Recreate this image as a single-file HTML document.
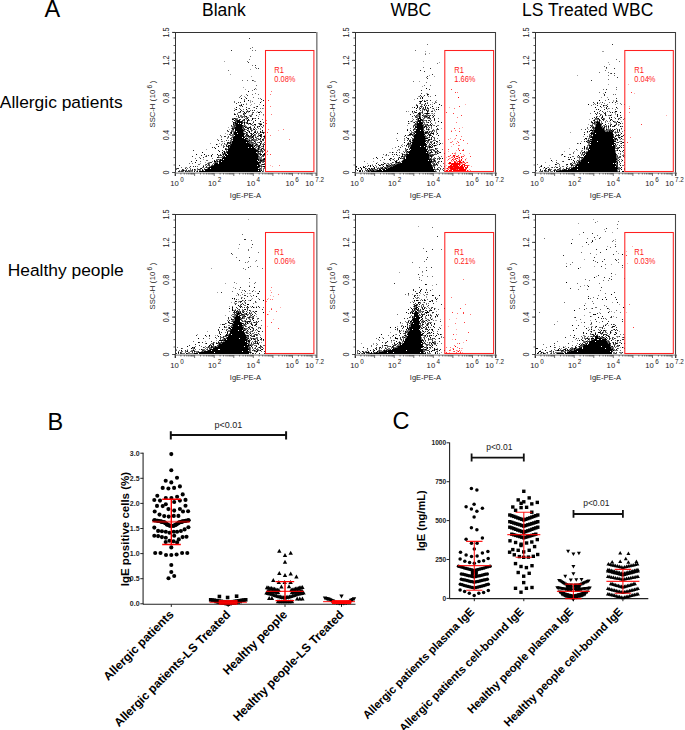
<!DOCTYPE html>
<html><head><meta charset="utf-8"><style>html,body{margin:0;padding:0;background:#fff;width:685px;height:730px;overflow:hidden}svg{display:block}text{font-family:"Liberation Sans", sans-serif}</style></head>
<body><svg width="685" height="730" viewBox="0 0 685 730" font-family='"Liberation Sans", sans-serif'>
<rect width="685" height="730" fill="#fff"/>
<path d="M224 61h1v1h-1zM250 69h1v1h-1zM230 74h1v1h-1zM251 76h1v1h-1zM254 81h2v1h-2zM243 87h1v1h-1zM245 89h1v1h-1zM256 89h1v1h-1zM244 96h1v1h-1zM250 100h1v1h-1zM250 101h1v1h-1zM261 101h1v1h-1zM250 102h1v1h-1zM246 103h1v1h-1zM254 103h1v1h-1zM251 104h1v1h-1zM259 104h1v1h-1zM250 105h1v1h-1zM240 106h1v1h-1zM253 107h1v1h-1zM234 108h1v1h-1zM263 108h1v1h-1zM242 111h1v1h-1zM257 111h1v1h-1zM248 112h1v1h-1zM256 112h1v1h-1zM251 114h1v1h-1zM263 115h1v1h-1zM258 116h1v1h-1zM254 118h1v1h-1zM245 122h1v1h-1zM261 123h1v1h-1zM263 126h1v1h-1zM228 127h1v1h-1zM229 129h1v1h-1zM227 131h1v1h-1zM225 133h1v1h-1zM227 134h1v1h-1zM264 135h1v1h-1zM221 137h1v1h-1zM227 137h1v1h-1zM224 141h1v1h-1zM210 143h1v1h-1zM219 143h1v1h-1zM222 143h1v1h-1zM217 144h1v1h-1zM224 144h2v1h-2zM221 145h1v1h-1zM206 149h1v1h-1zM203 159h1v1h-1zM205 162h1v1h-1zM208 162h1v1h-1zM200 163h1v1h-1zM185 167h1v1h-1z" fill="rgb(160,160,160)"/><path d="M252 47h1v1h-1zM250 48h1v1h-1zM252 50h1v1h-1zM255 50h1v1h-1zM250 56h1v1h-1zM249 59h1v1h-1zM247 61h1v1h-1zM252 65h1v1h-1zM255 67h1v1h-1zM256 68h1v1h-1zM228 70h1v1h-1zM242 80h1v1h-1zM247 80h1v1h-1zM253 80h1v1h-1zM256 85h1v1h-1zM255 88h1v1h-1zM252 90h1v1h-1zM255 93h1v1h-1zM246 94h1v1h-1zM252 94h1v1h-1zM258 94h1v1h-1zM241 95h1v1h-1zM240 96h1v1h-1zM239 97h1v1h-1zM245 97h1v1h-1zM253 97h1v1h-1zM258 98h1v1h-1zM260 98h1v1h-1zM244 99h1v1h-1zM244 100h1v1h-1zM234 101h1v1h-1zM252 101h1v1h-1zM234 102h1v1h-1zM246 104h1v1h-1zM240 105h1v1h-1zM256 106h1v1h-1zM239 108h1v1h-1zM248 108h1v1h-1zM260 108h1v1h-1zM262 108h1v1h-1zM235 109h1v1h-1zM243 109h1v1h-1zM247 110h1v1h-1zM250 110h1v1h-1zM246 111h1v1h-1zM248 111h1v1h-1zM260 111h1v1h-1zM238 112h1v1h-1zM240 112h1v1h-1zM252 112h1v1h-1zM261 112h1v1h-1zM234 113h1v1h-1zM237 113h1v1h-1zM244 113h1v1h-1zM252 113h1v1h-1zM237 114h1v1h-1zM244 114h1v1h-1zM259 114h1v1h-1zM263 114h1v1h-1zM240 115h2v1h-2zM249 115h3v1h-3zM236 116h1v1h-1zM240 116h5v1h-5zM251 116h1v1h-1zM238 117h1v1h-1zM241 117h1v1h-1zM244 117h1v1h-1zM246 117h3v1h-3zM232 118h2v1h-2zM236 118h2v1h-2zM245 118h2v1h-2zM253 118h1v1h-1zM237 119h1v1h-1zM243 119h1v1h-1zM246 119h1v1h-1zM262 119h1v1h-1zM235 120h1v1h-1zM249 120h1v1h-1zM251 120h1v1h-1zM232 121h1v1h-1zM244 121h1v1h-1zM253 121h1v1h-1zM236 122h1v1h-1zM243 122h1v1h-1zM234 123h1v1h-1zM246 123h1v1h-1zM248 123h1v1h-1zM252 123h1v1h-1zM258 123h1v1h-1zM260 123h1v1h-1zM234 124h1v1h-1zM248 124h1v1h-1zM250 124h1v1h-1zM259 124h1v1h-1zM233 125h1v1h-1zM243 125h3v1h-3zM252 125h2v1h-2zM255 125h1v1h-1zM260 125h1v1h-1zM231 126h3v1h-3zM235 126h1v1h-1zM243 126h1v1h-1zM245 126h2v1h-2zM250 126h1v1h-1zM254 126h1v1h-1zM258 126h1v1h-1zM261 126h1v1h-1zM232 127h2v1h-2zM247 127h2v1h-2zM231 128h1v1h-1zM242 128h1v1h-1zM244 128h1v1h-1zM251 128h1v1h-1zM253 128h1v1h-1zM255 128h1v1h-1zM258 128h1v1h-1zM260 128h1v1h-1zM243 129h1v1h-1zM245 129h2v1h-2zM248 129h1v1h-1zM251 129h1v1h-1zM256 129h1v1h-1zM260 129h1v1h-1zM231 130h3v1h-3zM244 130h1v1h-1zM248 130h1v1h-1zM252 130h1v1h-1zM255 130h1v1h-1zM232 131h3v1h-3zM243 131h2v1h-2zM248 131h1v1h-1zM251 131h1v1h-1zM254 131h1v1h-1zM257 131h1v1h-1zM262 131h1v1h-1zM233 132h1v1h-1zM243 132h1v1h-1zM247 132h1v1h-1zM261 132h1v1h-1zM264 132h1v1h-1zM230 133h1v1h-1zM233 133h1v1h-1zM245 133h3v1h-3zM258 133h2v1h-2zM230 134h1v1h-1zM232 134h2v1h-2zM244 134h1v1h-1zM255 134h1v1h-1zM258 134h1v1h-1zM220 135h1v1h-1zM230 135h4v1h-4zM245 135h1v1h-1zM250 135h1v1h-1zM254 135h2v1h-2zM258 135h1v1h-1zM221 136h1v1h-1zM232 136h2v1h-2zM244 136h1v1h-1zM246 136h1v1h-1zM251 136h1v1h-1zM255 136h1v1h-1zM258 136h1v1h-1zM228 137h1v1h-1zM231 137h2v1h-2zM246 137h1v1h-1zM248 137h3v1h-3zM253 137h1v1h-1zM256 137h1v1h-1zM261 137h1v1h-1zM227 138h1v1h-1zM231 138h1v1h-1zM249 138h3v1h-3zM256 138h3v1h-3zM263 138h2v1h-2zM217 139h1v1h-1zM232 139h1v1h-1zM246 139h4v1h-4zM251 139h1v1h-1zM253 139h4v1h-4zM260 139h1v1h-1zM228 140h1v1h-1zM230 140h2v1h-2zM248 140h1v1h-1zM250 140h1v1h-1zM252 140h1v1h-1zM254 140h4v1h-4zM260 140h1v1h-1zM262 140h1v1h-1zM221 141h2v1h-2zM230 141h2v1h-2zM249 141h3v1h-3zM255 141h1v1h-1zM229 142h1v1h-1zM231 142h1v1h-1zM248 142h1v1h-1zM250 142h1v1h-1zM253 142h1v1h-1zM257 142h2v1h-2zM261 142h1v1h-1zM264 142h1v1h-1zM228 143h1v1h-1zM231 143h1v1h-1zM250 143h4v1h-4zM255 143h2v1h-2zM261 143h1v1h-1zM263 143h1v1h-1zM221 144h1v1h-1zM226 144h2v1h-2zM251 144h1v1h-1zM253 144h1v1h-1zM255 144h1v1h-1zM262 144h2v1h-2zM223 145h1v1h-1zM253 145h2v1h-2zM256 145h3v1h-3zM260 145h1v1h-1zM223 146h2v1h-2zM229 146h1v1h-1zM253 146h1v1h-1zM256 146h2v1h-2zM261 146h2v1h-2zM229 147h1v1h-1zM255 147h2v1h-2zM260 147h1v1h-1zM263 147h1v1h-1zM226 148h1v1h-1zM255 148h1v1h-1zM257 148h1v1h-1zM259 148h1v1h-1zM261 148h1v1h-1zM263 148h1v1h-1zM256 149h2v1h-2zM259 149h2v1h-2zM264 149h1v1h-1zM226 150h1v1h-1zM258 150h1v1h-1zM260 150h1v1h-1zM262 150h1v1h-1zM223 151h1v1h-1zM261 151h1v1h-1zM263 151h1v1h-1zM225 152h1v1h-1zM257 152h1v1h-1zM260 152h1v1h-1zM222 153h2v1h-2zM257 153h1v1h-1zM222 154h1v1h-1zM224 154h1v1h-1zM258 154h2v1h-2zM206 155h1v1h-1zM219 155h1v1h-1zM258 155h1v1h-1zM264 155h1v1h-1zM205 156h1v1h-1zM218 156h1v1h-1zM223 156h1v1h-1zM259 156h1v1h-1zM261 156h2v1h-2zM199 157h1v1h-1zM219 157h4v1h-4zM258 157h4v1h-4zM195 158h1v1h-1zM212 158h1v1h-1zM258 158h4v1h-4zM263 158h1v1h-1zM216 159h2v1h-2zM219 159h1v1h-1zM221 159h1v1h-1zM259 159h1v1h-1zM261 159h2v1h-2zM206 160h2v1h-2zM217 160h1v1h-1zM259 160h1v1h-1zM264 160h1v1h-1zM200 161h1v1h-1zM212 161h1v1h-1zM216 161h1v1h-1zM218 161h1v1h-1zM259 161h1v1h-1zM262 161h1v1h-1zM209 162h1v1h-1zM214 162h1v1h-1zM216 162h2v1h-2zM262 162h2v1h-2zM189 163h1v1h-1zM192 163h1v1h-1zM207 163h1v1h-1zM209 163h1v1h-1zM213 163h2v1h-2zM259 163h2v1h-2zM264 163h1v1h-1zM198 164h2v1h-2zM205 164h1v1h-1zM209 164h1v1h-1zM212 164h1v1h-1zM259 164h1v1h-1zM261 164h1v1h-1zM203 165h1v1h-1zM205 165h1v1h-1zM207 165h2v1h-2zM211 165h1v1h-1zM260 165h2v1h-2zM197 166h1v1h-1zM209 166h2v1h-2zM260 166h1v1h-1zM262 166h1v1h-1zM181 167h1v1h-1zM186 167h1v1h-1zM189 167h1v1h-1zM202 167h2v1h-2zM205 167h1v1h-1zM207 167h1v1h-1zM259 167h1v1h-1zM261 167h1v1h-1zM264 167h1v1h-1zM176 168h1v1h-1zM187 168h1v1h-1zM190 168h1v1h-1zM197 168h1v1h-1zM204 168h1v1h-1zM207 168h1v1h-1zM259 168h1v1h-1zM261 168h1v1h-1zM263 168h2v1h-2zM176 169h1v1h-1zM183 169h1v1h-1zM186 169h1v1h-1zM190 169h1v1h-1zM195 169h1v1h-1zM197 169h1v1h-1zM200 169h1v1h-1zM260 169h2v1h-2zM263 169h1v1h-1zM179 170h1v1h-1zM181 170h1v1h-1zM184 170h2v1h-2zM189 170h3v1h-3zM194 170h2v1h-2zM197 170h1v1h-1zM199 170h2v1h-2zM203 170h1v1h-1zM260 170h1v1h-1zM263 170h1v1h-1zM180 171h1v1h-1zM183 171h1v1h-1zM186 171h1v1h-1zM188 171h1v1h-1zM190 171h3v1h-3zM196 171h1v1h-1zM263 171h1v1h-1z" fill="rgb(110,110,110)"/><path d="M249 38h1v1h-1zM231 50h1v1h-1zM248 62h1v1h-1zM255 65h1v1h-1zM258 68h1v1h-1zM252 80h1v1h-1zM254 89h1v1h-1zM247 95h1v1h-1zM261 99h1v1h-1zM238 102h1v1h-1zM240 102h1v1h-1zM236 103h1v1h-1zM241 104h1v1h-1zM243 104h1v1h-1zM239 105h1v1h-1zM242 106h1v1h-1zM246 107h1v1h-1zM254 107h1v1h-1zM249 108h1v1h-1zM256 108h1v1h-1zM240 109h1v1h-1zM234 110h1v1h-1zM241 110h1v1h-1zM252 110h1v1h-1zM254 110h1v1h-1zM243 111h1v1h-1zM247 111h1v1h-1zM239 112h1v1h-1zM246 112h1v1h-1zM253 112h1v1h-1zM243 113h1v1h-1zM235 114h1v1h-1zM243 114h1v1h-1zM252 114h1v1h-1zM238 115h1v1h-1zM244 115h1v1h-1zM256 115h1v1h-1zM238 116h1v1h-1zM245 116h1v1h-1zM250 116h1v1h-1zM239 117h1v1h-1zM242 117h1v1h-1zM235 118h1v1h-1zM255 118h1v1h-1zM233 119h1v1h-1zM235 119h2v1h-2zM239 119h2v1h-2zM236 120h1v1h-1zM242 120h3v1h-3zM248 120h1v1h-1zM235 121h2v1h-2zM240 121h1v1h-1zM242 121h1v1h-1zM234 122h1v1h-1zM242 122h1v1h-1zM246 122h2v1h-2zM253 122h1v1h-1zM263 122h1v1h-1zM233 123h1v1h-1zM242 123h1v1h-1zM259 123h1v1h-1zM235 124h1v1h-1zM244 124h1v1h-1zM251 124h1v1h-1zM231 125h1v1h-1zM234 125h2v1h-2zM263 125h1v1h-1zM234 126h1v1h-1zM242 126h1v1h-1zM257 126h1v1h-1zM234 127h1v1h-1zM242 127h2v1h-2zM246 127h1v1h-1zM257 127h1v1h-1zM262 127h1v1h-1zM233 128h2v1h-2zM243 128h1v1h-1zM250 128h1v1h-1zM232 129h1v1h-1zM250 129h1v1h-1zM253 129h1v1h-1zM227 130h1v1h-1zM251 130h1v1h-1zM228 131h1v1h-1zM231 131h1v1h-1zM245 131h1v1h-1zM255 131h1v1h-1zM230 132h1v1h-1zM257 132h1v1h-1zM244 133h1v1h-1zM250 133h1v1h-1zM256 133h1v1h-1zM263 133h1v1h-1zM229 134h1v1h-1zM247 134h1v1h-1zM251 134h2v1h-2zM254 134h1v1h-1zM260 134h1v1h-1zM246 135h2v1h-2zM261 135h1v1h-1zM224 136h2v1h-2zM228 136h1v1h-1zM245 136h1v1h-1zM247 136h2v1h-2zM250 136h1v1h-1zM253 136h1v1h-1zM257 136h1v1h-1zM261 136h1v1h-1zM263 136h1v1h-1zM251 137h1v1h-1zM255 137h1v1h-1zM264 137h1v1h-1zM230 138h1v1h-1zM221 139h1v1h-1zM231 139h1v1h-1zM258 139h2v1h-2zM263 139h1v1h-1zM218 140h1v1h-1zM226 140h1v1h-1zM247 140h1v1h-1zM251 140h1v1h-1zM253 140h1v1h-1zM263 140h1v1h-1zM260 141h1v1h-1zM227 142h1v1h-1zM249 142h1v1h-1zM251 142h2v1h-2zM255 142h1v1h-1zM224 143h1v1h-1zM229 143h2v1h-2zM249 143h1v1h-1zM254 143h1v1h-1zM230 144h1v1h-1zM257 144h1v1h-1zM264 144h1v1h-1zM230 145h1v1h-1zM263 145h1v1h-1zM226 146h2v1h-2zM259 146h1v1h-1zM212 147h1v1h-1zM214 147h1v1h-1zM223 147h1v1h-1zM258 147h2v1h-2zM225 148h1v1h-1zM228 148h1v1h-1zM226 149h2v1h-2zM263 149h1v1h-1zM193 150h1v1h-1zM218 150h1v1h-1zM222 150h1v1h-1zM261 150h1v1h-1zM264 150h1v1h-1zM226 151h2v1h-2zM257 151h1v1h-1zM259 151h2v1h-2zM262 151h1v1h-1zM226 152h1v1h-1zM258 152h1v1h-1zM262 152h1v1h-1zM225 153h1v1h-1zM258 153h3v1h-3zM212 154h1v1h-1zM220 154h1v1h-1zM201 155h1v1h-1zM208 155h1v1h-1zM218 155h1v1h-1zM220 155h2v1h-2zM223 155h1v1h-1zM260 155h1v1h-1zM262 155h2v1h-2zM192 156h1v1h-1zM206 156h1v1h-1zM211 156h1v1h-1zM222 156h1v1h-1zM258 156h1v1h-1zM263 156h1v1h-1zM203 157h1v1h-1zM218 157h1v1h-1zM200 158h1v1h-1zM218 159h1v1h-1zM260 159h1v1h-1zM216 160h1v1h-1zM219 160h1v1h-1zM262 160h2v1h-2zM191 161h1v1h-1zM260 161h2v1h-2zM263 161h2v1h-2zM210 162h2v1h-2zM215 162h1v1h-1zM208 163h1v1h-1zM206 164h1v1h-1zM208 164h1v1h-1zM264 164h1v1h-1zM179 165h1v1h-1zM209 165h1v1h-1zM212 165h2v1h-2zM190 166h1v1h-1zM193 166h1v1h-1zM195 166h1v1h-1zM206 166h1v1h-1zM261 166h1v1h-1zM206 167h1v1h-1zM208 167h1v1h-1zM177 168h2v1h-2zM185 168h1v1h-1zM200 168h1v1h-1zM260 168h1v1h-1zM182 169h1v1h-1zM192 169h1v1h-1zM198 169h2v1h-2zM202 169h1v1h-1zM204 169h1v1h-1zM182 170h1v1h-1zM186 170h1v1h-1zM188 170h1v1h-1zM192 170h1v1h-1zM178 171h2v1h-2zM181 171h2v1h-2zM187 171h1v1h-1zM189 171h1v1h-1zM262 171h1v1h-1z" fill="rgb(50,50,50)"/><path d="M248 91h1v1h-1zM241 98h1v1h-1zM246 98h1v1h-1zM248 100h1v1h-1zM263 100h1v1h-1zM244 101h1v1h-1zM260 102h1v1h-1zM241 105h1v1h-1zM263 105h1v1h-1zM257 106h1v1h-1zM236 107h1v1h-1zM236 109h1v1h-1zM246 109h1v1h-1zM240 111h1v1h-1zM249 111h1v1h-1zM244 112h1v1h-1zM258 112h2v1h-2zM245 113h1v1h-1zM234 114h1v1h-1zM246 116h1v1h-1zM234 118h1v1h-1zM247 118h1v1h-1zM252 118h1v1h-1zM258 118h1v1h-1zM232 119h1v1h-1zM244 119h1v1h-1zM248 119h1v1h-1zM252 119h1v1h-1zM234 120h1v1h-1zM237 120h3v1h-3zM247 120h1v1h-1zM255 120h1v1h-1zM237 121h3v1h-3zM241 121h1v1h-1zM247 121h1v1h-1zM260 121h1v1h-1zM233 122h1v1h-1zM235 122h1v1h-1zM237 122h5v1h-5zM244 122h1v1h-1zM235 123h3v1h-3zM239 123h1v1h-1zM241 123h1v1h-1zM244 123h1v1h-1zM247 123h1v1h-1zM249 123h2v1h-2zM233 124h1v1h-1zM236 124h6v1h-6zM254 124h2v1h-2zM260 124h2v1h-2zM236 125h7v1h-7zM236 126h6v1h-6zM244 126h1v1h-1zM259 126h1v1h-1zM235 127h7v1h-7zM245 127h1v1h-1zM249 127h2v1h-2zM254 127h1v1h-1zM232 128h1v1h-1zM235 128h7v1h-7zM247 128h2v1h-2zM233 129h1v1h-1zM235 129h8v1h-8zM244 129h1v1h-1zM254 129h1v1h-1zM235 130h9v1h-9zM247 130h1v1h-1zM262 130h1v1h-1zM235 131h1v1h-1zM237 131h6v1h-6zM249 131h1v1h-1zM260 131h1v1h-1zM231 132h1v1h-1zM234 132h9v1h-9zM246 132h1v1h-1zM249 132h1v1h-1zM254 132h2v1h-2zM260 132h1v1h-1zM262 132h2v1h-2zM231 133h1v1h-1zM234 133h3v1h-3zM238 133h6v1h-6zM251 133h1v1h-1zM253 133h1v1h-1zM234 134h10v1h-10zM246 134h1v1h-1zM261 134h1v1h-1zM235 135h9v1h-9zM248 135h1v1h-1zM251 135h1v1h-1zM253 135h1v1h-1zM259 135h2v1h-2zM234 136h10v1h-10zM249 136h1v1h-1zM252 136h1v1h-1zM260 136h1v1h-1zM264 136h1v1h-1zM233 137h9v1h-9zM243 137h2v1h-2zM252 137h1v1h-1zM233 138h11v1h-11zM245 138h3v1h-3zM253 138h1v1h-1zM260 138h1v1h-1zM233 139h13v1h-13zM252 139h1v1h-1zM262 139h1v1h-1zM233 140h14v1h-14zM249 140h1v1h-1zM232 141h17v1h-17zM254 141h1v1h-1zM261 141h1v1h-1zM228 142h1v1h-1zM230 142h1v1h-1zM232 142h14v1h-14zM247 142h1v1h-1zM259 142h1v1h-1zM227 143h1v1h-1zM232 143h17v1h-17zM260 143h1v1h-1zM216 144h1v1h-1zM231 144h20v1h-20zM252 144h1v1h-1zM256 144h1v1h-1zM260 144h1v1h-1zM226 145h1v1h-1zM228 145h2v1h-2zM231 145h22v1h-22zM255 145h1v1h-1zM259 145h1v1h-1zM218 146h1v1h-1zM228 146h1v1h-1zM230 146h23v1h-23zM254 146h1v1h-1zM258 146h1v1h-1zM263 146h1v1h-1zM228 147h1v1h-1zM230 147h18v1h-18zM249 147h2v1h-2zM252 147h2v1h-2zM215 148h1v1h-1zM229 148h26v1h-26zM258 148h1v1h-1zM262 148h1v1h-1zM225 149h1v1h-1zM228 149h28v1h-28zM258 149h1v1h-1zM261 149h1v1h-1zM228 150h30v1h-30zM219 151h1v1h-1zM224 151h1v1h-1zM228 151h29v1h-29zM258 151h1v1h-1zM202 152h1v1h-1zM222 152h1v1h-1zM224 152h1v1h-1zM227 152h29v1h-29zM224 153h1v1h-1zM227 153h30v1h-30zM264 153h1v1h-1zM196 154h1v1h-1zM204 154h1v1h-1zM217 154h1v1h-1zM223 154h1v1h-1zM225 154h2v1h-2zM228 154h30v1h-30zM260 154h2v1h-2zM263 154h2v1h-2zM211 155h1v1h-1zM225 155h33v1h-33zM224 156h1v1h-1zM226 156h32v1h-32zM217 157h1v1h-1zM223 157h35v1h-35zM222 158h36v1h-36zM264 158h1v1h-1zM220 159h1v1h-1zM222 159h1v1h-1zM224 159h35v1h-35zM263 159h2v1h-2zM196 160h1v1h-1zM214 160h1v1h-1zM220 160h37v1h-37zM258 160h1v1h-1zM260 160h2v1h-2zM214 161h2v1h-2zM217 161h1v1h-1zM219 161h2v1h-2zM222 161h36v1h-36zM195 162h1v1h-1zM219 162h42v1h-42zM215 163h3v1h-3zM219 163h40v1h-40zM214 164h45v1h-45zM262 164h2v1h-2zM214 165h43v1h-43zM258 165h2v1h-2zM203 166h1v1h-1zM211 166h49v1h-49zM263 166h2v1h-2zM209 167h50v1h-50zM201 168h1v1h-1zM208 168h2v1h-2zM211 168h47v1h-47zM194 169h1v1h-1zM205 169h55v1h-55zM183 170h1v1h-1zM202 170h1v1h-1zM205 170h53v1h-53zM259 170h1v1h-1zM261 170h1v1h-1zM185 171h1v1h-1zM194 171h1v1h-1zM197 171h1v1h-1zM199 171h62v1h-62z" fill="rgb(0,0,0)"/><path d="M278 130h1v1h-1zM267 150h1v1h-1zM266 152h1v1h-1zM270 165h1v1h-1zM272 166h1v1h-1z" fill="rgb(255,175,175)"/><path d="M271 91h1v1h-1zM270 94h1v1h-1zM270 106h1v1h-1zM271 114h1v1h-1zM266 120h1v1h-1zM268 129h1v1h-1zM283 129h1v1h-1zM270 135h1v1h-1zM289 139h1v1h-1zM267 154h1v1h-1zM279 165h1v1h-1z" fill="rgb(255,120,120)"/><path d="M268 100h1v1h-1zM266 123h1v1h-1zM267 132h1v1h-1zM267 151h1v1h-1zM270 154h1v1h-1z" fill="rgb(255,60,60)"/><path d="M172.5 32.5H316" stroke="#333" stroke-width="1"/><path d="M175.5 32V176" stroke="#333" stroke-width="1"/><path d="M316.8 32V176" stroke="#888" stroke-width="1.6"/><path d="M175 173.1H317" stroke="#777" stroke-width="1"/><path d="M173.5 172.5H175M173.5 165.0H175M173.5 157.6H175M173.5 150.1H175M173.5 142.6H175M173.5 135.1H175M173.5 127.7H175M173.5 120.2H175M173.5 112.7H175M173.5 105.3H175M173.5 97.8H175M173.5 90.3H175M173.5 82.8H175M173.5 75.4H175M173.5 67.9H175M173.5 60.4H175M173.5 52.9H175M173.5 45.5H175M173.5 38.0H175M172 172.5H175M172 135.1H175M172 97.8H175M172 60.4H175M172 32.4H175" stroke="#333" stroke-width="0.8"/><text transform="translate(169.4,172.5) rotate(-90) scale(1,1.12)" font-size="7.3" text-anchor="middle" fill="#222">0</text><text transform="translate(169.4,135.1) rotate(-90) scale(1,1.12)" font-size="7.3" text-anchor="middle" fill="#222">0.4</text><text transform="translate(169.4,97.8) rotate(-90) scale(1,1.12)" font-size="7.3" text-anchor="middle" fill="#222">0.8</text><text transform="translate(169.4,60.4) rotate(-90) scale(1,1.12)" font-size="7.3" text-anchor="middle" fill="#222">1.2</text><text transform="translate(169.4,32.4) rotate(-90) scale(1,1.12)" font-size="7.3" text-anchor="middle" fill="#222">1.5</text><text transform="translate(155.1,127.4) rotate(-90)" font-size="7.65" fill="#222">SSC-H (<tspan dx="0.8">10</tspan><tspan font-size="6.6" dx="1.1" dy="-3.6">6</tspan><tspan dx="1.6" dy="3.6">)</tspan></text><path d="M175.0 173v3M180.9 173v1.5M184.3 173v1.5M186.8 173v1.5M188.7 173v1.5M190.2 173v1.5M191.5 173v1.5M192.7 173v1.5M193.7 173v1.5M194.6 173v3M200.5 173v1.5M203.9 173v1.5M206.4 173v1.5M208.3 173v1.5M209.8 173v1.5M211.1 173v1.5M212.3 173v1.5M213.3 173v1.5M214.2 173v3M220.1 173v1.5M223.5 173v1.5M226.0 173v1.5M227.9 173v1.5M229.4 173v1.5M230.7 173v1.5M231.9 173v1.5M232.9 173v1.5M233.8 173v3M239.6 173v1.5M243.1 173v1.5M245.5 173v1.5M247.4 173v1.5M249.0 173v1.5M250.3 173v1.5M251.4 173v1.5M252.4 173v1.5M253.3 173v3M259.2 173v1.5M262.7 173v1.5M265.1 173v1.5M267.0 173v1.5M268.6 173v1.5M269.9 173v1.5M271.0 173v1.5M272.0 173v1.5M272.9 173v3M278.8 173v1.5M282.3 173v1.5M284.7 173v1.5M286.6 173v1.5M288.2 173v1.5M289.5 173v1.5M290.6 173v1.5M291.6 173v1.5M292.5 173v3M298.4 173v1.5M301.8 173v1.5M304.3 173v1.5M306.2 173v1.5M307.7 173v1.5M309.0 173v1.5M310.2 173v1.5M311.2 173v1.5M312.1 173v3M316.0 173v3" stroke="#333" stroke-width="0.7"/><text x="177.0" y="186" font-size="7.7" text-anchor="middle" fill="#222">10<tspan font-size="6.3" dx="1.3" dy="-3.9">0</tspan></text><text x="214.7" y="186" font-size="7.7" text-anchor="middle" fill="#222">10<tspan font-size="6.3" dx="1.3" dy="-3.9">2</tspan></text><text x="253.3" y="186" font-size="7.7" text-anchor="middle" fill="#222">10<tspan font-size="6.3" dx="1.3" dy="-3.9">4</tspan></text><text x="292.1" y="186" font-size="7.7" text-anchor="middle" fill="#222">10<tspan font-size="6.3" dx="1.3" dy="-3.9">6</tspan></text><text x="314.6" y="186" font-size="7.7" text-anchor="middle" fill="#222">10<tspan font-size="6.3" dx="1.3" dy="-3.9">7.2</tspan></text><text x="245.5" y="198" font-size="7.5" text-anchor="middle" fill="#222">IgE-PE-A</text><rect x="265.5" y="50.5" width="48.4" height="121" fill="none" stroke="#ff2020" stroke-width="1.05"/><text transform="translate(274.3,72.9) scale(0.9,1)" font-size="8.3" fill="#ff1a1a">R1</text><text transform="translate(274.3,81.7) scale(0.9,1)" font-size="8.3" fill="#ff1a1a">0.08%</text><path d="M425 51h1v1h-1zM425 53h1v1h-1zM429 53h1v1h-1zM423 61h1v1h-1zM439 62h1v1h-1zM429 75h1v1h-1zM434 76h1v1h-1zM419 81h1v1h-1zM422 86h1v1h-1zM426 93h2v1h-2zM418 96h1v1h-1zM423 96h1v1h-1zM414 99h1v1h-1zM436 100h1v1h-1zM432 102h1v1h-1zM425 104h1v1h-1zM432 104h1v1h-1zM436 107h1v1h-1zM434 109h1v1h-1zM432 110h1v1h-1zM408 111h1v1h-1zM435 111h1v1h-1zM431 113h1v1h-1zM433 114h1v1h-1zM433 117h1v1h-1zM412 118h1v1h-1zM410 121h1v1h-1zM412 121h1v1h-1zM435 122h1v1h-1zM409 123h1v1h-1zM435 123h1v1h-1zM407 125h1v1h-1zM441 128h1v1h-1zM409 132h1v1h-1zM407 135h1v1h-1zM396 138h1v1h-1zM404 139h1v1h-1zM439 142h1v1h-1zM442 143h1v1h-1zM402 144h1v1h-1zM392 148h1v1h-1zM398 149h1v1h-1zM399 150h1v1h-1zM389 152h2v1h-2zM393 152h1v1h-1zM401 153h1v1h-1zM385 155h1v1h-1zM398 157h1v1h-1zM390 159h1v1h-1zM392 159h1v1h-1zM373 161h1v1h-1zM377 162h1v1h-1zM367 163h1v1h-1zM372 164h1v1h-1zM444 171h1v1h-1z" fill="rgb(160,160,160)"/><path d="M427 44h1v1h-1zM415 50h1v1h-1zM425 54h1v1h-1zM437 63h1v1h-1zM423 67h1v1h-1zM426 77h1v1h-1zM413 81h1v1h-1zM426 82h1v1h-1zM424 85h1v1h-1zM430 85h1v1h-1zM427 95h1v1h-1zM419 96h1v1h-1zM428 96h1v1h-1zM430 96h1v1h-1zM420 97h1v1h-1zM424 100h1v1h-1zM426 100h1v1h-1zM435 101h1v1h-1zM427 102h1v1h-1zM435 102h2v1h-2zM419 103h1v1h-1zM416 104h1v1h-1zM421 104h2v1h-2zM424 104h1v1h-1zM430 104h1v1h-1zM421 105h1v1h-1zM422 106h1v1h-1zM412 107h1v1h-1zM419 107h1v1h-1zM421 107h1v1h-1zM419 108h1v1h-1zM422 108h1v1h-1zM432 108h1v1h-1zM419 109h1v1h-1zM422 109h2v1h-2zM425 109h2v1h-2zM428 109h1v1h-1zM422 110h1v1h-1zM424 110h1v1h-1zM427 110h1v1h-1zM434 110h1v1h-1zM406 111h1v1h-1zM428 111h1v1h-1zM412 112h1v1h-1zM414 112h1v1h-1zM420 112h2v1h-2zM413 113h1v1h-1zM422 113h1v1h-1zM424 113h1v1h-1zM429 113h1v1h-1zM432 113h1v1h-1zM434 113h1v1h-1zM417 114h2v1h-2zM423 114h1v1h-1zM426 114h2v1h-2zM417 115h2v1h-2zM420 115h1v1h-1zM423 115h2v1h-2zM426 115h2v1h-2zM429 115h1v1h-1zM416 116h3v1h-3zM420 116h1v1h-1zM423 116h1v1h-1zM427 116h1v1h-1zM415 117h1v1h-1zM417 117h1v1h-1zM422 117h1v1h-1zM425 117h3v1h-3zM432 117h1v1h-1zM417 118h1v1h-1zM423 118h2v1h-2zM427 118h2v1h-2zM438 118h1v1h-1zM413 119h1v1h-1zM417 119h1v1h-1zM422 119h2v1h-2zM430 119h1v1h-1zM412 120h1v1h-1zM417 120h1v1h-1zM423 120h3v1h-3zM431 120h1v1h-1zM415 121h2v1h-2zM422 121h2v1h-2zM426 121h1v1h-1zM413 122h1v1h-1zM416 122h1v1h-1zM423 122h2v1h-2zM426 122h2v1h-2zM430 122h1v1h-1zM416 123h1v1h-1zM424 123h1v1h-1zM414 124h1v1h-1zM422 124h5v1h-5zM432 124h1v1h-1zM413 125h1v1h-1zM415 125h2v1h-2zM426 125h2v1h-2zM429 125h2v1h-2zM433 125h2v1h-2zM437 125h2v1h-2zM423 126h1v1h-1zM428 126h1v1h-1zM431 126h1v1h-1zM413 127h1v1h-1zM427 127h1v1h-1zM431 127h1v1h-1zM410 128h1v1h-1zM415 128h1v1h-1zM428 128h1v1h-1zM431 128h1v1h-1zM415 129h1v1h-1zM427 129h1v1h-1zM429 129h1v1h-1zM433 129h1v1h-1zM436 129h1v1h-1zM423 130h2v1h-2zM428 130h1v1h-1zM433 130h2v1h-2zM436 130h1v1h-1zM411 131h1v1h-1zM425 131h2v1h-2zM430 131h2v1h-2zM434 131h1v1h-1zM436 131h1v1h-1zM411 132h4v1h-4zM424 132h1v1h-1zM428 132h1v1h-1zM433 132h1v1h-1zM436 132h1v1h-1zM413 133h1v1h-1zM424 133h1v1h-1zM427 133h1v1h-1zM413 134h2v1h-2zM436 134h1v1h-1zM409 135h2v1h-2zM413 135h1v1h-1zM424 135h2v1h-2zM431 135h1v1h-1zM404 136h1v1h-1zM426 136h1v1h-1zM429 136h1v1h-1zM411 137h1v1h-1zM425 137h4v1h-4zM433 137h2v1h-2zM404 138h1v1h-1zM413 138h1v1h-1zM437 138h1v1h-1zM410 139h1v1h-1zM412 139h1v1h-1zM425 139h1v1h-1zM430 139h1v1h-1zM434 139h1v1h-1zM404 140h1v1h-1zM410 140h1v1h-1zM427 140h1v1h-1zM429 140h1v1h-1zM434 140h2v1h-2zM412 141h1v1h-1zM428 141h1v1h-1zM430 141h3v1h-3zM408 142h1v1h-1zM410 142h1v1h-1zM426 142h3v1h-3zM437 142h1v1h-1zM407 143h1v1h-1zM409 143h1v1h-1zM427 143h1v1h-1zM429 143h1v1h-1zM431 143h1v1h-1zM433 143h1v1h-1zM436 143h1v1h-1zM409 144h3v1h-3zM437 144h1v1h-1zM401 145h1v1h-1zM404 145h1v1h-1zM408 145h3v1h-3zM426 145h1v1h-1zM428 145h2v1h-2zM433 145h1v1h-1zM436 145h1v1h-1zM402 146h1v1h-1zM406 146h1v1h-1zM409 146h2v1h-2zM427 146h2v1h-2zM434 146h1v1h-1zM395 147h1v1h-1zM427 147h2v1h-2zM432 147h1v1h-1zM409 148h1v1h-1zM429 148h1v1h-1zM436 148h2v1h-2zM399 149h1v1h-1zM405 149h2v1h-2zM429 149h2v1h-2zM433 149h1v1h-1zM435 149h2v1h-2zM442 149h1v1h-1zM397 150h1v1h-1zM405 150h1v1h-1zM429 150h1v1h-1zM431 150h1v1h-1zM403 151h1v1h-1zM405 151h2v1h-2zM408 151h1v1h-1zM428 151h1v1h-1zM434 151h1v1h-1zM436 151h2v1h-2zM407 152h1v1h-1zM428 152h2v1h-2zM436 152h2v1h-2zM402 153h1v1h-1zM406 153h2v1h-2zM428 153h1v1h-1zM430 153h1v1h-1zM435 153h1v1h-1zM438 153h1v1h-1zM383 154h1v1h-1zM403 154h1v1h-1zM405 154h1v1h-1zM429 154h3v1h-3zM433 154h1v1h-1zM435 154h2v1h-2zM386 155h1v1h-1zM388 155h1v1h-1zM397 155h1v1h-1zM399 155h1v1h-1zM404 155h1v1h-1zM393 156h1v1h-1zM403 156h1v1h-1zM405 156h1v1h-1zM429 156h1v1h-1zM432 156h1v1h-1zM438 156h1v1h-1zM441 156h1v1h-1zM401 157h1v1h-1zM403 157h1v1h-1zM429 157h1v1h-1zM434 157h1v1h-1zM373 158h1v1h-1zM394 158h1v1h-1zM401 158h1v1h-1zM429 158h1v1h-1zM431 158h1v1h-1zM433 158h2v1h-2zM437 158h3v1h-3zM403 159h1v1h-1zM432 159h1v1h-1zM437 159h1v1h-1zM380 160h1v1h-1zM394 160h1v1h-1zM397 160h1v1h-1zM402 160h1v1h-1zM430 160h1v1h-1zM433 160h1v1h-1zM435 160h1v1h-1zM364 161h1v1h-1zM399 161h1v1h-1zM401 161h1v1h-1zM439 161h1v1h-1zM383 162h1v1h-1zM393 162h1v1h-1zM395 162h1v1h-1zM400 162h1v1h-1zM432 162h2v1h-2zM435 162h1v1h-1zM438 162h1v1h-1zM385 163h1v1h-1zM387 163h2v1h-2zM390 163h2v1h-2zM395 163h3v1h-3zM432 163h2v1h-2zM438 163h1v1h-1zM443 163h1v1h-1zM382 164h1v1h-1zM386 164h1v1h-1zM388 164h2v1h-2zM392 164h2v1h-2zM395 164h1v1h-1zM431 164h1v1h-1zM435 164h1v1h-1zM437 164h1v1h-1zM372 165h1v1h-1zM375 165h1v1h-1zM382 165h1v1h-1zM388 165h2v1h-2zM391 165h1v1h-1zM432 165h1v1h-1zM435 165h1v1h-1zM440 165h1v1h-1zM367 166h1v1h-1zM376 166h1v1h-1zM386 166h1v1h-1zM390 166h1v1h-1zM392 166h1v1h-1zM432 166h3v1h-3zM441 166h1v1h-1zM356 167h1v1h-1zM376 167h1v1h-1zM378 167h1v1h-1zM380 167h2v1h-2zM386 167h1v1h-1zM388 167h2v1h-2zM438 167h2v1h-2zM366 168h1v1h-1zM372 168h2v1h-2zM378 168h1v1h-1zM380 168h1v1h-1zM383 168h2v1h-2zM387 168h1v1h-1zM434 168h1v1h-1zM365 169h1v1h-1zM371 169h1v1h-1zM373 169h2v1h-2zM376 169h2v1h-2zM435 169h2v1h-2zM440 169h1v1h-1zM442 169h1v1h-1zM365 170h1v1h-1zM367 170h1v1h-1zM369 170h1v1h-1zM374 170h2v1h-2zM435 170h1v1h-1zM364 171h1v1h-1zM366 171h2v1h-2zM370 171h1v1h-1zM436 171h1v1h-1zM439 171h1v1h-1z" fill="rgb(110,110,110)"/><path d="M430 68h1v1h-1zM420 70h1v1h-1zM424 71h1v1h-1zM432 74h1v1h-1zM427 76h1v1h-1zM427 78h1v1h-1zM429 89h1v1h-1zM421 90h1v1h-1zM421 93h1v1h-1zM428 94h1v1h-1zM420 95h1v1h-1zM424 95h1v1h-1zM435 95h1v1h-1zM421 96h1v1h-1zM417 98h1v1h-1zM420 98h1v1h-1zM422 100h1v1h-1zM427 100h1v1h-1zM430 100h1v1h-1zM419 101h1v1h-1zM425 101h1v1h-1zM420 102h1v1h-1zM420 103h1v1h-1zM427 103h1v1h-1zM434 103h1v1h-1zM416 105h2v1h-2zM426 105h1v1h-1zM441 105h1v1h-1zM420 106h2v1h-2zM425 106h1v1h-1zM423 107h1v1h-1zM427 107h1v1h-1zM430 107h1v1h-1zM423 108h1v1h-1zM425 108h1v1h-1zM427 108h2v1h-2zM433 108h1v1h-1zM416 110h1v1h-1zM420 110h1v1h-1zM428 110h1v1h-1zM414 111h1v1h-1zM422 111h1v1h-1zM431 111h2v1h-2zM416 112h1v1h-1zM419 112h1v1h-1zM422 112h1v1h-1zM427 112h1v1h-1zM420 113h1v1h-1zM425 113h1v1h-1zM410 114h1v1h-1zM420 114h1v1h-1zM414 115h1v1h-1zM416 115h1v1h-1zM419 115h1v1h-1zM425 115h1v1h-1zM428 115h1v1h-1zM430 115h1v1h-1zM432 115h1v1h-1zM434 115h1v1h-1zM412 116h1v1h-1zM415 116h1v1h-1zM424 116h2v1h-2zM429 116h1v1h-1zM416 117h1v1h-1zM420 117h1v1h-1zM424 117h1v1h-1zM429 117h1v1h-1zM429 118h2v1h-2zM434 118h1v1h-1zM416 119h1v1h-1zM421 120h1v1h-1zM426 120h1v1h-1zM428 120h2v1h-2zM434 120h1v1h-1zM411 121h1v1h-1zM417 121h1v1h-1zM430 121h1v1h-1zM422 122h1v1h-1zM408 123h1v1h-1zM415 123h1v1h-1zM431 123h1v1h-1zM415 124h2v1h-2zM414 125h1v1h-1zM423 125h1v1h-1zM425 125h1v1h-1zM428 125h1v1h-1zM413 126h1v1h-1zM416 126h1v1h-1zM424 126h1v1h-1zM426 126h1v1h-1zM423 127h1v1h-1zM426 127h1v1h-1zM429 127h1v1h-1zM414 128h1v1h-1zM423 128h1v1h-1zM426 128h1v1h-1zM437 128h1v1h-1zM407 129h1v1h-1zM413 129h2v1h-2zM423 129h1v1h-1zM426 129h1v1h-1zM437 129h2v1h-2zM410 130h1v1h-1zM413 130h1v1h-1zM432 130h1v1h-1zM414 131h1v1h-1zM429 131h1v1h-1zM432 131h1v1h-1zM427 132h1v1h-1zM429 132h1v1h-1zM431 132h1v1h-1zM397 133h1v1h-1zM410 133h2v1h-2zM426 133h1v1h-1zM428 133h1v1h-1zM430 133h2v1h-2zM412 134h1v1h-1zM428 134h3v1h-3zM433 134h1v1h-1zM408 135h1v1h-1zM412 135h1v1h-1zM427 135h1v1h-1zM413 136h1v1h-1zM425 136h1v1h-1zM406 137h1v1h-1zM429 137h1v1h-1zM431 137h1v1h-1zM407 138h1v1h-1zM412 138h1v1h-1zM431 138h1v1h-1zM434 138h1v1h-1zM408 139h1v1h-1zM428 139h1v1h-1zM397 140h1v1h-1zM407 140h1v1h-1zM409 140h1v1h-1zM425 140h1v1h-1zM433 140h1v1h-1zM439 140h1v1h-1zM409 141h1v1h-1zM427 141h1v1h-1zM437 141h1v1h-1zM411 142h1v1h-1zM430 142h2v1h-2zM408 144h1v1h-1zM429 144h2v1h-2zM431 145h1v1h-1zM398 146h1v1h-1zM408 146h1v1h-1zM400 147h1v1h-1zM408 147h1v1h-1zM430 147h1v1h-1zM405 148h1v1h-1zM427 148h1v1h-1zM409 149h1v1h-1zM427 149h1v1h-1zM431 149h2v1h-2zM406 150h1v1h-1zM428 150h1v1h-1zM430 150h1v1h-1zM433 150h2v1h-2zM435 151h1v1h-1zM438 151h1v1h-1zM396 152h1v1h-1zM399 152h1v1h-1zM404 152h1v1h-1zM406 152h1v1h-1zM431 152h2v1h-2zM439 152h1v1h-1zM429 153h1v1h-1zM444 153h1v1h-1zM386 154h1v1h-1zM392 154h1v1h-1zM394 154h1v1h-1zM404 154h1v1h-1zM432 154h1v1h-1zM434 154h1v1h-1zM402 155h1v1h-1zM405 155h2v1h-2zM429 155h1v1h-1zM431 155h3v1h-3zM401 156h1v1h-1zM404 156h1v1h-1zM430 156h1v1h-1zM382 157h1v1h-1zM404 157h1v1h-1zM431 157h1v1h-1zM439 157h1v1h-1zM377 158h1v1h-1zM391 158h1v1h-1zM398 158h1v1h-1zM402 158h2v1h-2zM430 158h1v1h-1zM435 158h1v1h-1zM440 158h1v1h-1zM384 159h1v1h-1zM393 159h1v1h-1zM431 159h1v1h-1zM433 159h2v1h-2zM439 159h1v1h-1zM390 160h1v1h-1zM396 160h1v1h-1zM432 161h4v1h-4zM438 161h1v1h-1zM392 162h1v1h-1zM397 162h1v1h-1zM399 162h1v1h-1zM431 162h1v1h-1zM437 162h1v1h-1zM398 163h2v1h-2zM434 163h1v1h-1zM436 163h1v1h-1zM378 164h1v1h-1zM391 164h1v1h-1zM396 164h1v1h-1zM433 164h2v1h-2zM368 165h1v1h-1zM380 165h1v1h-1zM392 165h3v1h-3zM433 165h2v1h-2zM437 165h1v1h-1zM363 166h1v1h-1zM365 166h1v1h-1zM387 166h3v1h-3zM391 166h1v1h-1zM444 166h1v1h-1zM384 167h2v1h-2zM387 167h1v1h-1zM365 168h1v1h-1zM368 168h1v1h-1zM377 168h1v1h-1zM379 168h1v1h-1zM382 168h1v1h-1zM437 168h1v1h-1zM440 168h1v1h-1zM443 168h1v1h-1zM356 169h1v1h-1zM361 169h1v1h-1zM369 169h2v1h-2zM375 169h1v1h-1zM382 169h1v1h-1zM434 169h1v1h-1zM437 169h2v1h-2zM359 170h1v1h-1zM362 170h1v1h-1zM366 170h1v1h-1zM371 170h2v1h-2zM376 170h1v1h-1zM439 170h1v1h-1zM443 170h1v1h-1zM362 171h1v1h-1zM369 171h1v1h-1zM435 171h1v1h-1z" fill="rgb(50,50,50)"/><path d="M426 88h1v1h-1zM427 94h1v1h-1zM422 97h1v1h-1zM422 98h1v1h-1zM420 101h2v1h-2zM424 101h1v1h-1zM425 103h1v1h-1zM439 104h1v1h-1zM424 105h1v1h-1zM428 105h1v1h-1zM417 106h1v1h-1zM432 106h1v1h-1zM414 107h1v1h-1zM417 107h1v1h-1zM425 107h1v1h-1zM438 107h1v1h-1zM416 108h1v1h-1zM420 108h1v1h-1zM424 109h1v1h-1zM436 109h1v1h-1zM438 109h1v1h-1zM426 110h1v1h-1zM412 111h1v1h-1zM427 111h1v1h-1zM415 112h1v1h-1zM418 113h2v1h-2zM426 113h3v1h-3zM419 114h1v1h-1zM422 115h1v1h-1zM419 116h1v1h-1zM426 116h1v1h-1zM433 116h1v1h-1zM419 117h1v1h-1zM428 117h1v1h-1zM418 118h3v1h-3zM418 119h1v1h-1zM420 119h2v1h-2zM434 119h1v1h-1zM418 120h3v1h-3zM422 120h1v1h-1zM408 121h1v1h-1zM418 121h3v1h-3zM438 121h1v1h-1zM414 122h1v1h-1zM417 122h1v1h-1zM419 122h3v1h-3zM428 122h1v1h-1zM441 122h1v1h-1zM417 123h6v1h-6zM417 124h5v1h-5zM427 124h1v1h-1zM430 124h1v1h-1zM417 125h6v1h-6zM431 125h1v1h-1zM415 126h1v1h-1zM417 126h6v1h-6zM425 126h1v1h-1zM436 126h1v1h-1zM415 127h8v1h-8zM424 127h1v1h-1zM417 128h6v1h-6zM416 129h7v1h-7zM428 129h1v1h-1zM407 130h1v1h-1zM416 130h4v1h-4zM421 130h2v1h-2zM415 131h9v1h-9zM427 131h1v1h-1zM415 132h9v1h-9zM425 132h2v1h-2zM414 133h1v1h-1zM416 133h8v1h-8zM425 133h1v1h-1zM432 133h2v1h-2zM437 133h1v1h-1zM409 134h3v1h-3zM415 134h10v1h-10zM405 135h1v1h-1zM414 135h10v1h-10zM429 135h2v1h-2zM438 135h1v1h-1zM414 136h11v1h-11zM432 136h1v1h-1zM414 137h11v1h-11zM408 138h1v1h-1zM414 138h14v1h-14zM413 139h12v1h-12zM429 139h1v1h-1zM431 139h1v1h-1zM412 140h13v1h-13zM426 140h1v1h-1zM428 140h1v1h-1zM410 141h1v1h-1zM413 141h13v1h-13zM436 141h1v1h-1zM404 142h1v1h-1zM412 142h13v1h-13zM434 142h1v1h-1zM408 143h1v1h-1zM410 143h1v1h-1zM412 143h14v1h-14zM434 143h1v1h-1zM440 143h1v1h-1zM407 144h1v1h-1zM412 144h15v1h-15zM432 144h1v1h-1zM439 144h1v1h-1zM406 145h1v1h-1zM411 145h15v1h-15zM434 145h2v1h-2zM411 146h9v1h-9zM421 146h3v1h-3zM425 146h2v1h-2zM429 146h2v1h-2zM432 146h1v1h-1zM410 147h16v1h-16zM429 147h1v1h-1zM431 147h1v1h-1zM410 148h16v1h-16zM435 148h1v1h-1zM407 149h1v1h-1zM411 149h16v1h-16zM410 150h17v1h-17zM437 150h1v1h-1zM407 151h1v1h-1zM409 151h19v1h-19zM431 151h1v1h-1zM392 152h1v1h-1zM408 152h18v1h-18zM427 152h1v1h-1zM430 152h1v1h-1zM435 152h1v1h-1zM440 152h1v1h-1zM409 153h19v1h-19zM437 153h1v1h-1zM396 154h1v1h-1zM402 154h1v1h-1zM406 154h23v1h-23zM407 155h22v1h-22zM430 155h1v1h-1zM402 156h1v1h-1zM406 156h23v1h-23zM431 156h1v1h-1zM376 157h1v1h-1zM399 157h1v1h-1zM406 157h23v1h-23zM390 158h1v1h-1zM400 158h1v1h-1zM404 158h1v1h-1zM406 158h23v1h-23zM442 158h1v1h-1zM389 159h1v1h-1zM398 159h1v1h-1zM404 159h27v1h-27zM403 160h25v1h-25zM429 160h1v1h-1zM431 160h1v1h-1zM434 160h1v1h-1zM395 161h2v1h-2zM402 161h30v1h-30zM441 161h1v1h-1zM396 162h1v1h-1zM398 162h1v1h-1zM402 162h29v1h-29zM376 163h1v1h-1zM384 163h1v1h-1zM400 163h31v1h-31zM381 164h1v1h-1zM383 164h1v1h-1zM394 164h1v1h-1zM397 164h34v1h-34zM436 164h1v1h-1zM370 165h1v1h-1zM379 165h1v1h-1zM386 165h2v1h-2zM390 165h1v1h-1zM395 165h37v1h-37zM356 166h1v1h-1zM370 166h1v1h-1zM373 166h1v1h-1zM383 166h1v1h-1zM393 166h39v1h-39zM360 167h1v1h-1zM363 167h2v1h-2zM374 167h1v1h-1zM382 167h1v1h-1zM390 167h43v1h-43zM434 167h1v1h-1zM358 168h1v1h-1zM361 168h1v1h-1zM369 168h1v1h-1zM371 168h1v1h-1zM374 168h1v1h-1zM381 168h1v1h-1zM385 168h2v1h-2zM388 168h45v1h-45zM367 169h1v1h-1zM372 169h1v1h-1zM379 169h2v1h-2zM383 169h2v1h-2zM386 169h48v1h-48zM357 170h1v1h-1zM360 170h1v1h-1zM368 170h1v1h-1zM370 170h1v1h-1zM373 170h1v1h-1zM377 170h5v1h-5zM383 170h51v1h-51zM359 171h2v1h-2zM368 171h1v1h-1zM371 171h64v1h-64z" fill="rgb(0,0,0)"/><path d="M462 75h1v1h-1zM465 104h1v1h-1zM449 107h1v1h-1zM462 127h1v1h-1zM451 130h1v1h-1zM450 138h1v1h-1zM454 139h1v1h-1zM451 146h1v1h-1zM456 150h1v1h-1zM448 151h1v1h-1zM455 152h1v1h-1zM469 153h1v1h-1zM455 154h1v1h-1zM463 154h1v1h-1zM455 155h1v1h-1zM452 156h1v1h-1zM458 156h1v1h-1zM446 157h1v1h-1zM450 158h1v1h-1zM466 158h1v1h-1zM453 159h1v1h-1zM458 159h1v1h-1zM447 160h1v1h-1zM460 160h1v1h-1zM465 160h1v1h-1zM451 161h2v1h-2zM456 161h1v1h-1zM462 161h1v1h-1zM456 162h1v1h-1zM462 163h1v1h-1zM464 163h1v1h-1zM449 164h1v1h-1zM446 165h1v1h-1zM452 165h1v1h-1zM469 165h1v1h-1zM459 166h1v1h-1zM463 166h1v1h-1zM471 166h1v1h-1zM448 168h1v1h-1zM447 169h1v1h-1zM458 169h1v1h-1zM466 169h1v1h-1zM469 169h1v1h-1zM468 170h1v1h-1zM449 171h1v1h-1zM461 171h1v1h-1z" fill="rgb(255,175,175)"/><path d="M457 92h1v1h-1zM454 108h1v1h-1zM457 117h1v1h-1zM456 122h1v1h-1zM459 128h1v1h-1zM455 130h1v1h-1zM461 136h1v1h-1zM455 138h1v1h-1zM448 139h1v1h-1zM452 141h1v1h-1zM457 141h1v1h-1zM450 142h2v1h-2zM456 143h1v1h-1zM467 143h1v1h-1zM453 144h1v1h-1zM458 145h2v1h-2zM458 149h1v1h-1zM463 149h1v1h-1zM454 153h2v1h-2zM464 155h1v1h-1zM449 156h1v1h-1zM462 156h1v1h-1zM451 157h2v1h-2zM458 157h1v1h-1zM449 158h1v1h-1zM453 158h1v1h-1zM459 158h1v1h-1zM462 158h1v1h-1zM454 159h1v1h-1zM459 159h1v1h-1zM455 161h1v1h-1zM457 161h1v1h-1zM462 162h1v1h-1zM466 162h1v1h-1zM460 163h2v1h-2zM460 164h1v1h-1zM446 168h1v1h-1zM449 168h1v1h-1zM470 170h1v1h-1zM446 171h1v1h-1zM464 171h1v1h-1z" fill="rgb(255,120,120)"/><path d="M451 89h1v1h-1zM455 92h1v1h-1zM459 106h1v1h-1zM446 112h1v1h-1zM453 113h1v1h-1zM461 115h1v1h-1zM454 128h1v1h-1zM451 131h1v1h-1zM459 131h1v1h-1zM456 135h1v1h-1zM460 139h1v1h-1zM463 140h1v1h-1zM458 142h1v1h-1zM458 148h1v1h-1zM448 149h1v1h-1zM462 150h1v1h-1zM452 153h1v1h-1zM460 153h1v1h-1zM450 155h1v1h-1zM458 155h1v1h-1zM448 156h1v1h-1zM453 156h2v1h-2zM461 156h1v1h-1zM463 156h1v1h-1zM470 156h1v1h-1zM455 158h2v1h-2zM448 159h1v1h-1zM455 159h1v1h-1zM465 159h1v1h-1zM451 160h1v1h-1zM453 160h1v1h-1zM457 162h1v1h-1zM463 162h2v1h-2zM467 162h1v1h-1zM448 163h1v1h-1zM451 163h1v1h-1zM465 163h1v1h-1zM462 164h1v1h-1zM465 165h4v1h-4zM448 166h1v1h-1zM449 167h1v1h-1zM453 167h1v1h-1zM466 167h1v1h-1zM465 168h1v1h-1zM448 169h1v1h-1zM450 169h1v1h-1zM456 169h1v1h-1zM462 171h2v1h-2z" fill="rgb(255,60,60)"/><path d="M458 97h1v1h-1zM459 150h1v1h-1zM463 150h1v1h-1zM453 155h2v1h-2zM456 156h2v1h-2zM454 157h1v1h-1zM459 157h1v1h-1zM461 157h1v1h-1zM457 158h1v1h-1zM452 159h1v1h-1zM461 159h1v1h-1zM456 160h1v1h-1zM459 160h1v1h-1zM461 160h1v1h-1zM454 161h1v1h-1zM458 161h3v1h-3zM463 161h1v1h-1zM449 162h2v1h-2zM454 162h2v1h-2zM459 162h3v1h-3zM449 163h2v1h-2zM452 163h8v1h-8zM451 164h9v1h-9zM463 164h2v1h-2zM450 165h2v1h-2zM453 165h5v1h-5zM459 165h1v1h-1zM461 165h2v1h-2zM464 165h1v1h-1zM449 166h10v1h-10zM460 166h3v1h-3zM464 166h1v1h-1zM467 166h1v1h-1zM448 167h1v1h-1zM450 167h3v1h-3zM454 167h10v1h-10zM465 167h1v1h-1zM467 167h1v1h-1zM447 168h1v1h-1zM450 168h14v1h-14zM466 168h1v1h-1zM451 169h5v1h-5zM457 169h1v1h-1zM459 169h7v1h-7zM446 170h2v1h-2zM449 170h3v1h-3zM453 170h13v1h-13zM467 170h1v1h-1zM447 171h1v1h-1zM450 171h11v1h-11z" fill="rgb(255,0,0)"/><path d="M352.5 32.5H496" stroke="#333" stroke-width="1"/><path d="M355.5 32V176" stroke="#333" stroke-width="1"/><path d="M495.5 32V176" stroke="#444" stroke-width="1.1"/><path d="M355 173.1H497" stroke="#777" stroke-width="1"/><path d="M353.5 172.5H355M353.5 165.0H355M353.5 157.6H355M353.5 150.1H355M353.5 142.6H355M353.5 135.1H355M353.5 127.7H355M353.5 120.2H355M353.5 112.7H355M353.5 105.3H355M353.5 97.8H355M353.5 90.3H355M353.5 82.8H355M353.5 75.4H355M353.5 67.9H355M353.5 60.4H355M353.5 52.9H355M353.5 45.5H355M353.5 38.0H355M352 172.5H355M352 135.1H355M352 97.8H355M352 60.4H355M352 32.4H355" stroke="#333" stroke-width="0.8"/><text transform="translate(349.4,172.5) rotate(-90) scale(1,1.12)" font-size="7.3" text-anchor="middle" fill="#222">0</text><text transform="translate(349.4,135.1) rotate(-90) scale(1,1.12)" font-size="7.3" text-anchor="middle" fill="#222">0.4</text><text transform="translate(349.4,97.8) rotate(-90) scale(1,1.12)" font-size="7.3" text-anchor="middle" fill="#222">0.8</text><text transform="translate(349.4,60.4) rotate(-90) scale(1,1.12)" font-size="7.3" text-anchor="middle" fill="#222">1.2</text><text transform="translate(349.4,32.4) rotate(-90) scale(1,1.12)" font-size="7.3" text-anchor="middle" fill="#222">1.5</text><text transform="translate(335.1,127.4) rotate(-90)" font-size="7.65" fill="#222">SSC-H (<tspan dx="0.8">10</tspan><tspan font-size="6.6" dx="1.1" dy="-3.6">6</tspan><tspan dx="1.6" dy="3.6">)</tspan></text><path d="M355.0 173v3M360.9 173v1.5M364.3 173v1.5M366.8 173v1.5M368.7 173v1.5M370.2 173v1.5M371.5 173v1.5M372.7 173v1.5M373.7 173v1.5M374.6 173v3M380.5 173v1.5M383.9 173v1.5M386.4 173v1.5M388.3 173v1.5M389.8 173v1.5M391.1 173v1.5M392.3 173v1.5M393.3 173v1.5M394.2 173v3M400.1 173v1.5M403.5 173v1.5M406.0 173v1.5M407.9 173v1.5M409.4 173v1.5M410.7 173v1.5M411.9 173v1.5M412.9 173v1.5M413.8 173v3M419.6 173v1.5M423.1 173v1.5M425.5 173v1.5M427.4 173v1.5M429.0 173v1.5M430.3 173v1.5M431.4 173v1.5M432.4 173v1.5M433.3 173v3M439.2 173v1.5M442.7 173v1.5M445.1 173v1.5M447.0 173v1.5M448.6 173v1.5M449.9 173v1.5M451.0 173v1.5M452.0 173v1.5M452.9 173v3M458.8 173v1.5M462.3 173v1.5M464.7 173v1.5M466.6 173v1.5M468.2 173v1.5M469.5 173v1.5M470.6 173v1.5M471.6 173v1.5M472.5 173v3M478.4 173v1.5M481.8 173v1.5M484.3 173v1.5M486.2 173v1.5M487.7 173v1.5M489.0 173v1.5M490.2 173v1.5M491.2 173v1.5M492.1 173v3M496.0 173v3" stroke="#333" stroke-width="0.7"/><text x="357.0" y="186" font-size="7.7" text-anchor="middle" fill="#222">10<tspan font-size="6.3" dx="1.3" dy="-3.9">0</tspan></text><text x="394.7" y="186" font-size="7.7" text-anchor="middle" fill="#222">10<tspan font-size="6.3" dx="1.3" dy="-3.9">2</tspan></text><text x="433.3" y="186" font-size="7.7" text-anchor="middle" fill="#222">10<tspan font-size="6.3" dx="1.3" dy="-3.9">4</tspan></text><text x="472.1" y="186" font-size="7.7" text-anchor="middle" fill="#222">10<tspan font-size="6.3" dx="1.3" dy="-3.9">6</tspan></text><text x="494.6" y="186" font-size="7.7" text-anchor="middle" fill="#222">10<tspan font-size="6.3" dx="1.3" dy="-3.9">7.2</tspan></text><text x="425.5" y="198" font-size="7.5" text-anchor="middle" fill="#222">IgE-PE-A</text><rect x="444.8" y="50.5" width="48.8" height="121" fill="none" stroke="#ff2020" stroke-width="1.05"/><text transform="translate(454.3,72.9) scale(0.9,1)" font-size="8.3" fill="#ff1a1a">R1</text><text transform="translate(454.3,81.7) scale(0.9,1)" font-size="8.3" fill="#ff1a1a">1.66%</text><path d="M602 51h2v1h-2zM608 62h1v1h-1zM609 64h1v1h-1zM577 75h1v1h-1zM608 84h1v1h-1zM603 93h1v1h-1zM601 97h1v1h-1zM607 97h1v1h-1zM613 100h1v1h-1zM613 101h1v1h-1zM617 101h1v1h-1zM600 102h1v1h-1zM599 103h1v1h-1zM617 103h1v1h-1zM615 104h1v1h-1zM605 105h1v1h-1zM603 106h1v1h-1zM604 107h1v1h-1zM609 108h1v1h-1zM607 109h1v1h-1zM614 112h2v1h-2zM615 113h1v1h-1zM611 114h1v1h-1zM615 114h1v1h-1zM606 115h1v1h-1zM611 115h1v1h-1zM614 117h1v1h-1zM589 119h1v1h-1zM620 119h1v1h-1zM609 121h1v1h-1zM615 121h1v1h-1zM621 121h1v1h-1zM610 122h1v1h-1zM610 123h1v1h-1zM588 124h1v1h-1zM615 124h1v1h-1zM619 124h1v1h-1zM621 126h1v1h-1zM588 129h1v1h-1zM621 129h1v1h-1zM570 132h1v1h-1zM620 132h1v1h-1zM583 136h1v1h-1zM622 139h2v1h-2zM581 141h1v1h-1zM578 143h1v1h-1zM569 148h1v1h-1zM624 149h1v1h-1zM577 150h1v1h-1zM581 150h1v1h-1zM564 151h1v1h-1zM574 151h1v1h-1zM623 152h1v1h-1zM624 153h1v1h-1zM561 154h1v1h-1zM623 154h1v1h-1zM561 155h1v1h-1zM565 156h1v1h-1zM577 157h1v1h-1zM550 158h1v1h-1zM552 161h1v1h-1zM545 162h1v1h-1zM549 165h1v1h-1zM559 165h1v1h-1zM566 165h1v1h-1zM547 167h1v1h-1zM543 168h1v1h-1z" fill="rgb(160,160,160)"/><path d="M616 59h1v1h-1zM619 61h1v1h-1zM604 66h1v1h-1zM606 68h1v1h-1zM605 70h1v1h-1zM599 72h1v1h-1zM608 72h1v1h-1zM610 73h1v1h-1zM608 75h1v1h-1zM614 75h1v1h-1zM608 79h1v1h-1zM616 87h1v1h-1zM603 89h1v1h-1zM616 89h1v1h-1zM599 92h1v1h-1zM613 94h1v1h-1zM615 94h1v1h-1zM605 100h1v1h-1zM609 102h1v1h-1zM594 103h1v1h-1zM604 103h1v1h-1zM620 103h1v1h-1zM593 104h1v1h-1zM595 104h1v1h-1zM601 104h1v1h-1zM607 104h1v1h-1zM621 104h1v1h-1zM624 104h1v1h-1zM591 105h1v1h-1zM604 105h1v1h-1zM601 107h1v1h-1zM608 108h1v1h-1zM612 108h1v1h-1zM617 108h1v1h-1zM615 109h1v1h-1zM599 111h1v1h-1zM607 111h1v1h-1zM609 111h1v1h-1zM603 112h1v1h-1zM590 113h1v1h-1zM597 113h1v1h-1zM600 114h2v1h-2zM602 115h1v1h-1zM608 115h2v1h-2zM596 116h2v1h-2zM599 116h1v1h-1zM601 117h1v1h-1zM609 117h1v1h-1zM620 117h1v1h-1zM596 118h1v1h-1zM604 118h1v1h-1zM618 118h1v1h-1zM594 119h5v1h-5zM604 119h1v1h-1zM610 119h1v1h-1zM623 119h1v1h-1zM597 120h1v1h-1zM600 120h1v1h-1zM606 120h1v1h-1zM612 120h1v1h-1zM594 121h3v1h-3zM598 121h1v1h-1zM601 121h1v1h-1zM605 121h1v1h-1zM607 121h1v1h-1zM614 121h1v1h-1zM595 122h1v1h-1zM601 122h1v1h-1zM605 122h1v1h-1zM614 122h3v1h-3zM592 123h1v1h-1zM595 123h2v1h-2zM600 123h2v1h-2zM608 123h1v1h-1zM622 123h1v1h-1zM592 124h1v1h-1zM594 124h2v1h-2zM610 124h1v1h-1zM618 124h1v1h-1zM591 125h1v1h-1zM595 125h1v1h-1zM601 125h1v1h-1zM603 125h2v1h-2zM606 125h1v1h-1zM608 125h1v1h-1zM618 125h1v1h-1zM592 126h2v1h-2zM595 126h1v1h-1zM601 126h1v1h-1zM605 126h1v1h-1zM587 127h1v1h-1zM594 127h1v1h-1zM602 127h2v1h-2zM606 127h1v1h-1zM587 128h1v1h-1zM592 128h1v1h-1zM604 128h1v1h-1zM606 128h1v1h-1zM608 128h1v1h-1zM610 128h1v1h-1zM616 128h1v1h-1zM581 129h1v1h-1zM591 129h1v1h-1zM594 129h1v1h-1zM604 129h1v1h-1zM607 129h3v1h-3zM615 129h1v1h-1zM605 130h4v1h-4zM612 130h1v1h-1zM593 131h1v1h-1zM605 131h2v1h-2zM608 131h1v1h-1zM613 131h1v1h-1zM615 131h1v1h-1zM619 131h1v1h-1zM622 131h1v1h-1zM587 132h1v1h-1zM614 132h1v1h-1zM616 132h2v1h-2zM615 133h1v1h-1zM589 134h1v1h-1zM592 134h1v1h-1zM616 134h1v1h-1zM620 134h1v1h-1zM624 134h1v1h-1zM589 135h1v1h-1zM591 135h1v1h-1zM613 135h1v1h-1zM615 135h1v1h-1zM587 136h1v1h-1zM590 136h1v1h-1zM618 136h1v1h-1zM589 137h1v1h-1zM614 137h1v1h-1zM620 137h1v1h-1zM588 138h2v1h-2zM619 138h1v1h-1zM586 139h1v1h-1zM588 139h1v1h-1zM614 139h1v1h-1zM616 139h1v1h-1zM620 139h1v1h-1zM587 140h1v1h-1zM589 140h3v1h-3zM614 140h2v1h-2zM587 141h2v1h-2zM619 141h2v1h-2zM616 142h1v1h-1zM588 143h2v1h-2zM615 143h1v1h-1zM620 143h1v1h-1zM588 144h2v1h-2zM617 144h1v1h-1zM587 145h2v1h-2zM615 145h2v1h-2zM621 145h1v1h-1zM587 146h1v1h-1zM615 146h2v1h-2zM620 146h1v1h-1zM586 147h1v1h-1zM615 147h1v1h-1zM617 147h2v1h-2zM623 147h1v1h-1zM587 148h2v1h-2zM615 148h1v1h-1zM584 149h1v1h-1zM586 149h2v1h-2zM617 149h1v1h-1zM582 150h1v1h-1zM615 150h2v1h-2zM581 151h1v1h-1zM586 151h2v1h-2zM615 151h1v1h-1zM573 152h1v1h-1zM580 152h1v1h-1zM585 152h1v1h-1zM615 152h1v1h-1zM573 153h1v1h-1zM580 153h1v1h-1zM584 153h2v1h-2zM618 153h1v1h-1zM620 153h1v1h-1zM569 154h2v1h-2zM581 154h3v1h-3zM620 154h1v1h-1zM581 155h1v1h-1zM616 155h2v1h-2zM622 155h3v1h-3zM572 156h2v1h-2zM577 156h1v1h-1zM616 156h1v1h-1zM619 156h1v1h-1zM578 157h2v1h-2zM583 157h1v1h-1zM616 157h3v1h-3zM620 157h1v1h-1zM624 157h1v1h-1zM579 158h1v1h-1zM581 158h2v1h-2zM617 158h2v1h-2zM579 159h1v1h-1zM581 159h1v1h-1zM617 159h1v1h-1zM621 159h1v1h-1zM556 160h1v1h-1zM578 160h3v1h-3zM616 160h2v1h-2zM562 161h1v1h-1zM576 161h1v1h-1zM580 161h1v1h-1zM617 161h1v1h-1zM621 161h1v1h-1zM572 162h1v1h-1zM576 162h2v1h-2zM616 162h1v1h-1zM619 162h1v1h-1zM557 163h2v1h-2zM573 163h3v1h-3zM578 163h1v1h-1zM616 163h1v1h-1zM537 164h1v1h-1zM559 164h1v1h-1zM571 164h1v1h-1zM575 164h1v1h-1zM616 164h1v1h-1zM619 164h1v1h-1zM624 164h1v1h-1zM573 165h3v1h-3zM622 165h2v1h-2zM540 166h1v1h-1zM555 166h1v1h-1zM559 166h1v1h-1zM562 166h2v1h-2zM567 166h1v1h-1zM571 166h1v1h-1zM573 166h1v1h-1zM539 167h1v1h-1zM548 167h1v1h-1zM551 167h1v1h-1zM554 167h1v1h-1zM560 167h1v1h-1zM569 167h4v1h-4zM618 167h2v1h-2zM545 168h1v1h-1zM549 168h1v1h-1zM560 168h1v1h-1zM563 168h1v1h-1zM568 168h1v1h-1zM618 168h2v1h-2zM550 169h2v1h-2zM554 169h1v1h-1zM559 169h2v1h-2zM562 169h2v1h-2zM617 169h3v1h-3zM536 170h1v1h-1zM542 170h1v1h-1zM546 170h1v1h-1zM549 170h1v1h-1zM553 170h1v1h-1zM555 170h1v1h-1zM557 170h2v1h-2zM617 170h1v1h-1zM619 170h1v1h-1zM539 171h2v1h-2zM544 171h1v1h-1zM546 171h2v1h-2zM550 171h3v1h-3zM618 171h1v1h-1z" fill="rgb(110,110,110)"/><path d="M612 44h1v1h-1zM606 67h1v1h-1zM614 68h1v1h-1zM611 73h1v1h-1zM614 73h1v1h-1zM617 77h1v1h-1zM591 80h1v1h-1zM606 89h1v1h-1zM604 94h1v1h-1zM604 95h1v1h-1zM616 98h1v1h-1zM608 99h1v1h-1zM616 100h1v1h-1zM616 101h1v1h-1zM593 102h1v1h-1zM597 102h1v1h-1zM602 102h1v1h-1zM612 102h1v1h-1zM615 102h1v1h-1zM597 105h1v1h-1zM606 105h1v1h-1zM606 107h1v1h-1zM596 109h1v1h-1zM604 109h1v1h-1zM600 110h1v1h-1zM602 111h1v1h-1zM597 112h1v1h-1zM605 112h1v1h-1zM610 112h1v1h-1zM595 113h1v1h-1zM599 113h1v1h-1zM604 113h2v1h-2zM600 115h1v1h-1zM605 115h1v1h-1zM617 115h1v1h-1zM620 115h1v1h-1zM594 117h1v1h-1zM621 117h1v1h-1zM592 118h1v1h-1zM595 118h1v1h-1zM597 118h1v1h-1zM601 118h1v1h-1zM603 118h1v1h-1zM609 118h1v1h-1zM615 118h1v1h-1zM619 118h1v1h-1zM624 118h1v1h-1zM603 119h1v1h-1zM618 119h1v1h-1zM593 120h1v1h-1zM603 120h1v1h-1zM591 121h1v1h-1zM599 121h1v1h-1zM591 122h1v1h-1zM593 123h2v1h-2zM616 123h1v1h-1zM601 124h1v1h-1zM611 124h1v1h-1zM616 124h1v1h-1zM590 125h1v1h-1zM592 125h1v1h-1zM615 125h1v1h-1zM591 126h1v1h-1zM602 126h1v1h-1zM604 126h1v1h-1zM606 126h1v1h-1zM610 126h1v1h-1zM612 126h3v1h-3zM622 126h1v1h-1zM590 127h1v1h-1zM592 127h1v1h-1zM608 127h1v1h-1zM593 128h2v1h-2zM602 128h1v1h-1zM621 128h1v1h-1zM585 129h1v1h-1zM593 129h1v1h-1zM610 129h1v1h-1zM612 129h1v1h-1zM617 129h1v1h-1zM619 129h1v1h-1zM593 130h1v1h-1zM604 130h1v1h-1zM609 130h2v1h-2zM617 130h1v1h-1zM624 130h1v1h-1zM589 131h1v1h-1zM592 131h1v1h-1zM607 131h1v1h-1zM610 131h2v1h-2zM617 131h1v1h-1zM584 132h1v1h-1zM592 132h2v1h-2zM612 132h1v1h-1zM615 132h1v1h-1zM618 132h1v1h-1zM590 133h1v1h-1zM613 134h1v1h-1zM590 135h1v1h-1zM616 135h3v1h-3zM623 135h1v1h-1zM589 136h1v1h-1zM592 136h1v1h-1zM613 136h1v1h-1zM622 136h1v1h-1zM590 137h1v1h-1zM618 137h1v1h-1zM614 138h2v1h-2zM584 139h1v1h-1zM617 139h1v1h-1zM617 140h1v1h-1zM584 141h1v1h-1zM589 141h1v1h-1zM621 141h1v1h-1zM587 142h3v1h-3zM617 142h2v1h-2zM622 142h1v1h-1zM577 143h1v1h-1zM619 145h1v1h-1zM623 145h1v1h-1zM589 146h1v1h-1zM587 147h1v1h-1zM582 148h1v1h-1zM586 148h1v1h-1zM616 148h3v1h-3zM576 149h1v1h-1zM620 151h1v1h-1zM622 151h1v1h-1zM582 152h3v1h-3zM586 152h1v1h-1zM582 153h1v1h-1zM616 154h1v1h-1zM579 156h1v1h-1zM617 156h1v1h-1zM620 156h1v1h-1zM623 156h1v1h-1zM568 157h1v1h-1zM580 157h2v1h-2zM619 157h1v1h-1zM616 158h1v1h-1zM568 159h1v1h-1zM571 159h1v1h-1zM619 159h1v1h-1zM577 160h1v1h-1zM618 160h1v1h-1zM563 161h1v1h-1zM578 161h1v1h-1zM619 161h1v1h-1zM556 162h1v1h-1zM574 162h1v1h-1zM578 162h1v1h-1zM624 162h1v1h-1zM570 163h2v1h-2zM577 163h1v1h-1zM620 163h1v1h-1zM556 164h1v1h-1zM566 164h1v1h-1zM570 164h1v1h-1zM572 164h1v1h-1zM576 164h1v1h-1zM617 164h1v1h-1zM541 165h1v1h-1zM572 165h1v1h-1zM616 165h2v1h-2zM617 166h1v1h-1zM552 167h1v1h-1zM556 167h2v1h-2zM566 167h1v1h-1zM617 167h1v1h-1zM559 168h1v1h-1zM567 168h1v1h-1zM569 168h1v1h-1zM620 168h1v1h-1zM624 168h1v1h-1zM540 169h1v1h-1zM545 169h1v1h-1zM549 169h1v1h-1zM555 169h1v1h-1zM557 169h2v1h-2zM565 169h2v1h-2zM569 169h1v1h-1zM624 169h1v1h-1zM540 170h1v1h-1zM545 170h1v1h-1zM548 170h1v1h-1zM550 170h1v1h-1zM556 170h1v1h-1zM559 170h1v1h-1zM561 170h1v1h-1zM541 171h2v1h-2zM545 171h1v1h-1zM548 171h1v1h-1zM617 171h1v1h-1z" fill="rgb(50,50,50)"/><path d="M605 92h1v1h-1zM599 100h1v1h-1zM597 103h1v1h-1zM588 104h1v1h-1zM603 105h1v1h-1zM600 106h1v1h-1zM607 106h1v1h-1zM595 107h1v1h-1zM616 107h1v1h-1zM606 108h1v1h-1zM598 109h1v1h-1zM594 111h1v1h-1zM615 111h2v1h-2zM612 112h1v1h-1zM620 112h1v1h-1zM596 114h1v1h-1zM605 114h1v1h-1zM617 114h1v1h-1zM610 115h1v1h-1zM602 116h1v1h-1zM617 116h1v1h-1zM596 117h1v1h-1zM602 117h1v1h-1zM611 117h1v1h-1zM598 118h1v1h-1zM599 119h1v1h-1zM602 119h1v1h-1zM611 119h1v1h-1zM594 120h1v1h-1zM599 120h1v1h-1zM610 120h1v1h-1zM597 121h1v1h-1zM613 121h1v1h-1zM617 121h1v1h-1zM592 122h1v1h-1zM594 122h1v1h-1zM596 122h4v1h-4zM618 122h2v1h-2zM597 123h3v1h-3zM602 123h1v1h-1zM620 123h1v1h-1zM596 124h5v1h-5zM605 124h1v1h-1zM596 125h5v1h-5zM610 125h1v1h-1zM614 125h1v1h-1zM596 126h5v1h-5zM608 126h1v1h-1zM620 126h1v1h-1zM593 127h1v1h-1zM595 127h7v1h-7zM604 127h1v1h-1zM595 128h7v1h-7zM603 128h1v1h-1zM595 129h9v1h-9zM606 129h1v1h-1zM614 129h1v1h-1zM590 130h3v1h-3zM594 130h10v1h-10zM611 130h1v1h-1zM613 130h1v1h-1zM619 130h1v1h-1zM587 131h1v1h-1zM594 131h11v1h-11zM609 131h1v1h-1zM612 131h1v1h-1zM591 132h1v1h-1zM594 132h18v1h-18zM591 133h4v1h-4zM596 133h17v1h-17zM621 133h1v1h-1zM584 134h1v1h-1zM591 134h1v1h-1zM593 134h20v1h-20zM618 134h1v1h-1zM593 135h20v1h-20zM619 135h1v1h-1zM591 136h1v1h-1zM593 136h20v1h-20zM615 136h1v1h-1zM621 136h1v1h-1zM591 137h23v1h-23zM619 137h1v1h-1zM585 138h2v1h-2zM592 138h21v1h-21zM616 138h1v1h-1zM621 138h1v1h-1zM590 139h24v1h-24zM615 139h1v1h-1zM588 140h1v1h-1zM592 140h22v1h-22zM586 141h1v1h-1zM590 141h7v1h-7zM598 141h18v1h-18zM591 142h23v1h-23zM623 142h1v1h-1zM580 143h1v1h-1zM590 143h25v1h-25zM621 143h1v1h-1zM591 144h23v1h-23zM615 144h1v1h-1zM589 145h23v1h-23zM613 145h2v1h-2zM584 146h1v1h-1zM590 146h25v1h-25zM584 147h1v1h-1zM589 147h26v1h-26zM619 147h1v1h-1zM621 147h1v1h-1zM584 148h1v1h-1zM589 148h26v1h-26zM588 149h1v1h-1zM590 149h25v1h-25zM588 150h27v1h-27zM617 150h1v1h-1zM619 150h1v1h-1zM623 150h1v1h-1zM584 151h1v1h-1zM588 151h27v1h-27zM587 152h28v1h-28zM586 153h30v1h-30zM562 154h1v1h-1zM584 154h1v1h-1zM586 154h30v1h-30zM578 155h1v1h-1zM583 155h1v1h-1zM585 155h31v1h-31zM564 156h1v1h-1zM584 156h32v1h-32zM570 157h1v1h-1zM582 157h1v1h-1zM584 157h32v1h-32zM574 158h1v1h-1zM583 158h33v1h-33zM569 159h1v1h-1zM582 159h35v1h-35zM551 160h1v1h-1zM573 160h1v1h-1zM581 160h35v1h-35zM622 160h1v1h-1zM574 161h1v1h-1zM579 161h1v1h-1zM581 161h36v1h-36zM579 162h9v1h-9zM589 162h27v1h-27zM617 162h1v1h-1zM579 163h34v1h-34zM614 163h1v1h-1zM617 163h1v1h-1zM555 164h1v1h-1zM567 164h1v1h-1zM577 164h39v1h-39zM571 165h1v1h-1zM576 165h40v1h-40zM620 165h1v1h-1zM541 166h1v1h-1zM575 166h2v1h-2zM578 166h37v1h-37zM616 166h1v1h-1zM544 167h1v1h-1zM573 167h44v1h-44zM621 167h1v1h-1zM546 168h1v1h-1zM566 168h1v1h-1zM571 168h47v1h-47zM548 169h1v1h-1zM564 169h1v1h-1zM568 169h1v1h-1zM570 169h7v1h-7zM578 169h39v1h-39zM621 169h1v1h-1zM544 170h1v1h-1zM554 170h1v1h-1zM560 170h1v1h-1zM562 170h55v1h-55zM554 171h1v1h-1zM556 171h61v1h-61zM619 171h1v1h-1zM622 171h2v1h-2z" fill="rgb(0,0,0)"/><path d="M628 84h1v1h-1zM634 93h1v1h-1zM629 106h1v1h-1zM666 115h1v1h-1z" fill="rgb(255,175,175)"/><path d="M648 78h1v1h-1zM629 112h1v1h-1zM630 137h1v1h-1z" fill="rgb(255,120,120)"/><path d="M631 92h1v1h-1zM629 108h1v1h-1zM641 124h1v1h-1zM627 142h1v1h-1z" fill="rgb(255,60,60)"/><path d="M532.5 32.5H676" stroke="#333" stroke-width="1"/><path d="M535.5 32V176" stroke="#333" stroke-width="1"/><path d="M675.5 32V176" stroke="#444" stroke-width="1.1"/><path d="M535 173.1H677" stroke="#777" stroke-width="1"/><path d="M533.5 172.5H535M533.5 165.0H535M533.5 157.6H535M533.5 150.1H535M533.5 142.6H535M533.5 135.1H535M533.5 127.7H535M533.5 120.2H535M533.5 112.7H535M533.5 105.3H535M533.5 97.8H535M533.5 90.3H535M533.5 82.8H535M533.5 75.4H535M533.5 67.9H535M533.5 60.4H535M533.5 52.9H535M533.5 45.5H535M533.5 38.0H535M532 172.5H535M532 135.1H535M532 97.8H535M532 60.4H535M532 32.4H535" stroke="#333" stroke-width="0.8"/><text transform="translate(529.4,172.5) rotate(-90) scale(1,1.12)" font-size="7.3" text-anchor="middle" fill="#222">0</text><text transform="translate(529.4,135.1) rotate(-90) scale(1,1.12)" font-size="7.3" text-anchor="middle" fill="#222">0.4</text><text transform="translate(529.4,97.8) rotate(-90) scale(1,1.12)" font-size="7.3" text-anchor="middle" fill="#222">0.8</text><text transform="translate(529.4,60.4) rotate(-90) scale(1,1.12)" font-size="7.3" text-anchor="middle" fill="#222">1.2</text><text transform="translate(529.4,32.4) rotate(-90) scale(1,1.12)" font-size="7.3" text-anchor="middle" fill="#222">1.5</text><text transform="translate(515.1,127.4) rotate(-90)" font-size="7.65" fill="#222">SSC-H (<tspan dx="0.8">10</tspan><tspan font-size="6.6" dx="1.1" dy="-3.6">6</tspan><tspan dx="1.6" dy="3.6">)</tspan></text><path d="M535.0 173v3M540.9 173v1.5M544.3 173v1.5M546.8 173v1.5M548.7 173v1.5M550.2 173v1.5M551.5 173v1.5M552.7 173v1.5M553.7 173v1.5M554.6 173v3M560.5 173v1.5M563.9 173v1.5M566.4 173v1.5M568.3 173v1.5M569.8 173v1.5M571.1 173v1.5M572.3 173v1.5M573.3 173v1.5M574.2 173v3M580.1 173v1.5M583.5 173v1.5M586.0 173v1.5M587.9 173v1.5M589.4 173v1.5M590.7 173v1.5M591.9 173v1.5M592.9 173v1.5M593.8 173v3M599.6 173v1.5M603.1 173v1.5M605.5 173v1.5M607.4 173v1.5M609.0 173v1.5M610.3 173v1.5M611.4 173v1.5M612.4 173v1.5M613.3 173v3M619.2 173v1.5M622.7 173v1.5M625.1 173v1.5M627.0 173v1.5M628.6 173v1.5M629.9 173v1.5M631.0 173v1.5M632.0 173v1.5M632.9 173v3M638.8 173v1.5M642.3 173v1.5M644.7 173v1.5M646.6 173v1.5M648.2 173v1.5M649.5 173v1.5M650.6 173v1.5M651.6 173v1.5M652.5 173v3M658.4 173v1.5M661.8 173v1.5M664.3 173v1.5M666.2 173v1.5M667.7 173v1.5M669.0 173v1.5M670.2 173v1.5M671.2 173v1.5M672.1 173v3M676.0 173v3" stroke="#333" stroke-width="0.7"/><text x="537.0" y="186" font-size="7.7" text-anchor="middle" fill="#222">10<tspan font-size="6.3" dx="1.3" dy="-3.9">0</tspan></text><text x="574.7" y="186" font-size="7.7" text-anchor="middle" fill="#222">10<tspan font-size="6.3" dx="1.3" dy="-3.9">2</tspan></text><text x="613.3" y="186" font-size="7.7" text-anchor="middle" fill="#222">10<tspan font-size="6.3" dx="1.3" dy="-3.9">4</tspan></text><text x="652.0" y="186" font-size="7.7" text-anchor="middle" fill="#222">10<tspan font-size="6.3" dx="1.3" dy="-3.9">6</tspan></text><text x="674.5" y="186" font-size="7.7" text-anchor="middle" fill="#222">10<tspan font-size="6.3" dx="1.3" dy="-3.9">7.2</tspan></text><text x="605.5" y="198" font-size="7.5" text-anchor="middle" fill="#222">IgE-PE-A</text><rect x="624.8" y="50.5" width="48.5" height="121" fill="none" stroke="#ff2020" stroke-width="1.05"/><text transform="translate(634.3,72.9) scale(0.9,1)" font-size="8.3" fill="#ff1a1a">R1</text><text transform="translate(634.3,81.7) scale(0.9,1)" font-size="8.3" fill="#ff1a1a">0.04%</text><path d="M248 219h1v1h-1zM238 248h1v1h-1zM255 261h1v1h-1zM247 262h1v1h-1zM211 268h1v1h-1zM249 282h1v1h-1zM225 283h1v1h-1zM236 283h1v1h-1zM249 285h1v1h-1zM233 287h1v1h-1zM255 291h1v1h-1zM217 292h1v1h-1zM244 293h1v1h-1zM247 293h1v1h-1zM249 293h2v1h-2zM236 295h1v1h-1zM238 295h1v1h-1zM240 295h1v1h-1zM250 295h1v1h-1zM242 297h1v1h-1zM252 298h1v1h-1zM258 298h1v1h-1zM238 299h1v1h-1zM251 299h1v1h-1zM243 300h1v1h-1zM248 300h2v1h-2zM238 301h1v1h-1zM231 302h1v1h-1zM234 302h1v1h-1zM238 302h1v1h-1zM244 302h1v1h-1zM256 302h1v1h-1zM234 303h1v1h-1zM240 304h1v1h-1zM229 306h1v1h-1zM250 306h1v1h-1zM256 306h1v1h-1zM254 307h1v1h-1zM229 311h1v1h-1zM252 311h1v1h-1zM256 314h1v1h-1zM225 315h1v1h-1zM256 316h1v1h-1zM230 317h1v1h-1zM228 319h1v1h-1zM257 319h1v1h-1zM226 323h1v1h-1zM220 324h1v1h-1zM226 326h1v1h-1zM260 327h1v1h-1zM224 329h1v1h-1zM207 331h1v1h-1zM197 334h1v1h-1zM215 335h1v1h-1zM260 335h1v1h-1zM216 340h1v1h-1zM261 340h1v1h-1zM205 341h1v1h-1zM261 342h1v1h-1zM261 347h1v1h-1zM192 348h1v1h-1zM176 349h1v1h-1zM187 349h1v1h-1z" fill="rgb(160,160,160)"/><path d="M242 234h1v1h-1zM251 240h1v1h-1zM239 244h1v1h-1zM251 247h1v1h-1zM248 249h1v1h-1zM248 250h1v1h-1zM258 252h1v1h-1zM232 254h1v1h-1zM236 257h1v1h-1zM256 260h1v1h-1zM248 261h1v1h-1zM245 262h1v1h-1zM250 266h1v1h-1zM257 266h1v1h-1zM243 268h1v1h-1zM262 268h1v1h-1zM245 269h1v1h-1zM234 282h1v1h-1zM255 282h1v1h-1zM254 283h1v1h-1zM235 288h1v1h-1zM239 289h1v1h-1zM242 290h1v1h-1zM249 290h1v1h-1zM253 290h1v1h-1zM232 291h1v1h-1zM241 292h1v1h-1zM237 293h1v1h-1zM257 293h1v1h-1zM242 294h1v1h-1zM251 296h1v1h-1zM241 297h1v1h-1zM234 299h1v1h-1zM239 301h1v1h-1zM244 301h1v1h-1zM245 302h1v1h-1zM255 302h1v1h-1zM235 303h2v1h-2zM253 303h1v1h-1zM244 305h2v1h-2zM232 306h1v1h-1zM240 306h1v1h-1zM242 307h1v1h-1zM246 307h2v1h-2zM251 307h1v1h-1zM263 307h1v1h-1zM235 309h1v1h-1zM238 309h1v1h-1zM242 309h1v1h-1zM233 310h2v1h-2zM239 310h1v1h-1zM242 310h1v1h-1zM247 310h1v1h-1zM250 310h1v1h-1zM239 311h1v1h-1zM243 311h2v1h-2zM250 311h1v1h-1zM237 312h1v1h-1zM239 312h1v1h-1zM242 312h1v1h-1zM247 312h1v1h-1zM251 312h1v1h-1zM244 313h2v1h-2zM250 313h2v1h-2zM232 314h3v1h-3zM236 314h1v1h-1zM239 314h1v1h-1zM244 314h2v1h-2zM247 314h2v1h-2zM250 314h1v1h-1zM231 315h1v1h-1zM234 315h2v1h-2zM241 315h3v1h-3zM250 315h1v1h-1zM232 316h1v1h-1zM234 316h2v1h-2zM242 316h1v1h-1zM249 316h2v1h-2zM252 316h1v1h-1zM233 317h1v1h-1zM243 317h2v1h-2zM247 317h1v1h-1zM250 317h4v1h-4zM231 318h1v1h-1zM240 318h1v1h-1zM243 318h2v1h-2zM246 318h1v1h-1zM248 318h2v1h-2zM257 318h1v1h-1zM234 319h1v1h-1zM241 319h1v1h-1zM249 319h2v1h-2zM227 320h1v1h-1zM232 320h3v1h-3zM242 320h1v1h-1zM244 320h2v1h-2zM250 320h1v1h-1zM261 320h1v1h-1zM231 321h1v1h-1zM243 321h2v1h-2zM246 321h1v1h-1zM241 322h1v1h-1zM245 322h2v1h-2zM249 322h1v1h-1zM251 322h1v1h-1zM253 322h1v1h-1zM255 322h3v1h-3zM229 323h1v1h-1zM233 323h1v1h-1zM248 323h1v1h-1zM250 323h1v1h-1zM243 324h1v1h-1zM245 324h2v1h-2zM252 324h1v1h-1zM228 325h2v1h-2zM231 325h1v1h-1zM243 325h1v1h-1zM245 325h1v1h-1zM261 325h1v1h-1zM230 326h3v1h-3zM242 326h2v1h-2zM246 326h1v1h-1zM249 326h2v1h-2zM256 326h1v1h-1zM225 327h2v1h-2zM228 327h1v1h-1zM249 327h1v1h-1zM258 327h2v1h-2zM228 328h1v1h-1zM243 328h1v1h-1zM245 328h3v1h-3zM252 328h1v1h-1zM258 328h1v1h-1zM226 329h2v1h-2zM243 329h2v1h-2zM246 329h1v1h-1zM248 329h1v1h-1zM228 330h2v1h-2zM245 330h1v1h-1zM252 330h1v1h-1zM255 330h1v1h-1zM257 330h1v1h-1zM228 331h2v1h-2zM246 331h3v1h-3zM250 331h2v1h-2zM225 332h1v1h-1zM244 332h2v1h-2zM247 332h1v1h-1zM249 332h2v1h-2zM254 332h1v1h-1zM256 332h1v1h-1zM229 333h1v1h-1zM246 333h1v1h-1zM248 333h1v1h-1zM252 333h2v1h-2zM227 334h2v1h-2zM245 334h1v1h-1zM249 334h1v1h-1zM251 334h1v1h-1zM254 334h1v1h-1zM257 334h1v1h-1zM259 334h1v1h-1zM217 335h1v1h-1zM251 335h1v1h-1zM253 335h1v1h-1zM257 335h1v1h-1zM206 336h1v1h-1zM209 336h1v1h-1zM224 336h1v1h-1zM226 336h1v1h-1zM246 336h2v1h-2zM251 336h1v1h-1zM220 337h3v1h-3zM226 337h1v1h-1zM247 337h2v1h-2zM250 337h1v1h-1zM256 337h2v1h-2zM209 338h1v1h-1zM216 338h1v1h-1zM223 338h1v1h-1zM225 338h1v1h-1zM246 338h1v1h-1zM250 338h1v1h-1zM252 338h1v1h-1zM254 338h4v1h-4zM220 339h1v1h-1zM222 339h2v1h-2zM249 339h1v1h-1zM253 339h1v1h-1zM255 339h1v1h-1zM247 340h1v1h-1zM250 340h1v1h-1zM255 340h1v1h-1zM257 340h1v1h-1zM193 341h1v1h-1zM218 341h1v1h-1zM221 341h1v1h-1zM223 341h2v1h-2zM247 341h1v1h-1zM252 341h1v1h-1zM254 341h1v1h-1zM256 341h2v1h-2zM214 342h1v1h-1zM216 342h1v1h-1zM219 342h2v1h-2zM248 342h1v1h-1zM251 342h1v1h-1zM253 342h1v1h-1zM259 342h1v1h-1zM205 343h1v1h-1zM211 343h2v1h-2zM218 343h1v1h-1zM221 343h1v1h-1zM248 343h2v1h-2zM253 343h1v1h-1zM256 343h1v1h-1zM212 344h1v1h-1zM218 344h1v1h-1zM249 344h5v1h-5zM210 345h1v1h-1zM251 345h2v1h-2zM254 345h3v1h-3zM263 345h2v1h-2zM195 346h1v1h-1zM201 346h1v1h-1zM205 346h1v1h-1zM213 346h2v1h-2zM216 346h2v1h-2zM249 346h1v1h-1zM177 347h1v1h-1zM193 347h1v1h-1zM204 347h1v1h-1zM206 347h2v1h-2zM209 347h2v1h-2zM248 347h1v1h-1zM250 347h1v1h-1zM255 347h1v1h-1zM258 347h1v1h-1zM260 347h1v1h-1zM182 348h1v1h-1zM193 348h1v1h-1zM205 348h1v1h-1zM207 348h1v1h-1zM210 348h2v1h-2zM250 348h1v1h-1zM252 348h1v1h-1zM254 348h1v1h-1zM257 348h1v1h-1zM263 348h1v1h-1zM193 349h1v1h-1zM195 349h1v1h-1zM199 349h1v1h-1zM202 349h3v1h-3zM206 349h1v1h-1zM209 349h1v1h-1zM250 349h1v1h-1zM253 349h1v1h-1zM257 349h2v1h-2zM176 350h1v1h-1zM179 350h1v1h-1zM191 350h2v1h-2zM194 350h1v1h-1zM204 350h2v1h-2zM207 350h1v1h-1zM250 350h1v1h-1zM253 350h1v1h-1zM255 350h1v1h-1zM258 350h2v1h-2zM178 351h1v1h-1zM181 351h2v1h-2zM185 351h2v1h-2zM190 351h2v1h-2zM195 351h3v1h-3zM201 351h1v1h-1zM203 351h1v1h-1zM249 351h2v1h-2zM254 351h2v1h-2zM261 351h1v1h-1zM181 352h1v1h-1zM185 352h1v1h-1zM188 352h2v1h-2zM194 352h1v1h-1zM196 352h2v1h-2zM251 352h1v1h-1zM256 352h1v1h-1zM182 353h3v1h-3zM188 353h6v1h-6zM250 353h1v1h-1z" fill="rgb(110,110,110)"/><path d="M244 239h2v1h-2zM252 244h1v1h-1zM231 253h1v1h-1zM249 257h1v1h-1zM239 260h1v1h-1zM248 267h1v1h-1zM249 278h1v1h-1zM249 286h1v1h-1zM240 287h1v1h-1zM244 290h1v1h-1zM245 291h1v1h-1zM252 291h1v1h-1zM221 292h1v1h-1zM238 294h1v1h-1zM244 295h2v1h-2zM253 295h1v1h-1zM247 296h1v1h-1zM241 298h1v1h-1zM244 298h1v1h-1zM236 299h1v1h-1zM259 299h1v1h-1zM242 300h1v1h-1zM236 301h1v1h-1zM240 301h1v1h-1zM255 301h1v1h-1zM240 302h1v1h-1zM242 303h1v1h-1zM245 303h1v1h-1zM235 304h1v1h-1zM241 304h1v1h-1zM243 304h1v1h-1zM240 305h1v1h-1zM239 306h1v1h-1zM258 306h1v1h-1zM236 307h1v1h-1zM244 307h1v1h-1zM248 307h1v1h-1zM259 307h1v1h-1zM232 308h1v1h-1zM237 308h1v1h-1zM247 308h1v1h-1zM239 309h1v1h-1zM244 309h1v1h-1zM247 309h1v1h-1zM262 309h1v1h-1zM235 310h1v1h-1zM237 310h1v1h-1zM243 310h1v1h-1zM237 311h2v1h-2zM240 311h1v1h-1zM242 311h1v1h-1zM246 311h1v1h-1zM253 311h1v1h-1zM255 311h1v1h-1zM233 312h4v1h-4zM249 312h1v1h-1zM254 312h1v1h-1zM234 313h1v1h-1zM236 313h1v1h-1zM240 313h2v1h-2zM249 313h1v1h-1zM255 313h1v1h-1zM235 314h1v1h-1zM241 314h1v1h-1zM243 314h1v1h-1zM239 315h1v1h-1zM244 315h1v1h-1zM247 315h1v1h-1zM251 315h1v1h-1zM254 315h1v1h-1zM233 316h1v1h-1zM243 316h2v1h-2zM253 316h1v1h-1zM228 317h1v1h-1zM234 317h1v1h-1zM240 317h1v1h-1zM248 317h1v1h-1zM228 318h1v1h-1zM234 318h1v1h-1zM241 318h2v1h-2zM252 318h1v1h-1zM258 318h1v1h-1zM232 319h2v1h-2zM246 319h1v1h-1zM252 319h1v1h-1zM229 320h1v1h-1zM241 320h1v1h-1zM228 321h1v1h-1zM232 321h2v1h-2zM242 321h1v1h-1zM247 321h1v1h-1zM250 321h1v1h-1zM256 321h1v1h-1zM258 321h1v1h-1zM229 322h1v1h-1zM225 323h1v1h-1zM232 323h1v1h-1zM243 323h1v1h-1zM251 323h1v1h-1zM256 323h1v1h-1zM223 324h2v1h-2zM232 324h1v1h-1zM244 324h1v1h-1zM255 324h1v1h-1zM232 325h1v1h-1zM244 325h1v1h-1zM254 325h2v1h-2zM245 326h1v1h-1zM219 327h1v1h-1zM224 327h1v1h-1zM243 327h1v1h-1zM251 327h2v1h-2zM249 328h1v1h-1zM253 328h1v1h-1zM218 329h1v1h-1zM230 329h1v1h-1zM245 329h1v1h-1zM253 329h1v1h-1zM256 329h1v1h-1zM218 330h1v1h-1zM226 330h1v1h-1zM230 330h1v1h-1zM253 330h1v1h-1zM219 331h1v1h-1zM227 331h1v1h-1zM252 331h1v1h-1zM259 331h1v1h-1zM262 331h1v1h-1zM219 332h1v1h-1zM221 332h1v1h-1zM219 333h1v1h-1zM247 333h1v1h-1zM258 333h1v1h-1zM255 334h2v1h-2zM196 335h1v1h-1zM225 335h1v1h-1zM228 335h1v1h-1zM246 335h1v1h-1zM248 335h1v1h-1zM254 335h1v1h-1zM256 335h1v1h-1zM220 336h1v1h-1zM223 336h1v1h-1zM225 336h1v1h-1zM248 336h1v1h-1zM252 336h2v1h-2zM215 337h1v1h-1zM223 337h1v1h-1zM260 337h1v1h-1zM203 338h1v1h-1zM220 338h1v1h-1zM226 338h1v1h-1zM247 338h1v1h-1zM251 338h1v1h-1zM224 339h1v1h-1zM247 339h1v1h-1zM257 339h1v1h-1zM260 339h2v1h-2zM223 340h1v1h-1zM249 340h1v1h-1zM263 340h1v1h-1zM211 341h1v1h-1zM199 342h1v1h-1zM202 342h1v1h-1zM213 342h1v1h-1zM222 342h1v1h-1zM249 342h1v1h-1zM255 342h1v1h-1zM213 343h1v1h-1zM217 343h1v1h-1zM220 343h1v1h-1zM251 343h1v1h-1zM254 343h2v1h-2zM258 343h1v1h-1zM195 344h1v1h-1zM210 344h1v1h-1zM258 344h1v1h-1zM189 345h1v1h-1zM199 345h1v1h-1zM211 345h1v1h-1zM213 345h1v1h-1zM217 345h2v1h-2zM249 345h1v1h-1zM260 345h1v1h-1zM208 346h2v1h-2zM212 346h1v1h-1zM248 346h1v1h-1zM260 346h2v1h-2zM203 347h1v1h-1zM208 347h1v1h-1zM212 347h3v1h-3zM249 347h1v1h-1zM252 347h1v1h-1zM262 347h1v1h-1zM181 348h1v1h-1zM194 348h1v1h-1zM209 348h1v1h-1zM248 348h2v1h-2zM255 348h1v1h-1zM260 348h1v1h-1zM207 349h1v1h-1zM249 349h1v1h-1zM256 349h1v1h-1zM261 349h1v1h-1zM185 350h1v1h-1zM187 350h1v1h-1zM202 350h2v1h-2zM249 350h1v1h-1zM252 350h1v1h-1zM192 351h1v1h-1zM198 351h1v1h-1zM202 351h1v1h-1zM257 351h1v1h-1zM264 351h1v1h-1zM180 352h1v1h-1zM192 352h1v1h-1zM198 352h1v1h-1zM249 352h1v1h-1zM176 353h1v1h-1zM178 353h1v1h-1zM180 353h2v1h-2zM187 353h1v1h-1zM253 353h1v1h-1zM255 353h1v1h-1zM264 353h1v1h-1z" fill="rgb(50,50,50)"/><path d="M254 287h1v1h-1zM259 291h1v1h-1zM258 293h1v1h-1zM256 296h1v1h-1zM232 298h1v1h-1zM234 298h1v1h-1zM245 300h1v1h-1zM250 300h1v1h-1zM263 300h1v1h-1zM235 301h1v1h-1zM241 301h1v1h-1zM247 304h2v1h-2zM238 305h1v1h-1zM241 306h1v1h-1zM247 306h1v1h-1zM252 306h1v1h-1zM232 307h1v1h-1zM240 307h1v1h-1zM253 307h1v1h-1zM256 307h1v1h-1zM229 308h1v1h-1zM232 309h1v1h-1zM245 309h1v1h-1zM232 310h1v1h-1zM249 310h1v1h-1zM234 311h1v1h-1zM236 311h1v1h-1zM256 311h1v1h-1zM238 312h1v1h-1zM240 312h1v1h-1zM243 312h1v1h-1zM263 312h1v1h-1zM237 313h3v1h-3zM246 313h1v1h-1zM237 314h2v1h-2zM242 314h1v1h-1zM246 314h1v1h-1zM252 314h1v1h-1zM236 315h2v1h-2zM240 315h1v1h-1zM236 316h4v1h-4zM245 316h1v1h-1zM235 317h5v1h-5zM242 317h1v1h-1zM249 317h1v1h-1zM235 318h5v1h-5zM253 318h1v1h-1zM231 319h1v1h-1zM235 319h6v1h-6zM235 320h5v1h-5zM253 320h1v1h-1zM234 321h6v1h-6zM245 321h1v1h-1zM248 321h2v1h-2zM228 322h1v1h-1zM233 322h8v1h-8zM247 322h1v1h-1zM254 322h1v1h-1zM230 323h2v1h-2zM234 323h9v1h-9zM245 323h1v1h-1zM247 323h1v1h-1zM222 324h1v1h-1zM233 324h9v1h-9zM251 324h1v1h-1zM256 324h1v1h-1zM233 325h5v1h-5zM239 325h4v1h-4zM252 325h1v1h-1zM224 326h1v1h-1zM233 326h9v1h-9zM229 327h1v1h-1zM231 327h12v1h-12zM248 327h1v1h-1zM229 328h2v1h-2zM232 328h11v1h-11zM244 328h1v1h-1zM260 328h1v1h-1zM222 329h1v1h-1zM231 329h12v1h-12zM250 329h1v1h-1zM231 330h7v1h-7zM239 330h3v1h-3zM243 330h2v1h-2zM247 330h1v1h-1zM230 331h14v1h-14zM258 331h1v1h-1zM227 332h1v1h-1zM230 332h14v1h-14zM246 332h1v1h-1zM227 333h1v1h-1zM230 333h15v1h-15zM250 333h1v1h-1zM220 334h1v1h-1zM226 334h1v1h-1zM229 334h2v1h-2zM232 334h13v1h-13zM205 335h1v1h-1zM209 335h1v1h-1zM226 335h2v1h-2zM229 335h17v1h-17zM247 335h1v1h-1zM250 335h1v1h-1zM218 336h1v1h-1zM228 336h18v1h-18zM254 336h1v1h-1zM227 337h20v1h-20zM198 338h1v1h-1zM224 338h1v1h-1zM227 338h12v1h-12zM240 338h6v1h-6zM248 338h1v1h-1zM253 338h1v1h-1zM261 338h1v1h-1zM225 339h1v1h-1zM227 339h20v1h-20zM251 339h1v1h-1zM254 339h1v1h-1zM263 339h1v1h-1zM219 340h4v1h-4zM224 340h23v1h-23zM248 340h1v1h-1zM258 340h1v1h-1zM225 341h20v1h-20zM246 341h1v1h-1zM248 341h2v1h-2zM255 341h1v1h-1zM198 342h1v1h-1zM218 342h1v1h-1zM221 342h1v1h-1zM223 342h24v1h-24zM257 342h1v1h-1zM206 343h1v1h-1zM216 343h1v1h-1zM219 343h1v1h-1zM222 343h26v1h-26zM257 343h1v1h-1zM213 344h1v1h-1zM219 344h28v1h-28zM248 344h1v1h-1zM209 345h1v1h-1zM219 345h30v1h-30zM250 345h1v1h-1zM187 346h1v1h-1zM211 346h1v1h-1zM215 346h1v1h-1zM218 346h26v1h-26zM245 346h3v1h-3zM251 346h1v1h-1zM256 346h1v1h-1zM192 347h1v1h-1zM194 347h1v1h-1zM211 347h1v1h-1zM215 347h33v1h-33zM259 347h1v1h-1zM191 348h1v1h-1zM213 348h35v1h-35zM201 349h1v1h-1zM210 349h8v1h-8zM220 349h29v1h-29zM262 349h1v1h-1zM181 350h1v1h-1zM193 350h1v1h-1zM208 350h3v1h-3zM212 350h36v1h-36zM254 350h1v1h-1zM257 350h1v1h-1zM260 350h1v1h-1zM187 351h1v1h-1zM194 351h1v1h-1zM204 351h38v1h-38zM243 351h6v1h-6zM256 351h1v1h-1zM178 352h1v1h-1zM199 352h15v1h-15zM215 352h34v1h-34zM250 352h1v1h-1zM186 353h1v1h-1zM194 353h4v1h-4zM199 353h50v1h-50zM252 353h1v1h-1zM259 353h1v1h-1z" fill="rgb(0,0,0)"/><path d="M270 290h1v1h-1zM270 295h1v1h-1zM273 296h1v1h-1zM268 298h1v1h-1zM280 307h1v1h-1zM269 311h1v1h-1zM268 314h1v1h-1zM273 319h1v1h-1zM267 326h1v1h-1z" fill="rgb(255,175,175)"/><path d="M271 287h1v1h-1zM271 292h1v1h-1zM278 294h1v1h-1zM267 299h1v1h-1zM270 299h1v1h-1zM272 299h1v1h-1zM266 301h1v1h-1zM271 308h1v1h-1zM276 311h1v1h-1z" fill="rgb(255,120,120)"/><path d="M271 309h1v1h-1zM267 314h1v1h-1zM271 322h1v1h-1zM278 328h1v1h-1z" fill="rgb(255,60,60)"/><path d="M172.5 214.5H316" stroke="#333" stroke-width="1"/><path d="M175.5 214V358" stroke="#333" stroke-width="1"/><path d="M316.8 214V358" stroke="#888" stroke-width="1.6"/><path d="M175 355.1H317" stroke="#777" stroke-width="1"/><path d="M173.5 354.5H175M173.5 347.0H175M173.5 339.6H175M173.5 332.1H175M173.5 324.6H175M173.5 317.1H175M173.5 309.7H175M173.5 302.2H175M173.5 294.7H175M173.5 287.3H175M173.5 279.8H175M173.5 272.3H175M173.5 264.8H175M173.5 257.4H175M173.5 249.9H175M173.5 242.4H175M173.5 234.9H175M173.5 227.5H175M173.5 220.0H175M172 354.5H175M172 317.1H175M172 279.8H175M172 242.4H175M172 214.4H175" stroke="#333" stroke-width="0.8"/><text transform="translate(169.4,354.5) rotate(-90) scale(1,1.12)" font-size="7.3" text-anchor="middle" fill="#222">0</text><text transform="translate(169.4,317.1) rotate(-90) scale(1,1.12)" font-size="7.3" text-anchor="middle" fill="#222">0.4</text><text transform="translate(169.4,279.8) rotate(-90) scale(1,1.12)" font-size="7.3" text-anchor="middle" fill="#222">0.8</text><text transform="translate(169.4,242.4) rotate(-90) scale(1,1.12)" font-size="7.3" text-anchor="middle" fill="#222">1.2</text><text transform="translate(169.4,214.4) rotate(-90) scale(1,1.12)" font-size="7.3" text-anchor="middle" fill="#222">1.5</text><text transform="translate(155.1,309.4) rotate(-90)" font-size="7.65" fill="#222">SSC-H (<tspan dx="0.8">10</tspan><tspan font-size="6.6" dx="1.1" dy="-3.6">6</tspan><tspan dx="1.6" dy="3.6">)</tspan></text><path d="M175.0 355v3M180.9 355v1.5M184.3 355v1.5M186.8 355v1.5M188.7 355v1.5M190.2 355v1.5M191.5 355v1.5M192.7 355v1.5M193.7 355v1.5M194.6 355v3M200.5 355v1.5M203.9 355v1.5M206.4 355v1.5M208.3 355v1.5M209.8 355v1.5M211.1 355v1.5M212.3 355v1.5M213.3 355v1.5M214.2 355v3M220.1 355v1.5M223.5 355v1.5M226.0 355v1.5M227.9 355v1.5M229.4 355v1.5M230.7 355v1.5M231.9 355v1.5M232.9 355v1.5M233.8 355v3M239.6 355v1.5M243.1 355v1.5M245.5 355v1.5M247.4 355v1.5M249.0 355v1.5M250.3 355v1.5M251.4 355v1.5M252.4 355v1.5M253.3 355v3M259.2 355v1.5M262.7 355v1.5M265.1 355v1.5M267.0 355v1.5M268.6 355v1.5M269.9 355v1.5M271.0 355v1.5M272.0 355v1.5M272.9 355v3M278.8 355v1.5M282.3 355v1.5M284.7 355v1.5M286.6 355v1.5M288.2 355v1.5M289.5 355v1.5M290.6 355v1.5M291.6 355v1.5M292.5 355v3M298.4 355v1.5M301.8 355v1.5M304.3 355v1.5M306.2 355v1.5M307.7 355v1.5M309.0 355v1.5M310.2 355v1.5M311.2 355v1.5M312.1 355v3M316.0 355v3" stroke="#333" stroke-width="0.7"/><text x="177.0" y="368" font-size="7.7" text-anchor="middle" fill="#222">10<tspan font-size="6.3" dx="1.3" dy="-3.9">0</tspan></text><text x="214.7" y="368" font-size="7.7" text-anchor="middle" fill="#222">10<tspan font-size="6.3" dx="1.3" dy="-3.9">2</tspan></text><text x="253.3" y="368" font-size="7.7" text-anchor="middle" fill="#222">10<tspan font-size="6.3" dx="1.3" dy="-3.9">4</tspan></text><text x="292.1" y="368" font-size="7.7" text-anchor="middle" fill="#222">10<tspan font-size="6.3" dx="1.3" dy="-3.9">6</tspan></text><text x="314.6" y="368" font-size="7.7" text-anchor="middle" fill="#222">10<tspan font-size="6.3" dx="1.3" dy="-3.9">7.2</tspan></text><text x="245.5" y="380" font-size="7.5" text-anchor="middle" fill="#222">IgE-PE-A</text><rect x="265.5" y="232.5" width="48.4" height="121" fill="none" stroke="#ff2020" stroke-width="1.05"/><text transform="translate(274.3,254.9) scale(0.9,1)" font-size="8.3" fill="#ff1a1a">R1</text><text transform="translate(274.3,263.7) scale(0.9,1)" font-size="8.3" fill="#ff1a1a">0.06%</text><path d="M418 226h1v1h-1zM399 272h1v1h-1zM422 272h1v1h-1zM432 285h1v1h-1zM432 289h1v1h-1zM420 293h1v1h-1zM412 294h1v1h-1zM423 294h1v1h-1zM408 295h1v1h-1zM419 295h1v1h-1zM426 296h1v1h-1zM426 297h1v1h-1zM419 298h1v1h-1zM412 301h1v1h-1zM436 301h1v1h-1zM423 302h1v1h-1zM428 307h1v1h-1zM435 308h1v1h-1zM436 311h1v1h-1zM432 313h1v1h-1zM436 315h1v1h-1zM432 318h1v1h-1zM432 319h1v1h-1zM440 319h1v1h-1zM435 320h2v1h-2zM400 323h1v1h-1zM402 323h1v1h-1zM401 325h1v1h-1zM441 325h1v1h-1zM397 326h1v1h-1zM397 330h1v1h-1zM403 330h1v1h-1zM390 332h1v1h-1zM395 334h1v1h-1zM382 337h1v1h-1zM390 338h1v1h-1zM438 338h1v1h-1zM397 339h1v1h-1zM391 341h1v1h-1zM391 342h1v1h-1zM361 343h1v1h-1zM373 343h1v1h-1zM373 344h1v1h-1zM367 349h1v1h-1zM437 350h1v1h-1zM437 352h1v1h-1zM441 352h1v1h-1z" fill="rgb(160,160,160)"/><path d="M432 227h1v1h-1zM423 248h1v1h-1zM441 249h1v1h-1zM424 261h1v1h-1zM412 262h1v1h-1zM419 267h1v1h-1zM426 267h1v1h-1zM422 271h1v1h-1zM422 275h1v1h-1zM427 276h1v1h-1zM432 276h1v1h-1zM419 277h1v1h-1zM419 279h1v1h-1zM421 280h1v1h-1zM436 284h1v1h-1zM426 290h1v1h-1zM405 294h1v1h-1zM408 294h1v1h-1zM426 294h2v1h-2zM424 295h1v1h-1zM415 297h1v1h-1zM417 297h2v1h-2zM416 298h2v1h-2zM437 298h1v1h-1zM421 299h1v1h-1zM427 299h1v1h-1zM418 300h1v1h-1zM420 300h1v1h-1zM431 300h1v1h-1zM414 301h1v1h-1zM410 302h1v1h-1zM420 302h1v1h-1zM420 303h1v1h-1zM426 303h1v1h-1zM428 303h1v1h-1zM413 304h1v1h-1zM423 304h1v1h-1zM426 304h1v1h-1zM417 305h1v1h-1zM421 305h1v1h-1zM423 305h1v1h-1zM413 306h1v1h-1zM415 306h1v1h-1zM418 306h2v1h-2zM421 306h1v1h-1zM427 306h1v1h-1zM410 307h1v1h-1zM414 307h2v1h-2zM421 307h1v1h-1zM425 307h1v1h-1zM431 307h1v1h-1zM413 308h1v1h-1zM426 308h1v1h-1zM429 308h1v1h-1zM415 309h1v1h-1zM422 309h1v1h-1zM430 309h1v1h-1zM438 309h1v1h-1zM413 310h1v1h-1zM415 310h1v1h-1zM419 310h1v1h-1zM412 311h1v1h-1zM418 311h5v1h-5zM429 311h1v1h-1zM411 312h1v1h-1zM414 312h1v1h-1zM418 312h3v1h-3zM421 313h1v1h-1zM424 313h1v1h-1zM397 314h1v1h-1zM428 314h1v1h-1zM430 314h1v1h-1zM438 314h1v1h-1zM411 315h1v1h-1zM419 315h2v1h-2zM431 315h1v1h-1zM410 316h1v1h-1zM413 316h1v1h-1zM425 316h1v1h-1zM431 316h1v1h-1zM410 317h1v1h-1zM413 317h1v1h-1zM420 317h1v1h-1zM425 317h1v1h-1zM435 317h1v1h-1zM412 318h1v1h-1zM425 318h2v1h-2zM430 318h1v1h-1zM422 319h1v1h-1zM427 319h2v1h-2zM408 320h2v1h-2zM422 320h2v1h-2zM425 320h1v1h-1zM428 320h1v1h-1zM433 320h1v1h-1zM405 321h1v1h-1zM421 321h1v1h-1zM423 321h1v1h-1zM427 321h1v1h-1zM406 322h2v1h-2zM411 322h1v1h-1zM421 322h2v1h-2zM425 322h1v1h-1zM428 322h4v1h-4zM407 323h1v1h-1zM410 323h1v1h-1zM422 323h1v1h-1zM425 323h1v1h-1zM410 324h1v1h-1zM420 324h1v1h-1zM426 324h1v1h-1zM428 324h1v1h-1zM431 324h1v1h-1zM402 325h1v1h-1zM407 325h1v1h-1zM410 325h1v1h-1zM420 325h3v1h-3zM426 325h1v1h-1zM407 326h1v1h-1zM409 326h2v1h-2zM422 326h1v1h-1zM428 326h1v1h-1zM420 327h2v1h-2zM424 327h1v1h-1zM430 327h1v1h-1zM439 327h1v1h-1zM425 328h1v1h-1zM420 329h1v1h-1zM401 330h1v1h-1zM406 330h4v1h-4zM400 331h1v1h-1zM403 331h1v1h-1zM406 331h1v1h-1zM408 331h1v1h-1zM422 331h1v1h-1zM433 331h1v1h-1zM437 331h1v1h-1zM399 332h1v1h-1zM407 332h1v1h-1zM421 332h1v1h-1zM424 332h1v1h-1zM428 332h1v1h-1zM403 333h1v1h-1zM407 333h1v1h-1zM428 333h3v1h-3zM396 334h1v1h-1zM405 334h1v1h-1zM426 334h1v1h-1zM441 334h1v1h-1zM388 335h1v1h-1zM406 335h1v1h-1zM422 335h3v1h-3zM430 335h1v1h-1zM433 335h1v1h-1zM392 336h1v1h-1zM402 336h2v1h-2zM405 336h1v1h-1zM424 336h2v1h-2zM441 336h1v1h-1zM390 337h1v1h-1zM403 337h1v1h-1zM405 337h2v1h-2zM421 337h1v1h-1zM423 337h2v1h-2zM426 337h1v1h-1zM441 337h1v1h-1zM443 337h1v1h-1zM376 338h1v1h-1zM403 338h1v1h-1zM405 338h1v1h-1zM421 338h1v1h-1zM430 338h1v1h-1zM433 338h1v1h-1zM378 339h1v1h-1zM400 339h1v1h-1zM403 339h1v1h-1zM421 339h1v1h-1zM424 339h1v1h-1zM429 339h4v1h-4zM435 339h1v1h-1zM379 340h1v1h-1zM393 340h2v1h-2zM401 340h1v1h-1zM428 340h1v1h-1zM399 341h1v1h-1zM402 341h2v1h-2zM425 341h1v1h-1zM432 341h1v1h-1zM434 341h2v1h-2zM385 342h1v1h-1zM394 342h1v1h-1zM398 342h1v1h-1zM402 342h1v1h-1zM427 342h1v1h-1zM430 342h1v1h-1zM434 342h2v1h-2zM376 343h1v1h-1zM401 343h2v1h-2zM424 343h1v1h-1zM429 343h1v1h-1zM433 343h1v1h-1zM437 343h1v1h-1zM441 343h1v1h-1zM377 344h1v1h-1zM392 344h1v1h-1zM394 344h1v1h-1zM398 344h2v1h-2zM425 344h1v1h-1zM427 344h3v1h-3zM431 344h2v1h-2zM434 344h2v1h-2zM371 345h1v1h-1zM376 345h1v1h-1zM387 345h1v1h-1zM397 345h3v1h-3zM426 345h1v1h-1zM429 345h1v1h-1zM371 346h1v1h-1zM382 346h1v1h-1zM387 346h3v1h-3zM396 346h1v1h-1zM426 346h1v1h-1zM382 347h1v1h-1zM385 347h1v1h-1zM387 347h1v1h-1zM391 347h1v1h-1zM394 347h3v1h-3zM426 347h1v1h-1zM376 348h1v1h-1zM381 348h1v1h-1zM386 348h1v1h-1zM388 348h2v1h-2zM391 348h1v1h-1zM423 348h1v1h-1zM426 348h1v1h-1zM430 348h1v1h-1zM437 348h1v1h-1zM379 349h1v1h-1zM384 349h1v1h-1zM386 349h1v1h-1zM388 349h2v1h-2zM429 349h1v1h-1zM435 349h1v1h-1zM357 350h2v1h-2zM367 350h1v1h-1zM373 350h1v1h-1zM378 350h1v1h-1zM380 350h2v1h-2zM387 350h1v1h-1zM423 350h4v1h-4zM433 350h1v1h-1zM357 351h1v1h-1zM363 351h1v1h-1zM365 351h2v1h-2zM378 351h1v1h-1zM380 351h2v1h-2zM436 351h1v1h-1zM357 352h1v1h-1zM360 352h1v1h-1zM364 352h2v1h-2zM369 352h1v1h-1zM373 352h1v1h-1zM375 352h1v1h-1zM378 352h1v1h-1zM423 352h1v1h-1zM429 352h1v1h-1zM357 353h2v1h-2zM361 353h1v1h-1zM363 353h1v1h-1zM366 353h2v1h-2zM427 353h4v1h-4zM439 353h1v1h-1z" fill="rgb(110,110,110)"/><path d="M437 236h1v1h-1zM432 249h1v1h-1zM426 251h1v1h-1zM427 257h1v1h-1zM426 259h1v1h-1zM431 267h1v1h-1zM426 270h1v1h-1zM418 274h1v1h-1zM394 283h1v1h-1zM426 284h1v1h-1zM419 287h1v1h-1zM413 289h1v1h-1zM426 289h1v1h-1zM413 290h1v1h-1zM430 290h1v1h-1zM415 291h1v1h-1zM420 291h1v1h-1zM427 292h1v1h-1zM408 293h1v1h-1zM416 293h2v1h-2zM414 295h2v1h-2zM417 295h1v1h-1zM433 295h1v1h-1zM435 297h1v1h-1zM413 298h1v1h-1zM435 298h1v1h-1zM424 299h1v1h-1zM422 300h1v1h-1zM425 300h1v1h-1zM429 301h1v1h-1zM432 301h1v1h-1zM413 302h1v1h-1zM424 302h1v1h-1zM415 303h1v1h-1zM418 303h1v1h-1zM433 303h1v1h-1zM414 304h1v1h-1zM416 304h2v1h-2zM422 304h1v1h-1zM441 304h1v1h-1zM414 305h1v1h-1zM428 305h1v1h-1zM416 306h1v1h-1zM423 306h1v1h-1zM422 307h1v1h-1zM424 307h1v1h-1zM432 307h1v1h-1zM414 308h1v1h-1zM431 308h1v1h-1zM434 308h1v1h-1zM417 309h2v1h-2zM420 309h1v1h-1zM434 309h1v1h-1zM412 310h1v1h-1zM414 310h1v1h-1zM418 310h1v1h-1zM420 310h1v1h-1zM425 310h2v1h-2zM429 310h2v1h-2zM411 311h1v1h-1zM423 311h1v1h-1zM422 312h1v1h-1zM432 312h2v1h-2zM408 313h1v1h-1zM410 313h1v1h-1zM413 313h1v1h-1zM418 313h1v1h-1zM426 313h1v1h-1zM419 314h1v1h-1zM421 314h4v1h-4zM418 315h1v1h-1zM430 315h1v1h-1zM437 315h1v1h-1zM412 316h1v1h-1zM421 316h2v1h-2zM437 316h1v1h-1zM409 317h1v1h-1zM430 317h1v1h-1zM404 318h1v1h-1zM407 318h1v1h-1zM411 320h2v1h-2zM429 320h1v1h-1zM422 321h1v1h-1zM440 321h1v1h-1zM400 322h1v1h-1zM408 322h1v1h-1zM410 322h1v1h-1zM419 322h1v1h-1zM409 323h1v1h-1zM411 323h1v1h-1zM419 323h2v1h-2zM427 323h2v1h-2zM423 324h1v1h-1zM427 324h1v1h-1zM434 324h1v1h-1zM409 325h1v1h-1zM431 325h1v1h-1zM401 326h1v1h-1zM403 326h1v1h-1zM420 326h1v1h-1zM425 326h1v1h-1zM403 327h1v1h-1zM426 327h1v1h-1zM434 327h1v1h-1zM397 328h1v1h-1zM402 328h1v1h-1zM408 328h2v1h-2zM421 328h2v1h-2zM426 328h1v1h-1zM440 328h1v1h-1zM395 329h1v1h-1zM397 329h1v1h-1zM409 329h1v1h-1zM425 329h2v1h-2zM429 329h1v1h-1zM431 329h1v1h-1zM438 329h1v1h-1zM422 330h1v1h-1zM428 330h1v1h-1zM399 331h1v1h-1zM407 331h1v1h-1zM420 331h1v1h-1zM425 331h1v1h-1zM427 331h1v1h-1zM405 332h2v1h-2zM404 333h2v1h-2zM422 333h1v1h-1zM437 333h1v1h-1zM438 334h1v1h-1zM399 335h1v1h-1zM404 335h1v1h-1zM427 335h1v1h-1zM429 335h1v1h-1zM406 336h1v1h-1zM427 336h1v1h-1zM429 336h1v1h-1zM435 336h1v1h-1zM400 337h1v1h-1zM402 337h1v1h-1zM383 338h1v1h-1zM400 338h1v1h-1zM424 338h1v1h-1zM428 338h1v1h-1zM432 338h1v1h-1zM434 338h1v1h-1zM401 339h1v1h-1zM422 339h1v1h-1zM428 339h1v1h-1zM391 340h1v1h-1zM423 340h1v1h-1zM425 340h1v1h-1zM432 340h1v1h-1zM423 341h1v1h-1zM439 341h1v1h-1zM382 342h1v1h-1zM386 342h1v1h-1zM400 342h1v1h-1zM424 342h1v1h-1zM429 342h1v1h-1zM385 343h1v1h-1zM399 343h1v1h-1zM422 343h2v1h-2zM425 343h1v1h-1zM434 343h2v1h-2zM395 344h2v1h-2zM426 344h1v1h-1zM382 345h1v1h-1zM384 345h1v1h-1zM386 345h1v1h-1zM393 345h3v1h-3zM422 345h1v1h-1zM427 345h1v1h-1zM430 345h1v1h-1zM436 345h1v1h-1zM390 346h1v1h-1zM393 346h1v1h-1zM397 346h1v1h-1zM431 346h1v1h-1zM363 347h1v1h-1zM376 347h1v1h-1zM379 347h1v1h-1zM392 347h2v1h-2zM397 347h1v1h-1zM422 347h1v1h-1zM424 347h2v1h-2zM429 347h2v1h-2zM432 347h1v1h-1zM367 348h1v1h-1zM375 348h1v1h-1zM379 348h1v1h-1zM385 348h1v1h-1zM394 348h1v1h-1zM373 349h1v1h-1zM387 349h1v1h-1zM390 349h1v1h-1zM423 349h2v1h-2zM426 349h1v1h-1zM437 349h1v1h-1zM440 349h1v1h-1zM379 350h1v1h-1zM383 350h1v1h-1zM385 350h1v1h-1zM427 350h2v1h-2zM444 350h1v1h-1zM359 351h1v1h-1zM368 351h1v1h-1zM379 351h1v1h-1zM382 351h2v1h-2zM423 351h2v1h-2zM437 351h1v1h-1zM374 352h1v1h-1zM377 352h1v1h-1zM425 352h1v1h-1zM427 352h1v1h-1zM362 353h1v1h-1zM368 353h2v1h-2zM372 353h2v1h-2zM424 353h1v1h-1zM437 353h1v1h-1z" fill="rgb(50,50,50)"/><path d="M425 284h1v1h-1zM421 289h1v1h-1zM420 290h1v1h-1zM419 292h1v1h-1zM425 292h1v1h-1zM432 295h1v1h-1zM439 295h1v1h-1zM414 296h1v1h-1zM436 299h1v1h-1zM414 300h1v1h-1zM416 300h2v1h-2zM424 300h1v1h-1zM432 300h1v1h-1zM430 301h1v1h-1zM418 302h2v1h-2zM419 304h1v1h-1zM415 305h2v1h-2zM414 306h1v1h-1zM416 307h2v1h-2zM411 308h1v1h-1zM415 308h2v1h-2zM418 308h1v1h-1zM422 308h1v1h-1zM424 308h1v1h-1zM444 308h1v1h-1zM408 309h1v1h-1zM412 309h1v1h-1zM414 309h1v1h-1zM416 309h1v1h-1zM423 309h1v1h-1zM417 310h1v1h-1zM431 310h1v1h-1zM413 311h1v1h-1zM415 311h2v1h-2zM427 311h1v1h-1zM406 312h1v1h-1zM410 312h1v1h-1zM412 312h1v1h-1zM415 312h3v1h-3zM425 312h4v1h-4zM412 313h1v1h-1zM414 313h4v1h-4zM414 314h4v1h-4zM436 314h1v1h-1zM414 315h4v1h-4zM422 315h1v1h-1zM426 315h1v1h-1zM428 315h1v1h-1zM414 316h5v1h-5zM435 316h1v1h-1zM412 317h1v1h-1zM414 317h1v1h-1zM416 317h4v1h-4zM421 317h1v1h-1zM413 318h7v1h-7zM422 318h1v1h-1zM412 319h7v1h-7zM421 319h1v1h-1zM431 319h1v1h-1zM413 320h6v1h-6zM420 320h1v1h-1zM426 320h1v1h-1zM408 321h1v1h-1zM410 321h2v1h-2zM413 321h7v1h-7zM424 321h1v1h-1zM412 322h7v1h-7zM423 322h1v1h-1zM412 323h1v1h-1zM414 323h5v1h-5zM430 323h1v1h-1zM434 323h1v1h-1zM407 324h1v1h-1zM411 324h8v1h-8zM422 324h1v1h-1zM411 325h9v1h-9zM427 325h1v1h-1zM405 326h1v1h-1zM411 326h9v1h-9zM433 326h1v1h-1zM390 327h1v1h-1zM395 327h1v1h-1zM407 327h1v1h-1zM409 327h11v1h-11zM423 327h1v1h-1zM428 327h1v1h-1zM407 328h1v1h-1zM410 328h10v1h-10zM406 329h1v1h-1zM408 329h1v1h-1zM410 329h2v1h-2zM413 329h6v1h-6zM427 329h1v1h-1zM432 329h1v1h-1zM399 330h1v1h-1zM410 330h10v1h-10zM432 330h1v1h-1zM405 331h1v1h-1zM409 331h11v1h-11zM423 331h1v1h-1zM408 332h13v1h-13zM429 332h1v1h-1zM431 332h1v1h-1zM400 333h1v1h-1zM408 333h13v1h-13zM423 333h1v1h-1zM427 333h1v1h-1zM433 333h1v1h-1zM381 334h1v1h-1zM407 334h16v1h-16zM440 334h1v1h-1zM393 335h1v1h-1zM405 335h1v1h-1zM408 335h14v1h-14zM425 335h1v1h-1zM431 335h1v1h-1zM436 335h1v1h-1zM407 336h14v1h-14zM379 337h1v1h-1zM395 337h1v1h-1zM404 337h1v1h-1zM407 337h14v1h-14zM430 337h1v1h-1zM395 338h3v1h-3zM406 338h15v1h-15zM439 338h1v1h-1zM405 339h16v1h-16zM403 340h1v1h-1zM405 340h18v1h-18zM387 341h1v1h-1zM396 341h1v1h-1zM404 341h18v1h-18zM399 342h1v1h-1zM404 342h19v1h-19zM432 342h2v1h-2zM394 343h1v1h-1zM397 343h1v1h-1zM400 343h1v1h-1zM403 343h18v1h-18zM431 343h1v1h-1zM400 344h1v1h-1zM402 344h21v1h-21zM385 345h1v1h-1zM400 345h22v1h-22zM432 345h1v1h-1zM392 346h1v1h-1zM398 346h26v1h-26zM380 347h1v1h-1zM398 347h24v1h-24zM427 347h1v1h-1zM393 348h1v1h-1zM395 348h26v1h-26zM427 348h1v1h-1zM434 348h1v1h-1zM376 349h1v1h-1zM392 349h31v1h-31zM425 349h1v1h-1zM434 349h1v1h-1zM436 349h1v1h-1zM370 350h1v1h-1zM374 350h1v1h-1zM384 350h1v1h-1zM386 350h1v1h-1zM388 350h18v1h-18zM407 350h16v1h-16zM432 350h1v1h-1zM434 350h1v1h-1zM439 350h1v1h-1zM362 351h1v1h-1zM373 351h1v1h-1zM377 351h1v1h-1zM384 351h39v1h-39zM429 351h1v1h-1zM431 351h1v1h-1zM363 352h1v1h-1zM366 352h3v1h-3zM371 352h1v1h-1zM376 352h1v1h-1zM379 352h8v1h-8zM388 352h5v1h-5zM394 352h26v1h-26zM421 352h2v1h-2zM435 352h1v1h-1zM359 353h1v1h-1zM364 353h1v1h-1zM370 353h2v1h-2zM374 353h50v1h-50zM425 353h1v1h-1zM435 353h1v1h-1z" fill="rgb(0,0,0)"/><path d="M456 318h1v1h-1zM449 319h1v1h-1zM448 326h1v1h-1zM456 329h1v1h-1zM456 334h1v1h-1zM452 339h1v1h-1zM463 342h1v1h-1zM452 348h1v1h-1zM461 348h2v1h-2zM450 349h1v1h-1zM457 350h1v1h-1zM461 350h1v1h-1zM457 351h1v1h-1zM460 351h1v1h-1zM449 352h1v1h-1zM462 352h1v1h-1zM460 353h1v1h-1z" fill="rgb(255,175,175)"/><path d="M463 279h1v1h-1zM451 297h1v1h-1zM465 304h1v1h-1zM457 313h1v1h-1zM470 314h1v1h-1zM455 323h1v1h-1zM457 343h1v1h-1zM454 345h1v1h-1zM446 347h1v1h-1zM450 347h1v1h-1zM457 347h1v1h-1zM453 348h1v1h-1zM450 350h1v1h-1zM456 350h1v1h-1zM453 351h1v1h-1zM456 352h1v1h-1z" fill="rgb(255,120,120)"/><path d="M460 308h1v1h-1zM452 312h1v1h-1zM463 312h1v1h-1zM463 313h1v1h-1zM464 322h1v1h-1zM468 332h1v1h-1zM453 334h1v1h-1zM455 339h1v1h-1zM466 340h1v1h-1zM459 343h1v1h-1zM459 348h1v1h-1zM449 350h1v1h-1zM459 350h1v1h-1zM454 351h1v1h-1zM446 352h1v1h-1zM460 352h1v1h-1zM448 353h1v1h-1z" fill="rgb(255,60,60)"/><path d="M455 346h1v1h-1zM453 349h1v1h-1zM458 351h1v1h-1zM455 353h1v1h-1z" fill="rgb(255,0,0)"/><path d="M352.5 214.5H496" stroke="#333" stroke-width="1"/><path d="M355.5 214V358" stroke="#333" stroke-width="1"/><path d="M495.5 214V358" stroke="#444" stroke-width="1.1"/><path d="M355 355.1H497" stroke="#777" stroke-width="1"/><path d="M353.5 354.5H355M353.5 347.0H355M353.5 339.6H355M353.5 332.1H355M353.5 324.6H355M353.5 317.1H355M353.5 309.7H355M353.5 302.2H355M353.5 294.7H355M353.5 287.3H355M353.5 279.8H355M353.5 272.3H355M353.5 264.8H355M353.5 257.4H355M353.5 249.9H355M353.5 242.4H355M353.5 234.9H355M353.5 227.5H355M353.5 220.0H355M352 354.5H355M352 317.1H355M352 279.8H355M352 242.4H355M352 214.4H355" stroke="#333" stroke-width="0.8"/><text transform="translate(349.4,354.5) rotate(-90) scale(1,1.12)" font-size="7.3" text-anchor="middle" fill="#222">0</text><text transform="translate(349.4,317.1) rotate(-90) scale(1,1.12)" font-size="7.3" text-anchor="middle" fill="#222">0.4</text><text transform="translate(349.4,279.8) rotate(-90) scale(1,1.12)" font-size="7.3" text-anchor="middle" fill="#222">0.8</text><text transform="translate(349.4,242.4) rotate(-90) scale(1,1.12)" font-size="7.3" text-anchor="middle" fill="#222">1.2</text><text transform="translate(349.4,214.4) rotate(-90) scale(1,1.12)" font-size="7.3" text-anchor="middle" fill="#222">1.5</text><text transform="translate(335.1,309.4) rotate(-90)" font-size="7.65" fill="#222">SSC-H (<tspan dx="0.8">10</tspan><tspan font-size="6.6" dx="1.1" dy="-3.6">6</tspan><tspan dx="1.6" dy="3.6">)</tspan></text><path d="M355.0 355v3M360.9 355v1.5M364.3 355v1.5M366.8 355v1.5M368.7 355v1.5M370.2 355v1.5M371.5 355v1.5M372.7 355v1.5M373.7 355v1.5M374.6 355v3M380.5 355v1.5M383.9 355v1.5M386.4 355v1.5M388.3 355v1.5M389.8 355v1.5M391.1 355v1.5M392.3 355v1.5M393.3 355v1.5M394.2 355v3M400.1 355v1.5M403.5 355v1.5M406.0 355v1.5M407.9 355v1.5M409.4 355v1.5M410.7 355v1.5M411.9 355v1.5M412.9 355v1.5M413.8 355v3M419.6 355v1.5M423.1 355v1.5M425.5 355v1.5M427.4 355v1.5M429.0 355v1.5M430.3 355v1.5M431.4 355v1.5M432.4 355v1.5M433.3 355v3M439.2 355v1.5M442.7 355v1.5M445.1 355v1.5M447.0 355v1.5M448.6 355v1.5M449.9 355v1.5M451.0 355v1.5M452.0 355v1.5M452.9 355v3M458.8 355v1.5M462.3 355v1.5M464.7 355v1.5M466.6 355v1.5M468.2 355v1.5M469.5 355v1.5M470.6 355v1.5M471.6 355v1.5M472.5 355v3M478.4 355v1.5M481.8 355v1.5M484.3 355v1.5M486.2 355v1.5M487.7 355v1.5M489.0 355v1.5M490.2 355v1.5M491.2 355v1.5M492.1 355v3M496.0 355v3" stroke="#333" stroke-width="0.7"/><text x="357.0" y="368" font-size="7.7" text-anchor="middle" fill="#222">10<tspan font-size="6.3" dx="1.3" dy="-3.9">0</tspan></text><text x="394.7" y="368" font-size="7.7" text-anchor="middle" fill="#222">10<tspan font-size="6.3" dx="1.3" dy="-3.9">2</tspan></text><text x="433.3" y="368" font-size="7.7" text-anchor="middle" fill="#222">10<tspan font-size="6.3" dx="1.3" dy="-3.9">4</tspan></text><text x="472.1" y="368" font-size="7.7" text-anchor="middle" fill="#222">10<tspan font-size="6.3" dx="1.3" dy="-3.9">6</tspan></text><text x="494.6" y="368" font-size="7.7" text-anchor="middle" fill="#222">10<tspan font-size="6.3" dx="1.3" dy="-3.9">7.2</tspan></text><text x="425.5" y="380" font-size="7.5" text-anchor="middle" fill="#222">IgE-PE-A</text><rect x="444.8" y="232.5" width="48.8" height="121" fill="none" stroke="#ff2020" stroke-width="1.05"/><text transform="translate(454.3,254.9) scale(0.9,1)" font-size="8.3" fill="#ff1a1a">R1</text><text transform="translate(454.3,263.7) scale(0.9,1)" font-size="8.3" fill="#ff1a1a">0.21%</text><path d="M593 219h1v1h-1zM597 221h1v1h-1zM578 223h1v1h-1zM604 229h1v1h-1zM612 232h1v1h-1zM579 234h1v1h-1zM595 239h1v1h-1zM615 239h1v1h-1zM615 241h1v1h-1zM582 246h1v1h-1zM607 246h1v1h-1zM618 253h1v1h-1zM596 254h1v1h-1zM584 259h1v1h-1zM566 263h1v1h-1zM611 264h1v1h-1zM594 266h1v1h-1zM580 267h1v1h-1zM615 274h1v1h-1zM596 276h1v1h-1zM584 285h1v1h-1zM612 302h1v1h-1zM585 303h1v1h-1zM619 304h1v1h-1zM591 308h1v1h-1zM609 309h1v1h-1zM611 311h1v1h-1zM589 312h2v1h-2zM599 312h1v1h-1zM614 312h1v1h-1zM584 315h1v1h-1zM591 316h1v1h-1zM613 316h1v1h-1zM576 320h1v1h-1zM590 320h1v1h-1zM557 321h1v1h-1zM581 322h1v1h-1zM599 322h1v1h-1zM591 324h1v1h-1zM605 324h1v1h-1zM608 325h1v1h-1zM591 326h2v1h-2zM595 326h1v1h-1zM588 327h1v1h-1zM601 327h1v1h-1zM591 328h1v1h-1zM600 329h1v1h-1zM606 330h1v1h-1zM619 331h1v1h-1zM611 332h1v1h-1zM616 332h1v1h-1zM584 335h1v1h-1zM616 336h1v1h-1zM618 336h1v1h-1zM574 337h1v1h-1zM617 337h1v1h-1zM575 339h1v1h-1zM572 341h1v1h-1zM617 342h1v1h-1zM559 346h1v1h-1zM563 346h1v1h-1zM565 346h1v1h-1zM564 347h1v1h-1zM620 347h1v1h-1zM623 347h1v1h-1zM561 348h1v1h-1zM540 350h1v1h-1zM621 352h1v1h-1zM620 353h1v1h-1z" fill="rgb(160,160,160)"/><path d="M618 221h1v1h-1zM595 222h1v1h-1zM617 224h1v1h-1zM617 228h1v1h-1zM605 231h1v1h-1zM597 235h1v1h-1zM600 237h1v1h-1zM544 238h1v1h-1zM587 238h1v1h-1zM572 239h1v1h-1zM613 240h1v1h-1zM612 241h1v1h-1zM591 242h1v1h-1zM588 244h1v1h-1zM615 244h1v1h-1zM610 247h1v1h-1zM616 251h1v1h-1zM581 252h1v1h-1zM590 253h1v1h-1zM618 259h1v1h-1zM595 261h1v1h-1zM572 262h1v1h-1zM618 262h1v1h-1zM570 264h1v1h-1zM605 264h1v1h-1zM622 267h1v1h-1zM605 268h1v1h-1zM611 276h1v1h-1zM624 278h1v1h-1zM585 279h1v1h-1zM589 280h1v1h-1zM603 280h1v1h-1zM608 280h1v1h-1zM577 283h1v1h-1zM599 283h1v1h-1zM587 285h1v1h-1zM580 286h1v1h-1zM578 289h1v1h-1zM587 289h1v1h-1zM600 290h1v1h-1zM605 293h1v1h-1zM598 295h1v1h-1zM593 297h1v1h-1zM590 298h1v1h-1zM592 301h1v1h-1zM564 302h1v1h-1zM593 303h1v1h-1zM604 305h1v1h-1zM606 306h1v1h-1zM595 307h2v1h-2zM579 308h1v1h-1zM586 308h1v1h-1zM608 308h1v1h-1zM600 309h1v1h-1zM616 310h1v1h-1zM609 311h1v1h-1zM539 312h1v1h-1zM620 312h1v1h-1zM600 313h1v1h-1zM574 317h1v1h-1zM610 317h1v1h-1zM616 317h1v1h-1zM605 318h1v1h-1zM580 319h1v1h-1zM606 319h1v1h-1zM591 322h1v1h-1zM554 324h1v1h-1zM590 324h1v1h-1zM606 324h1v1h-1zM614 324h1v1h-1zM603 325h1v1h-1zM584 326h1v1h-1zM599 327h2v1h-2zM611 327h1v1h-1zM604 328h1v1h-1zM589 329h1v1h-1zM598 329h1v1h-1zM613 329h1v1h-1zM593 330h1v1h-1zM599 330h1v1h-1zM605 330h1v1h-1zM612 330h1v1h-1zM590 331h1v1h-1zM603 331h1v1h-1zM591 332h1v1h-1zM595 332h1v1h-1zM603 332h1v1h-1zM605 332h2v1h-2zM590 333h1v1h-1zM607 333h1v1h-1zM590 334h2v1h-2zM597 334h1v1h-1zM601 334h1v1h-1zM609 334h1v1h-1zM620 334h1v1h-1zM623 334h1v1h-1zM570 335h1v1h-1zM583 335h1v1h-1zM608 335h1v1h-1zM581 336h1v1h-1zM584 336h2v1h-2zM588 336h1v1h-1zM590 336h1v1h-1zM592 336h1v1h-1zM594 336h1v1h-1zM598 336h1v1h-1zM601 336h1v1h-1zM605 336h1v1h-1zM617 336h1v1h-1zM582 337h1v1h-1zM584 337h1v1h-1zM587 337h1v1h-1zM592 337h1v1h-1zM598 337h2v1h-2zM601 337h1v1h-1zM604 337h1v1h-1zM612 337h2v1h-2zM622 337h1v1h-1zM624 337h1v1h-1zM578 338h1v1h-1zM582 338h1v1h-1zM584 338h2v1h-2zM588 338h2v1h-2zM602 338h3v1h-3zM607 338h1v1h-1zM610 338h1v1h-1zM615 338h1v1h-1zM589 339h1v1h-1zM592 339h2v1h-2zM612 339h2v1h-2zM577 340h1v1h-1zM583 340h1v1h-1zM587 340h1v1h-1zM589 340h1v1h-1zM606 340h3v1h-3zM615 340h1v1h-1zM557 341h1v1h-1zM583 341h3v1h-3zM587 341h1v1h-1zM607 341h1v1h-1zM609 341h1v1h-1zM617 341h1v1h-1zM583 342h1v1h-1zM585 342h1v1h-1zM608 342h1v1h-1zM612 342h1v1h-1zM619 342h2v1h-2zM577 343h1v1h-1zM580 343h1v1h-1zM608 343h1v1h-1zM543 344h1v1h-1zM582 344h1v1h-1zM585 344h1v1h-1zM610 344h1v1h-1zM613 344h3v1h-3zM554 345h1v1h-1zM572 345h1v1h-1zM576 345h1v1h-1zM582 345h1v1h-1zM618 345h1v1h-1zM578 346h1v1h-1zM580 346h3v1h-3zM610 346h1v1h-1zM616 346h3v1h-3zM546 347h1v1h-1zM555 347h1v1h-1zM571 347h2v1h-2zM611 347h3v1h-3zM615 347h1v1h-1zM565 348h2v1h-2zM571 348h1v1h-1zM573 348h1v1h-1zM576 348h2v1h-2zM611 348h1v1h-1zM613 348h1v1h-1zM618 348h1v1h-1zM542 349h1v1h-1zM554 349h1v1h-1zM560 349h1v1h-1zM563 349h1v1h-1zM569 349h2v1h-2zM573 349h1v1h-1zM575 349h1v1h-1zM613 349h2v1h-2zM555 350h2v1h-2zM559 350h2v1h-2zM566 350h1v1h-1zM569 350h1v1h-1zM572 350h2v1h-2zM612 350h1v1h-1zM614 350h4v1h-4zM620 350h1v1h-1zM549 351h1v1h-1zM551 351h1v1h-1zM562 351h4v1h-4zM567 351h2v1h-2zM542 352h2v1h-2zM546 352h1v1h-1zM551 352h1v1h-1zM553 352h1v1h-1zM555 352h8v1h-8zM564 352h1v1h-1zM613 352h2v1h-2zM619 352h2v1h-2zM538 353h1v1h-1zM540 353h2v1h-2zM545 353h1v1h-1zM547 353h1v1h-1zM550 353h1v1h-1zM553 353h2v1h-2zM556 353h1v1h-1zM613 353h2v1h-2zM616 353h1v1h-1zM621 353h1v1h-1z" fill="rgb(110,110,110)"/><path d="M606 228h1v1h-1zM583 232h1v1h-1zM592 233h1v1h-1zM594 237h1v1h-1zM599 238h1v1h-1zM592 240h1v1h-1zM615 246h1v1h-1zM596 249h1v1h-1zM600 252h1v1h-1zM613 254h1v1h-1zM563 255h1v1h-1zM594 257h1v1h-1zM604 259h1v1h-1zM615 259h1v1h-1zM593 260h1v1h-1zM616 260h1v1h-1zM602 261h1v1h-1zM597 262h1v1h-1zM622 265h1v1h-1zM566 266h1v1h-1zM601 266h1v1h-1zM611 273h1v1h-1zM598 275h1v1h-1zM604 277h1v1h-1zM609 278h1v1h-1zM611 279h1v1h-1zM601 287h1v1h-1zM570 288h1v1h-1zM614 292h1v1h-1zM588 296h1v1h-1zM605 297h1v1h-1zM615 297h1v1h-1zM597 298h1v1h-1zM584 305h1v1h-1zM592 308h1v1h-1zM584 309h1v1h-1zM597 313h1v1h-1zM594 314h1v1h-1zM590 316h1v1h-1zM611 316h1v1h-1zM575 317h1v1h-1zM611 317h1v1h-1zM601 318h1v1h-1zM603 318h1v1h-1zM595 319h1v1h-1zM622 319h1v1h-1zM596 321h1v1h-1zM602 321h1v1h-1zM608 321h1v1h-1zM622 321h1v1h-1zM584 322h1v1h-1zM591 323h1v1h-1zM611 324h1v1h-1zM613 324h1v1h-1zM578 325h1v1h-1zM615 325h1v1h-1zM603 326h1v1h-1zM612 326h1v1h-1zM614 326h1v1h-1zM591 327h1v1h-1zM595 327h1v1h-1zM602 327h1v1h-1zM612 327h1v1h-1zM616 327h1v1h-1zM576 328h1v1h-1zM602 328h1v1h-1zM616 329h1v1h-1zM588 330h1v1h-1zM594 330h1v1h-1zM603 330h1v1h-1zM611 330h1v1h-1zM615 330h1v1h-1zM617 330h1v1h-1zM600 331h1v1h-1zM605 331h1v1h-1zM610 331h1v1h-1zM600 332h1v1h-1zM583 333h1v1h-1zM600 333h3v1h-3zM610 333h1v1h-1zM593 334h1v1h-1zM603 334h4v1h-4zM615 334h1v1h-1zM593 335h2v1h-2zM596 335h2v1h-2zM606 335h2v1h-2zM591 336h1v1h-1zM593 336h1v1h-1zM602 336h1v1h-1zM609 336h1v1h-1zM619 336h1v1h-1zM565 337h1v1h-1zM573 337h1v1h-1zM600 337h1v1h-1zM602 337h1v1h-1zM609 337h1v1h-1zM623 337h1v1h-1zM576 338h1v1h-1zM586 338h1v1h-1zM609 338h1v1h-1zM612 338h1v1h-1zM614 338h1v1h-1zM581 339h1v1h-1zM585 339h1v1h-1zM591 339h1v1h-1zM609 339h1v1h-1zM622 339h2v1h-2zM591 340h1v1h-1zM618 340h1v1h-1zM620 340h1v1h-1zM588 341h2v1h-2zM608 341h1v1h-1zM584 342h1v1h-1zM587 342h1v1h-1zM607 342h1v1h-1zM609 342h1v1h-1zM613 342h1v1h-1zM615 342h1v1h-1zM554 343h1v1h-1zM568 343h1v1h-1zM582 343h1v1h-1zM585 343h3v1h-3zM610 343h1v1h-1zM615 343h1v1h-1zM617 343h1v1h-1zM581 344h1v1h-1zM584 344h1v1h-1zM580 345h2v1h-2zM583 345h1v1h-1zM610 345h1v1h-1zM614 345h1v1h-1zM617 345h1v1h-1zM575 346h1v1h-1zM611 346h1v1h-1zM614 346h1v1h-1zM554 347h1v1h-1zM568 347h1v1h-1zM576 347h1v1h-1zM579 347h2v1h-2zM559 348h1v1h-1zM570 348h1v1h-1zM572 348h1v1h-1zM578 348h1v1h-1zM612 348h1v1h-1zM617 348h1v1h-1zM624 348h1v1h-1zM571 349h2v1h-2zM551 350h1v1h-1zM561 350h1v1h-1zM563 350h1v1h-1zM567 350h1v1h-1zM571 350h1v1h-1zM550 351h1v1h-1zM553 351h1v1h-1zM561 351h1v1h-1zM570 351h1v1h-1zM612 351h1v1h-1zM547 352h1v1h-1zM616 352h1v1h-1zM622 352h1v1h-1zM544 353h1v1h-1zM551 353h1v1h-1zM615 353h1v1h-1z" fill="rgb(50,50,50)"/><path d="M592 241h1v1h-1zM586 242h1v1h-1zM571 243h1v1h-1zM606 249h1v1h-1zM622 254h1v1h-1zM578 268h1v1h-1zM594 277h1v1h-1zM566 282h1v1h-1zM588 286h1v1h-1zM611 294h1v1h-1zM588 298h1v1h-1zM602 299h1v1h-1zM606 299h1v1h-1zM616 299h1v1h-1zM617 302h1v1h-1zM623 307h1v1h-1zM607 308h1v1h-1zM574 310h1v1h-1zM608 312h1v1h-1zM593 314h1v1h-1zM595 314h1v1h-1zM602 316h1v1h-1zM598 317h1v1h-1zM607 323h1v1h-1zM572 325h1v1h-1zM605 325h1v1h-1zM596 326h1v1h-1zM613 326h1v1h-1zM586 328h1v1h-1zM591 329h1v1h-1zM614 329h1v1h-1zM573 330h1v1h-1zM601 330h1v1h-1zM604 330h1v1h-1zM591 331h1v1h-1zM583 332h1v1h-1zM598 332h2v1h-2zM602 332h1v1h-1zM610 332h1v1h-1zM615 332h1v1h-1zM586 333h1v1h-1zM595 333h1v1h-1zM616 333h1v1h-1zM592 334h1v1h-1zM595 334h1v1h-1zM614 334h1v1h-1zM574 335h1v1h-1zM603 335h1v1h-1zM595 336h3v1h-3zM599 336h1v1h-1zM608 336h1v1h-1zM595 337h3v1h-3zM603 337h1v1h-1zM606 337h1v1h-1zM587 338h1v1h-1zM591 338h3v1h-3zM595 338h7v1h-7zM605 338h1v1h-1zM588 339h1v1h-1zM594 339h3v1h-3zM599 339h2v1h-2zM602 339h5v1h-5zM579 340h1v1h-1zM582 340h1v1h-1zM592 340h14v1h-14zM611 340h1v1h-1zM617 340h1v1h-1zM586 341h1v1h-1zM590 341h5v1h-5zM596 341h11v1h-11zM589 342h18v1h-18zM589 343h19v1h-19zM609 343h1v1h-1zM613 343h1v1h-1zM616 343h1v1h-1zM621 343h1v1h-1zM624 343h1v1h-1zM579 344h1v1h-1zM583 344h1v1h-1zM586 344h1v1h-1zM588 344h22v1h-22zM584 345h26v1h-26zM619 345h1v1h-1zM550 346h1v1h-1zM579 346h1v1h-1zM583 346h18v1h-18zM602 346h8v1h-8zM612 346h1v1h-1zM563 347h1v1h-1zM575 347h1v1h-1zM581 347h1v1h-1zM583 347h28v1h-28zM622 347h1v1h-1zM536 348h2v1h-2zM574 348h2v1h-2zM579 348h3v1h-3zM583 348h22v1h-22zM606 348h5v1h-5zM558 349h1v1h-1zM564 349h2v1h-2zM567 349h1v1h-1zM574 349h1v1h-1zM576 349h37v1h-37zM616 349h1v1h-1zM545 350h1v1h-1zM557 350h2v1h-2zM562 350h1v1h-1zM565 350h1v1h-1zM568 350h1v1h-1zM570 350h1v1h-1zM574 350h38v1h-38zM613 350h1v1h-1zM539 351h2v1h-2zM569 351h1v1h-1zM571 351h6v1h-6zM578 351h32v1h-32zM611 351h1v1h-1zM538 352h1v1h-1zM541 352h1v1h-1zM565 352h1v1h-1zM567 352h45v1h-45zM537 353h1v1h-1zM543 353h1v1h-1zM557 353h7v1h-7zM565 353h47v1h-47z" fill="rgb(0,0,0)"/><path d="M632 246h1v1h-1zM626 251h1v1h-1zM627 263h1v1h-1zM626 312h1v1h-1z" fill="rgb(255,175,175)"/><path d="M629 304h1v1h-1z" fill="rgb(255,120,120)"/><path d="M626 255h1v1h-1zM633 327h1v1h-1z" fill="rgb(255,60,60)"/><path d="M532.5 214.5H676" stroke="#333" stroke-width="1"/><path d="M535.5 214V358" stroke="#333" stroke-width="1"/><path d="M675.5 214V358" stroke="#444" stroke-width="1.1"/><path d="M535 355.1H677" stroke="#777" stroke-width="1"/><path d="M533.5 354.5H535M533.5 347.0H535M533.5 339.6H535M533.5 332.1H535M533.5 324.6H535M533.5 317.1H535M533.5 309.7H535M533.5 302.2H535M533.5 294.7H535M533.5 287.3H535M533.5 279.8H535M533.5 272.3H535M533.5 264.8H535M533.5 257.4H535M533.5 249.9H535M533.5 242.4H535M533.5 234.9H535M533.5 227.5H535M533.5 220.0H535M532 354.5H535M532 317.1H535M532 279.8H535M532 242.4H535M532 214.4H535" stroke="#333" stroke-width="0.8"/><text transform="translate(529.4,354.5) rotate(-90) scale(1,1.12)" font-size="7.3" text-anchor="middle" fill="#222">0</text><text transform="translate(529.4,317.1) rotate(-90) scale(1,1.12)" font-size="7.3" text-anchor="middle" fill="#222">0.4</text><text transform="translate(529.4,279.8) rotate(-90) scale(1,1.12)" font-size="7.3" text-anchor="middle" fill="#222">0.8</text><text transform="translate(529.4,242.4) rotate(-90) scale(1,1.12)" font-size="7.3" text-anchor="middle" fill="#222">1.2</text><text transform="translate(529.4,214.4) rotate(-90) scale(1,1.12)" font-size="7.3" text-anchor="middle" fill="#222">1.5</text><text transform="translate(515.1,309.4) rotate(-90)" font-size="7.65" fill="#222">SSC-H (<tspan dx="0.8">10</tspan><tspan font-size="6.6" dx="1.1" dy="-3.6">6</tspan><tspan dx="1.6" dy="3.6">)</tspan></text><path d="M535.0 355v3M540.9 355v1.5M544.3 355v1.5M546.8 355v1.5M548.7 355v1.5M550.2 355v1.5M551.5 355v1.5M552.7 355v1.5M553.7 355v1.5M554.6 355v3M560.5 355v1.5M563.9 355v1.5M566.4 355v1.5M568.3 355v1.5M569.8 355v1.5M571.1 355v1.5M572.3 355v1.5M573.3 355v1.5M574.2 355v3M580.1 355v1.5M583.5 355v1.5M586.0 355v1.5M587.9 355v1.5M589.4 355v1.5M590.7 355v1.5M591.9 355v1.5M592.9 355v1.5M593.8 355v3M599.6 355v1.5M603.1 355v1.5M605.5 355v1.5M607.4 355v1.5M609.0 355v1.5M610.3 355v1.5M611.4 355v1.5M612.4 355v1.5M613.3 355v3M619.2 355v1.5M622.7 355v1.5M625.1 355v1.5M627.0 355v1.5M628.6 355v1.5M629.9 355v1.5M631.0 355v1.5M632.0 355v1.5M632.9 355v3M638.8 355v1.5M642.3 355v1.5M644.7 355v1.5M646.6 355v1.5M648.2 355v1.5M649.5 355v1.5M650.6 355v1.5M651.6 355v1.5M652.5 355v3M658.4 355v1.5M661.8 355v1.5M664.3 355v1.5M666.2 355v1.5M667.7 355v1.5M669.0 355v1.5M670.2 355v1.5M671.2 355v1.5M672.1 355v3M676.0 355v3" stroke="#333" stroke-width="0.7"/><text x="537.0" y="368" font-size="7.7" text-anchor="middle" fill="#222">10<tspan font-size="6.3" dx="1.3" dy="-3.9">0</tspan></text><text x="574.7" y="368" font-size="7.7" text-anchor="middle" fill="#222">10<tspan font-size="6.3" dx="1.3" dy="-3.9">2</tspan></text><text x="613.3" y="368" font-size="7.7" text-anchor="middle" fill="#222">10<tspan font-size="6.3" dx="1.3" dy="-3.9">4</tspan></text><text x="652.0" y="368" font-size="7.7" text-anchor="middle" fill="#222">10<tspan font-size="6.3" dx="1.3" dy="-3.9">6</tspan></text><text x="674.5" y="368" font-size="7.7" text-anchor="middle" fill="#222">10<tspan font-size="6.3" dx="1.3" dy="-3.9">7.2</tspan></text><text x="605.5" y="380" font-size="7.5" text-anchor="middle" fill="#222">IgE-PE-A</text><rect x="624.8" y="232.5" width="48.5" height="121" fill="none" stroke="#ff2020" stroke-width="1.05"/><text transform="translate(634.3,254.9) scale(0.9,1)" font-size="8.3" fill="#ff1a1a">R1</text><text transform="translate(634.3,263.7) scale(0.9,1)" font-size="8.3" fill="#ff1a1a">0.03%</text>
<text x="44.6" y="16.6" font-size="23.5" text-anchor="start" font-weight="normal" fill="#000" >A</text><text x="202.0" y="15.9" font-size="17.5" text-anchor="start" font-weight="normal" fill="#000" >Blank</text><text x="390.4" y="15.8" font-size="17.5" text-anchor="start" font-weight="normal" fill="#000" >WBC</text><text x="522.1" y="15.5" font-size="17.5" text-anchor="start" font-weight="normal" fill="#000" >LS Treated WBC</text><text x="-0.2" y="108.2" font-size="17.4" text-anchor="start" font-weight="normal" fill="#000" >Allergic patients</text><text x="7.7" y="275.8" font-size="17.4" text-anchor="start" font-weight="normal" fill="#000" >Healthy people</text><text x="47.4" y="429.5" font-size="23.5" text-anchor="start" font-weight="normal" fill="#000" >B</text><text x="392.6" y="429.2" font-size="23.5" text-anchor="start" font-weight="normal" fill="#000" >C</text>
<path d="M143.1 452.8V604.3" stroke="#555" stroke-width="1.4" fill="none"/><path d="M143 604.3H355.5" stroke="#222" stroke-width="1.1" fill="none"/>
<path d="M140.3 603.8H143.3M140.3 578.7H143.3M140.3 553.6H143.3M140.3 528.5H143.3M140.3 503.4H143.3M140.3 478.3H143.3M140.3 453.2H143.3M171.3 604.3v2.6M228.2 604.3v2.6M285.0 604.3v2.6M341.5 604.3v2.6" stroke="#222" stroke-width="1"/>
<text x="139.6" y="606.3" font-size="7" font-weight="bold" text-anchor="end" fill="#222">0.0</text>
<text x="139.6" y="581.2" font-size="7" font-weight="bold" text-anchor="end" fill="#222">0.5</text>
<text x="139.6" y="556.1" font-size="7" font-weight="bold" text-anchor="end" fill="#222">1.0</text>
<text x="139.6" y="531.0" font-size="7" font-weight="bold" text-anchor="end" fill="#222">1.5</text>
<text x="139.6" y="505.9" font-size="7" font-weight="bold" text-anchor="end" fill="#222">2.0</text>
<text x="139.6" y="480.8" font-size="7" font-weight="bold" text-anchor="end" fill="#222">2.5</text>
<text x="139.6" y="455.7" font-size="7" font-weight="bold" text-anchor="end" fill="#222">3.0</text>
<text transform="translate(128.9,529.1) rotate(-90)" font-size="11.5" font-weight="bold" text-anchor="middle">IgE positive cells (%)</text>
<path d="M170.8 434.9H286.1M170.8 431.2V439.4M286.1 431.2V439.4" stroke="#111" stroke-width="2" fill="none"/>
<text x="228.4" y="427.8" font-size="9" text-anchor="middle" fill="#222">p&lt;0.01</text>
<text transform="translate(174.35000000000002,615.25) rotate(-45)" font-size="12" font-weight="bold" text-anchor="end">Allergic patients</text>
<text transform="translate(231.25,615.25) rotate(-45)" font-size="12" font-weight="bold" text-anchor="end">Allergic patients-LS Treated</text>
<text transform="translate(288.05,615.25) rotate(-45)" font-size="12" font-weight="bold" text-anchor="end">Healthy people</text>
<text transform="translate(344.55,615.25) rotate(-45)" font-size="12" font-weight="bold" text-anchor="end">Healthy people-LS Treated</text>
<g fill="#000"><circle cx="171.3" cy="454.1" r="2.05"/><circle cx="171.3" cy="470.3" r="2.05"/><circle cx="177.0" cy="477.8" r="2.05"/><circle cx="165.7" cy="480.8" r="2.05"/><circle cx="171.3" cy="482.4" r="2.05"/><circle cx="162.7" cy="487.9" r="2.05"/><circle cx="168.4" cy="488.5" r="2.05"/><circle cx="174.1" cy="487.9" r="2.05"/><circle cx="179.9" cy="486.4" r="2.05"/><circle cx="157.3" cy="495.7" r="2.05"/><circle cx="182.7" cy="494.4" r="2.05"/><circle cx="154.3" cy="500.0" r="2.05"/><circle cx="160.0" cy="500.6" r="2.05"/><circle cx="165.8" cy="498.0" r="2.05"/><circle cx="171.4" cy="498.0" r="2.05"/><circle cx="177.1" cy="496.7" r="2.05"/><circle cx="179.9" cy="500.6" r="2.05"/><circle cx="185.5" cy="499.9" r="2.05"/><circle cx="174.2" cy="502.0" r="2.05"/><circle cx="157.0" cy="505.9" r="2.05"/><circle cx="162.7" cy="506.1" r="2.05"/><circle cx="165.8" cy="504.2" r="2.05"/><circle cx="185.5" cy="505.7" r="2.05"/><circle cx="168.4" cy="509.1" r="2.05"/><circle cx="174.2" cy="510.6" r="2.05"/><circle cx="179.9" cy="509.0" r="2.05"/><circle cx="183.0" cy="511.5" r="2.05"/><circle cx="188.1" cy="511.2" r="2.05"/><circle cx="154.7" cy="511.5" r="2.05"/><circle cx="159.5" cy="514.6" r="2.05"/><circle cx="164.2" cy="516.1" r="2.05"/><circle cx="168.7" cy="516.6" r="2.05"/><circle cx="173.8" cy="515.9" r="2.05"/><circle cx="178.4" cy="515.9" r="2.05"/><circle cx="154.6" cy="520.2" r="2.05"/><circle cx="157.9" cy="520.8" r="2.05"/><circle cx="161.1" cy="521.5" r="2.05"/><circle cx="164.4" cy="522.2" r="2.05"/><circle cx="167.1" cy="524.8" r="2.05"/><circle cx="169.7" cy="525.8" r="2.05"/><circle cx="173.6" cy="525.8" r="2.05"/><circle cx="175.6" cy="524.8" r="2.05"/><circle cx="178.9" cy="522.5" r="2.05"/><circle cx="182.2" cy="521.5" r="2.05"/><circle cx="185.5" cy="520.8" r="2.05"/><circle cx="188.4" cy="520.2" r="2.05"/><circle cx="154.3" cy="527.6" r="2.05"/><circle cx="188.4" cy="527.2" r="2.05"/><circle cx="158.1" cy="530.9" r="2.05"/><circle cx="161.9" cy="531.2" r="2.05"/><circle cx="165.8" cy="531.8" r="2.05"/><circle cx="169.5" cy="532.7" r="2.05"/><circle cx="173.8" cy="531.8" r="2.05"/><circle cx="177.1" cy="531.8" r="2.05"/><circle cx="180.9" cy="531.0" r="2.05"/><circle cx="184.6" cy="529.4" r="2.05"/><circle cx="154.3" cy="535.8" r="2.05"/><circle cx="158.1" cy="536.1" r="2.05"/><circle cx="161.9" cy="537.1" r="2.05"/><circle cx="165.8" cy="537.8" r="2.05"/><circle cx="174.2" cy="535.8" r="2.05"/><circle cx="182.6" cy="537.1" r="2.05"/><circle cx="186.5" cy="536.7" r="2.05"/><circle cx="178.8" cy="539.4" r="2.05"/><circle cx="165.7" cy="542.0" r="2.05"/><circle cx="169.5" cy="540.8" r="2.05"/><circle cx="173.5" cy="541.3" r="2.05"/><circle cx="177.1" cy="542.4" r="2.05"/><circle cx="171.3" cy="547.4" r="2.05"/><circle cx="155.2" cy="553.0" r="2.05"/><circle cx="160.5" cy="553.0" r="2.05"/><circle cx="166.0" cy="555.0" r="2.05"/><circle cx="171.3" cy="555.0" r="2.05"/><circle cx="176.6" cy="554.5" r="2.05"/><circle cx="182.1" cy="553.0" r="2.05"/><circle cx="187.3" cy="553.0" r="2.05"/><circle cx="171.3" cy="565.0" r="2.05"/><circle cx="171.3" cy="572.0" r="2.05"/><circle cx="174.2" cy="576.0" r="2.05"/><circle cx="168.5" cy="578.3" r="2.05"/><circle cx="154.3" cy="520.3" r="2.05"/><circle cx="155.7" cy="520.5" r="2.05"/><circle cx="157.2" cy="520.8" r="2.05"/><circle cx="158.6" cy="521.0" r="2.05"/><circle cx="160.0" cy="521.2" r="2.05"/><circle cx="161.1" cy="521.6" r="2.05"/><circle cx="162.2" cy="521.9" r="2.05"/><circle cx="163.4" cy="522.2" r="2.05"/><circle cx="164.5" cy="522.6" r="2.05"/><circle cx="165.5" cy="523.3" r="2.05"/><circle cx="166.5" cy="523.9" r="2.05"/><circle cx="167.5" cy="524.6" r="2.05"/><circle cx="169.0" cy="525.2" r="2.05"/><circle cx="170.5" cy="525.8" r="2.05"/><circle cx="172.0" cy="525.8" r="2.05"/><circle cx="173.5" cy="525.8" r="2.05"/><circle cx="174.8" cy="525.2" r="2.05"/><circle cx="176.2" cy="524.6" r="2.05"/><circle cx="177.1" cy="523.9" r="2.05"/><circle cx="178.1" cy="523.3" r="2.05"/><circle cx="179.0" cy="522.6" r="2.05"/><circle cx="180.1" cy="522.2" r="2.05"/><circle cx="181.2" cy="521.9" r="2.05"/><circle cx="182.4" cy="521.6" r="2.05"/><circle cx="183.5" cy="521.2" r="2.05"/><circle cx="184.8" cy="521.0" r="2.05"/><circle cx="186.1" cy="520.8" r="2.05"/><circle cx="187.3" cy="520.5" r="2.05"/><circle cx="188.6" cy="520.3" r="2.05"/></g>
<g fill="#000"><rect x="217.6" y="594.7" width="3.6" height="3.6"/><rect x="225.8" y="595.7" width="3.6" height="3.6"/><rect x="234.8" y="594.4" width="3.6" height="3.6"/><rect x="208.9" y="598.0" width="3.6" height="3.6"/><rect x="210.6" y="598.3" width="3.6" height="3.6"/><rect x="212.4" y="598.5" width="3.6" height="3.6"/><rect x="214.1" y="598.8" width="3.6" height="3.6"/><rect x="215.9" y="599.1" width="3.6" height="3.6"/><rect x="217.6" y="599.4" width="3.6" height="3.6"/><rect x="219.4" y="599.6" width="3.6" height="3.6"/><rect x="221.1" y="599.9" width="3.6" height="3.6"/><rect x="222.9" y="600.2" width="3.6" height="3.6"/><rect x="224.6" y="600.4" width="3.6" height="3.6"/><rect x="226.4" y="600.7" width="3.6" height="3.6"/><rect x="228.1" y="600.4" width="3.6" height="3.6"/><rect x="229.9" y="600.2" width="3.6" height="3.6"/><rect x="231.6" y="599.9" width="3.6" height="3.6"/><rect x="233.4" y="599.6" width="3.6" height="3.6"/><rect x="235.1" y="599.4" width="3.6" height="3.6"/><rect x="236.9" y="599.1" width="3.6" height="3.6"/><rect x="238.6" y="598.8" width="3.6" height="3.6"/><rect x="240.4" y="598.5" width="3.6" height="3.6"/><rect x="242.1" y="598.3" width="3.6" height="3.6"/><rect x="243.9" y="598.0" width="3.6" height="3.6"/><rect x="214.4" y="599.7" width="3.6" height="3.6"/><rect x="216.4" y="600.1" width="3.6" height="3.6"/><rect x="218.4" y="600.5" width="3.6" height="3.6"/><rect x="220.4" y="601.0" width="3.6" height="3.6"/><rect x="222.4" y="601.4" width="3.6" height="3.6"/><rect x="224.4" y="601.8" width="3.6" height="3.6"/><rect x="226.4" y="602.2" width="3.6" height="3.6"/><rect x="228.4" y="601.8" width="3.6" height="3.6"/><rect x="230.4" y="601.4" width="3.6" height="3.6"/><rect x="232.4" y="601.0" width="3.6" height="3.6"/><rect x="234.4" y="600.5" width="3.6" height="3.6"/><rect x="236.4" y="600.1" width="3.6" height="3.6"/><rect x="238.4" y="599.7" width="3.6" height="3.6"/></g>
<g fill="#000"><path d="M279.3 548.8L281.5 552.8H277.1z"/><path d="M290.7 550.7L292.9 554.7H288.5z"/><path d="M285.0 552.9L287.2 556.9H282.8z"/><path d="M285.0 559.7L287.2 563.7H282.8z"/><path d="M279.3 570.9L281.5 574.9H277.1z"/><path d="M285.0 573.1L287.2 577.1H282.8z"/><path d="M290.7 571.4L292.9 575.4H288.5z"/><path d="M296.4 574.5L298.6 578.5H294.2z"/><path d="M273.3 578.1L275.5 582.1H271.1z"/><path d="M278.8 580.1L281.0 584.1H276.6z"/><path d="M284.7 580.1L286.9 584.1H282.5z"/><path d="M290.6 580.1L292.8 584.1H288.4z"/><path d="M281.4 584.6L283.6 588.6H279.2z"/><path d="M289.0 584.3L291.2 588.3H286.8z"/><path d="M269.2 596.1L271.4 600.1H267.0z"/><path d="M271.9 596.1L274.1 600.1H269.7z"/><path d="M297.2 596.5L299.4 600.5H295.0z"/><path d="M299.8 596.5L302.0 600.5H297.6z"/><path d="M302.4 596.5L304.6 600.5H300.2z"/><path d="M267.0 585.3L269.2 589.3H264.8z"/><path d="M268.5 585.6L270.7 589.6H266.3z"/><path d="M270.0 585.9L272.2 589.8H267.8z"/><path d="M271.5 586.1L273.7 590.1H269.3z"/><path d="M273.0 586.4L275.2 590.4H270.8z"/><path d="M274.4 586.8L276.6 590.8H272.2z"/><path d="M275.9 587.3L278.1 591.2H273.7z"/><path d="M277.4 587.7L279.6 591.7H275.2z"/><path d="M278.8 588.1L281.0 592.1H276.6z"/><path d="M302.4 585.0L304.6 589.0H300.2z"/><path d="M301.0 585.3L303.2 589.3H298.8z"/><path d="M299.7 585.6L301.9 589.6H297.5z"/><path d="M298.4 585.9L300.6 589.9H296.2z"/><path d="M297.0 586.2L299.2 590.2H294.8z"/><path d="M295.6 586.6L297.8 590.6H293.4z"/><path d="M294.1 587.0L296.3 591.0H291.9z"/><path d="M292.7 587.4L294.9 591.4H290.5z"/><path d="M291.3 587.8L293.5 591.8H289.1z"/><path d="M266.5 590.6L268.7 594.6H264.3z"/><path d="M267.9 590.9L270.1 594.9H265.7z"/><path d="M269.2 591.2L271.4 595.2H267.1z"/><path d="M270.6 591.5L272.8 595.5H268.4z"/><path d="M272.0 591.8L274.2 595.8H269.8z"/><path d="M273.5 592.4L275.7 596.4H271.3z"/><path d="M275.0 593.0L277.2 596.9H272.8z"/><path d="M276.5 593.5L278.7 597.5H274.3z"/><path d="M278.0 594.1L280.2 598.1H275.8z"/><path d="M279.3 594.4L281.5 598.3H277.1z"/><path d="M280.7 594.6L282.9 598.6H278.5z"/><path d="M282.0 594.9L284.2 598.9H279.8z"/><path d="M283.4 595.2L285.6 599.1H281.2z"/><path d="M284.7 595.4L286.9 599.4H282.5z"/><path d="M286.3 595.1L288.5 599.1H284.1z"/><path d="M287.9 594.8L290.1 598.7H285.7z"/><path d="M289.4 594.4L291.6 598.4H287.2z"/><path d="M291.0 594.1L293.2 598.1H288.8z"/><path d="M292.5 593.5L294.7 597.5H290.3z"/><path d="M294.0 593.0L296.2 596.9H291.8z"/><path d="M295.5 592.4L297.7 596.4H293.3z"/><path d="M297.0 591.8L299.2 595.8H294.8z"/><path d="M298.6 591.5L300.8 595.5H296.4z"/><path d="M300.2 591.2L302.4 595.2H298.1z"/><path d="M301.9 590.9L304.1 594.9H299.7z"/><path d="M303.5 590.6L305.7 594.6H301.3z"/><path d="M268.0 588.8L270.2 592.8H265.8z"/><path d="M269.5 588.9L271.7 592.9H267.3z"/><path d="M271.0 589.1L273.2 593.0H268.8z"/><path d="M272.5 589.2L274.7 593.2H270.3z"/><path d="M274.0 589.3L276.2 593.3H271.8z"/><path d="M275.3 589.6L277.5 593.5H273.1z"/><path d="M276.7 589.9L278.9 593.8H274.5z"/><path d="M278.0 590.1L280.2 594.1H275.8z"/><path d="M302.0 588.8L304.2 592.8H299.8z"/><path d="M300.5 588.9L302.7 592.9H298.3z"/><path d="M299.0 589.1L301.2 593.0H296.8z"/><path d="M297.5 589.2L299.7 593.2H295.3z"/><path d="M296.0 589.3L298.2 593.3H293.8z"/><path d="M294.7 589.6L296.9 593.5H292.5z"/><path d="M293.3 589.9L295.5 593.8H291.1z"/><path d="M292.0 590.1L294.2 594.1H289.8z"/><path d="M278.0 599.3L280.2 603.3H275.8z"/><path d="M279.8 599.3L281.9 603.3H277.6z"/><path d="M281.5 599.3L283.7 603.3H279.3z"/><path d="M283.2 599.3L285.4 603.3H281.1z"/><path d="M285.0 599.3L287.2 603.3H282.8z"/><path d="M286.8 599.3L288.9 603.3H284.6z"/><path d="M288.5 599.3L290.7 603.3H286.3z"/><path d="M290.2 599.3L292.4 603.3H288.1z"/><path d="M292.0 599.3L294.2 603.3H289.8z"/></g>
<g fill="#000"><path d="M341.5 598.4L343.7 594.4H339.3z"/><path d="M325.0 600.4L327.2 596.4H322.8z"/><path d="M326.3 600.8L328.5 596.9H324.1z"/><path d="M327.7 601.2L329.9 597.3H325.5z"/><path d="M329.0 601.7L331.2 597.7H326.8z"/><path d="M330.3 602.3L332.5 598.3H328.1z"/><path d="M331.7 602.9L333.9 598.9H329.5z"/><path d="M333.0 603.5L335.2 599.5H330.8z"/><path d="M354.0 601.2L356.2 597.2H351.8z"/><path d="M352.5 601.9L354.7 598.0H350.3z"/><path d="M351.0 602.7L353.2 598.7H348.8z"/><path d="M333.0 604.4L335.2 600.4H330.8z"/><path d="M334.7 604.6L336.9 600.7H332.5z"/><path d="M336.4 604.9L338.6 600.9H334.2z"/><path d="M338.1 605.2L340.3 601.2H335.9z"/><path d="M339.8 605.4L342.0 601.5H337.6z"/><path d="M341.5 605.7L343.7 601.7H339.3z"/><path d="M343.2 605.4L345.4 601.5H341.0z"/><path d="M344.9 605.2L347.1 601.2H342.7z"/><path d="M346.6 604.9L348.8 600.9H344.4z"/><path d="M348.3 604.6L350.5 600.7H346.1z"/><path d="M350.0 604.4L352.2 600.4H347.8z"/></g>
<path d="M171.3 499.3V544.5M162.2 499.3H180.8M162.2 544.5H180.8" stroke="#ff0000" stroke-width="1.4" fill="none"/>
<path d="M152.3 521.8H189.9" stroke="#ff0000" stroke-opacity="0.6" stroke-width="2"/>
<rect x="218.7" y="600" width="18.9" height="4.8" fill="#ff0000" fill-opacity="0.9"/>
<path d="M209.5 602.4H246.9" stroke="#ff0000" stroke-opacity="0.7" stroke-width="1.2"/>
<path d="M285 581.6V600.6M275.5 581.6H294.2M275.5 600.6H294.2" stroke="#ff0000" stroke-width="1.4" fill="none"/>
<path d="M266 591.4H303.7" stroke="#ff0000" stroke-opacity="0.85" stroke-width="1.3"/>
<rect x="331.9" y="600.1" width="19.3" height="3.9" fill="#ff0000"/>
<path d="M323.1 601.6H355" stroke="#ff0000" stroke-opacity="0.8" stroke-width="1.2"/>
<path d="M449.6 442.5V598.6M449.3 598.6H648.3" stroke="#222" stroke-width="1.1" fill="none"/>
<path d="M446.6 598.4H449.6M446.6 559.5H449.6M446.6 520.6H449.6M446.6 481.7H449.6M446.6 442.8H449.6M474.3 598.6v2.6M523.8 598.6v2.6M573.4 598.6v2.6M622.9 598.6v2.6" stroke="#222" stroke-width="1"/>
<text x="446.2" y="600.8" font-size="6.6" font-weight="bold" text-anchor="end" fill="#222">0</text>
<text x="446.2" y="561.9" font-size="6.6" font-weight="bold" text-anchor="end" fill="#222">250</text>
<text x="446.2" y="523.0" font-size="6.6" font-weight="bold" text-anchor="end" fill="#222">500</text>
<text x="446.2" y="484.1" font-size="6.6" font-weight="bold" text-anchor="end" fill="#222">750</text>
<text x="446.2" y="445.2" font-size="6.6" font-weight="bold" text-anchor="end" fill="#222">1000</text>
<text transform="translate(425.3,520.7) rotate(-90)" font-size="11" font-weight="bold" text-anchor="middle">IgE (ng/mL)</text>
<path d="M471.6 457.6H523.8M471.6 453.6V461.4M523.8 453.6V461.4" stroke="#111" stroke-width="1.8" fill="none"/>
<text x="499.3" y="450" font-size="8.5" text-anchor="middle" fill="#222">p&lt;0.01</text>
<path d="M573.5 514H622.9M573.5 510V517.8M622.9 510V517.8" stroke="#111" stroke-width="1.8" fill="none"/>
<text x="596.3" y="505.9" font-size="8.5" text-anchor="middle" fill="#222">p&lt;0.01</text>
<text transform="translate(474.90000000000003,612.3) rotate(-45)" font-size="11.4" font-weight="bold" text-anchor="end">Allergic patients plasma IgE</text>
<text transform="translate(524.4,612.3) rotate(-45)" font-size="11.4" font-weight="bold" text-anchor="end">Allergic patients cell-bound IgE</text>
<text transform="translate(574.0,612.3) rotate(-45)" font-size="11.4" font-weight="bold" text-anchor="end">Healthy people plasma IgE</text>
<text transform="translate(623.5,612.3) rotate(-45)" font-size="11.4" font-weight="bold" text-anchor="end">Healthy people cell-bound IgE</text>
<g fill="#000"><circle cx="471.4" cy="488.5" r="1.75"/><circle cx="476.9" cy="489.9" r="1.75"/><circle cx="474.1" cy="504.2" r="1.75"/><circle cx="466.1" cy="506.7" r="1.75"/><circle cx="471.4" cy="508.9" r="1.75"/><circle cx="476.9" cy="511.2" r="1.75"/><circle cx="482.4" cy="508.3" r="1.75"/><circle cx="474.1" cy="517.1" r="1.75"/><circle cx="471.4" cy="527.8" r="1.75"/><circle cx="476.9" cy="529.7" r="1.75"/><circle cx="466.1" cy="539.3" r="1.75"/><circle cx="482.4" cy="538.0" r="1.75"/><circle cx="471.5" cy="543.2" r="1.75"/><circle cx="477.1" cy="543.2" r="1.75"/><circle cx="474.3" cy="549.0" r="1.75"/><circle cx="460.5" cy="552.2" r="1.75"/><circle cx="487.9" cy="551.4" r="1.75"/><circle cx="482.4" cy="553.1" r="1.75"/><circle cx="466.1" cy="555.1" r="1.75"/><circle cx="471.5" cy="556.5" r="1.75"/><circle cx="477.1" cy="556.0" r="1.75"/><circle cx="460.1" cy="559.0" r="1.75"/><circle cx="488.2" cy="558.6" r="1.75"/><circle cx="464.8" cy="561.3" r="1.75"/><circle cx="469.6" cy="562.4" r="1.75"/><circle cx="474.3" cy="563.3" r="1.75"/><circle cx="479.0" cy="561.6" r="1.75"/><circle cx="483.6" cy="560.7" r="1.75"/><circle cx="460.1" cy="590.0" r="1.75"/><circle cx="464.6" cy="591.5" r="1.75"/><circle cx="469.3" cy="593.2" r="1.75"/><circle cx="474.2" cy="595.4" r="1.75"/><circle cx="478.8" cy="593.2" r="1.75"/><circle cx="483.6" cy="592.4" r="1.75"/><circle cx="488.3" cy="590.6" r="1.75"/><circle cx="458.5" cy="566.3" r="1.75"/><circle cx="460.5" cy="566.8" r="1.75"/><circle cx="462.4" cy="567.3" r="1.75"/><circle cx="464.4" cy="567.9" r="1.75"/><circle cx="466.4" cy="568.4" r="1.75"/><circle cx="468.4" cy="568.9" r="1.75"/><circle cx="470.4" cy="569.5" r="1.75"/><circle cx="472.3" cy="570.0" r="1.75"/><circle cx="474.3" cy="570.5" r="1.75"/><circle cx="476.3" cy="570.0" r="1.75"/><circle cx="478.2" cy="569.5" r="1.75"/><circle cx="480.2" cy="568.9" r="1.75"/><circle cx="482.2" cy="568.4" r="1.75"/><circle cx="484.2" cy="567.9" r="1.75"/><circle cx="486.2" cy="567.3" r="1.75"/><circle cx="488.1" cy="566.8" r="1.75"/><circle cx="490.1" cy="566.3" r="1.75"/><circle cx="472.5" cy="570.5" r="1.75"/><circle cx="472.5" cy="571.7" r="1.75"/><circle cx="472.5" cy="572.8" r="1.75"/><circle cx="472.5" cy="574.0" r="1.75"/><circle cx="476.1" cy="570.5" r="1.75"/><circle cx="476.1" cy="571.7" r="1.75"/><circle cx="476.1" cy="572.8" r="1.75"/><circle cx="476.1" cy="574.0" r="1.75"/><circle cx="461.3" cy="573.9" r="1.75"/><circle cx="463.2" cy="574.3" r="1.75"/><circle cx="465.0" cy="574.8" r="1.75"/><circle cx="466.9" cy="575.2" r="1.75"/><circle cx="468.7" cy="575.7" r="1.75"/><circle cx="470.6" cy="576.1" r="1.75"/><circle cx="472.4" cy="576.6" r="1.75"/><circle cx="474.3" cy="577.0" r="1.75"/><circle cx="476.2" cy="576.6" r="1.75"/><circle cx="478.0" cy="576.1" r="1.75"/><circle cx="479.9" cy="575.7" r="1.75"/><circle cx="481.7" cy="575.2" r="1.75"/><circle cx="483.6" cy="574.8" r="1.75"/><circle cx="485.4" cy="574.3" r="1.75"/><circle cx="487.3" cy="573.9" r="1.75"/><circle cx="461.3" cy="579.3" r="1.75"/><circle cx="463.2" cy="579.7" r="1.75"/><circle cx="465.0" cy="580.1" r="1.75"/><circle cx="466.9" cy="580.5" r="1.75"/><circle cx="468.7" cy="581.0" r="1.75"/><circle cx="470.6" cy="581.4" r="1.75"/><circle cx="472.4" cy="581.8" r="1.75"/><circle cx="474.3" cy="582.2" r="1.75"/><circle cx="476.2" cy="581.8" r="1.75"/><circle cx="478.0" cy="581.4" r="1.75"/><circle cx="479.9" cy="581.0" r="1.75"/><circle cx="481.7" cy="580.5" r="1.75"/><circle cx="483.6" cy="580.1" r="1.75"/><circle cx="485.4" cy="579.7" r="1.75"/><circle cx="487.3" cy="579.3" r="1.75"/><circle cx="460.3" cy="584.3" r="1.75"/><circle cx="462.3" cy="584.8" r="1.75"/><circle cx="464.3" cy="585.4" r="1.75"/><circle cx="466.3" cy="585.9" r="1.75"/><circle cx="468.3" cy="586.4" r="1.75"/><circle cx="470.3" cy="586.9" r="1.75"/><circle cx="472.3" cy="587.5" r="1.75"/><circle cx="474.3" cy="588.0" r="1.75"/><circle cx="476.3" cy="587.5" r="1.75"/><circle cx="478.3" cy="586.9" r="1.75"/><circle cx="480.3" cy="586.4" r="1.75"/><circle cx="482.3" cy="585.9" r="1.75"/><circle cx="484.3" cy="585.4" r="1.75"/><circle cx="486.3" cy="584.8" r="1.75"/><circle cx="488.3" cy="584.3" r="1.75"/></g>
<g fill="#000"><rect x="522.1" y="489.6" width="3.4" height="3.4"/><rect x="527.5" y="496.2" width="3.4" height="3.4"/><rect x="516.5" y="498.2" width="3.4" height="3.4"/><rect x="522.1" y="500.1" width="3.4" height="3.4"/><rect x="519.4" y="501.6" width="3.4" height="3.4"/><rect x="535.6" y="500.7" width="3.4" height="3.4"/><rect x="530.1" y="502.2" width="3.4" height="3.4"/><rect x="511.1" y="505.3" width="3.4" height="3.4"/><rect x="519.4" y="505.9" width="3.4" height="3.4"/><rect x="524.9" y="505.6" width="3.4" height="3.4"/><rect x="513.9" y="508.6" width="3.4" height="3.4"/><rect x="530.1" y="510.5" width="3.4" height="3.4"/><rect x="508.3" y="539.1" width="3.4" height="3.4"/><rect x="513.9" y="540.8" width="3.4" height="3.4"/><rect x="519.4" y="542.5" width="3.4" height="3.4"/><rect x="524.9" y="541.3" width="3.4" height="3.4"/><rect x="530.1" y="540.3" width="3.4" height="3.4"/><rect x="535.6" y="537.9" width="3.4" height="3.4"/><rect x="532.9" y="544.9" width="3.4" height="3.4"/><rect x="519.3" y="543.8" width="3.4" height="3.4"/><rect x="511.1" y="547.9" width="3.4" height="3.4"/><rect x="516.5" y="548.6" width="3.4" height="3.4"/><rect x="527.5" y="548.6" width="3.4" height="3.4"/><rect x="507.9" y="550.5" width="3.4" height="3.4"/><rect x="522.0" y="550.2" width="3.4" height="3.4"/><rect x="512.6" y="553.1" width="3.4" height="3.4"/><rect x="536.0" y="552.8" width="3.4" height="3.4"/><rect x="517.7" y="554.9" width="3.4" height="3.4"/><rect x="522.0" y="555.6" width="3.4" height="3.4"/><rect x="526.7" y="555.4" width="3.4" height="3.4"/><rect x="531.6" y="554.6" width="3.4" height="3.4"/><rect x="513.8" y="561.9" width="3.4" height="3.4"/><rect x="519.3" y="564.8" width="3.4" height="3.4"/><rect x="524.7" y="565.9" width="3.4" height="3.4"/><rect x="530.3" y="564.0" width="3.4" height="3.4"/><rect x="516.5" y="570.8" width="3.4" height="3.4"/><rect x="522.0" y="574.5" width="3.4" height="3.4"/><rect x="527.5" y="571.6" width="3.4" height="3.4"/><rect x="522.0" y="580.9" width="3.4" height="3.4"/><rect x="513.8" y="586.6" width="3.4" height="3.4"/><rect x="519.3" y="590.5" width="3.4" height="3.4"/><rect x="524.7" y="586.6" width="3.4" height="3.4"/><rect x="530.3" y="585.8" width="3.4" height="3.4"/><rect x="508.1" y="513.3" width="3.4" height="3.4"/><rect x="510.1" y="514.0" width="3.4" height="3.4"/><rect x="512.1" y="514.7" width="3.4" height="3.4"/><rect x="514.1" y="515.4" width="3.4" height="3.4"/><rect x="516.1" y="516.2" width="3.4" height="3.4"/><rect x="518.1" y="516.9" width="3.4" height="3.4"/><rect x="520.1" y="517.6" width="3.4" height="3.4"/><rect x="522.1" y="518.3" width="3.4" height="3.4"/><rect x="524.1" y="517.6" width="3.4" height="3.4"/><rect x="526.1" y="516.9" width="3.4" height="3.4"/><rect x="528.1" y="516.2" width="3.4" height="3.4"/><rect x="530.1" y="515.4" width="3.4" height="3.4"/><rect x="532.1" y="514.7" width="3.4" height="3.4"/><rect x="534.1" y="514.0" width="3.4" height="3.4"/><rect x="536.1" y="513.3" width="3.4" height="3.4"/><rect x="508.1" y="520.0" width="3.4" height="3.4"/><rect x="510.1" y="520.6" width="3.4" height="3.4"/><rect x="512.1" y="521.3" width="3.4" height="3.4"/><rect x="514.1" y="521.9" width="3.4" height="3.4"/><rect x="516.1" y="522.5" width="3.4" height="3.4"/><rect x="518.1" y="523.1" width="3.4" height="3.4"/><rect x="520.1" y="523.8" width="3.4" height="3.4"/><rect x="522.1" y="524.4" width="3.4" height="3.4"/><rect x="524.1" y="523.8" width="3.4" height="3.4"/><rect x="526.1" y="523.1" width="3.4" height="3.4"/><rect x="528.1" y="522.5" width="3.4" height="3.4"/><rect x="530.1" y="521.9" width="3.4" height="3.4"/><rect x="532.1" y="521.3" width="3.4" height="3.4"/><rect x="534.1" y="520.6" width="3.4" height="3.4"/><rect x="536.1" y="520.0" width="3.4" height="3.4"/><rect x="508.1" y="525.5" width="3.4" height="3.4"/><rect x="510.1" y="526.2" width="3.4" height="3.4"/><rect x="512.1" y="526.9" width="3.4" height="3.4"/><rect x="514.1" y="527.6" width="3.4" height="3.4"/><rect x="516.1" y="528.4" width="3.4" height="3.4"/><rect x="518.1" y="529.1" width="3.4" height="3.4"/><rect x="520.1" y="529.8" width="3.4" height="3.4"/><rect x="522.1" y="530.5" width="3.4" height="3.4"/><rect x="524.1" y="529.8" width="3.4" height="3.4"/><rect x="526.1" y="529.1" width="3.4" height="3.4"/><rect x="528.1" y="528.4" width="3.4" height="3.4"/><rect x="530.1" y="527.6" width="3.4" height="3.4"/><rect x="532.1" y="526.9" width="3.4" height="3.4"/><rect x="534.1" y="526.2" width="3.4" height="3.4"/><rect x="536.1" y="525.5" width="3.4" height="3.4"/><rect x="510.1" y="532.5" width="3.4" height="3.4"/><rect x="512.1" y="533.1" width="3.4" height="3.4"/><rect x="514.1" y="533.7" width="3.4" height="3.4"/><rect x="516.1" y="534.3" width="3.4" height="3.4"/><rect x="518.1" y="534.9" width="3.4" height="3.4"/><rect x="520.1" y="535.5" width="3.4" height="3.4"/><rect x="522.1" y="536.1" width="3.4" height="3.4"/><rect x="524.1" y="535.5" width="3.4" height="3.4"/><rect x="526.1" y="534.9" width="3.4" height="3.4"/><rect x="528.1" y="534.3" width="3.4" height="3.4"/><rect x="530.1" y="533.7" width="3.4" height="3.4"/><rect x="532.1" y="533.1" width="3.4" height="3.4"/><rect x="534.1" y="532.5" width="3.4" height="3.4"/></g>
<g fill="#000"><path d="M568.1 553.3L570.1 549.8H566.1z"/><path d="M573.4 556.0L575.4 552.5H571.4z"/><path d="M578.9 555.2L580.9 551.7H576.9z"/><path d="M573.4 568.6L575.4 565.1H571.4z"/><path d="M573.4 575.7L575.4 572.2H571.4z"/><path d="M565.3 578.2L567.2 574.7H563.3z"/><path d="M570.8 582.1L572.8 578.6H568.8z"/><path d="M576.3 581.8L578.2 578.3H574.3z"/><path d="M581.5 581.5L583.5 578.0H579.5z"/><path d="M559.1 582.4L561.1 578.9H557.1z"/><path d="M560.3 583.1L562.2 579.6H558.3z"/><path d="M561.5 583.8L563.4 580.3H559.5z"/><path d="M562.6 584.5L564.6 581.0H560.7z"/><path d="M563.8 585.2L565.8 581.7H561.9z"/><path d="M565.0 585.9L567.0 582.4H563.0z"/><path d="M566.3 586.8L568.2 583.2H564.3z"/><path d="M567.6 587.6L569.6 584.1H565.6z"/><path d="M568.9 588.4L570.9 584.9H567.0z"/><path d="M570.2 589.2L572.2 585.7H568.2z"/><path d="M588.6 583.0L590.6 579.5H586.6z"/><path d="M587.3 583.6L589.2 580.1H585.3z"/><path d="M586.0 584.2L587.9 580.7H584.0z"/><path d="M584.6 584.8L586.6 581.3H582.7z"/><path d="M583.3 585.4L585.3 581.8H581.4z"/><path d="M582.0 585.9L584.0 582.4H580.0z"/><path d="M580.9 586.6L582.8 583.1H578.9z"/><path d="M579.7 587.3L581.7 583.7H577.8z"/><path d="M578.6 587.9L580.5 584.4H576.6z"/><path d="M577.4 588.6L579.4 585.1H575.5z"/><path d="M576.3 589.2L578.2 585.7H574.3z"/><path d="M567.5 586.9L569.5 583.4H565.5z"/><path d="M567.5 588.2L569.5 584.7H565.5z"/><path d="M567.5 589.4L569.5 585.9H565.5z"/><path d="M567.5 590.7L569.5 587.2H565.5z"/><path d="M567.5 591.9L569.5 588.4H565.5z"/><path d="M571.0 586.9L573.0 583.4H569.0z"/><path d="M571.0 588.2L573.0 584.7H569.0z"/><path d="M571.0 589.4L573.0 585.9H569.0z"/><path d="M571.0 590.7L573.0 587.2H569.0z"/><path d="M571.0 591.9L573.0 588.4H569.0z"/><path d="M575.5 586.9L577.5 583.4H573.5z"/><path d="M575.5 588.2L577.5 584.7H573.5z"/><path d="M575.5 589.4L577.5 585.9H573.5z"/><path d="M575.5 590.7L577.5 587.2H573.5z"/><path d="M575.5 591.9L577.5 588.4H573.5z"/><path d="M579.0 586.9L581.0 583.4H577.0z"/><path d="M579.0 588.2L581.0 584.7H577.0z"/><path d="M579.0 589.4L581.0 585.9H577.0z"/><path d="M579.0 590.7L581.0 587.2H577.0z"/><path d="M579.0 591.9L581.0 588.4H577.0z"/><path d="M557.3 589.8L559.2 586.3H555.3z"/><path d="M558.6 590.1L560.6 586.5H556.7z"/><path d="M560.0 590.3L561.9 586.8H558.0z"/><path d="M561.3 590.5L563.3 587.0H559.4z"/><path d="M562.7 590.7L564.6 587.2H560.7z"/><path d="M564.0 590.9L566.0 587.4H562.0z"/><path d="M565.5 591.2L567.4 587.7H563.5z"/><path d="M567.0 591.5L568.9 587.9H565.0z"/><path d="M568.4 591.7L570.4 588.2H566.5z"/><path d="M569.9 592.0L571.9 588.5H568.0z"/><path d="M571.4 592.2L573.4 588.7H569.4z"/><path d="M589.8 590.1L591.8 586.6H587.8z"/><path d="M588.4 590.3L590.4 586.8H586.5z"/><path d="M587.1 590.5L589.0 586.9H585.1z"/><path d="M585.7 590.6L587.7 587.1H583.8z"/><path d="M584.4 590.8L586.3 587.3H582.4z"/><path d="M583.0 590.9L585.0 587.4H581.0z"/><path d="M581.6 591.2L583.6 587.7H579.6z"/><path d="M580.2 591.5L582.2 587.9H578.2z"/><path d="M578.8 591.7L580.8 588.2H576.8z"/><path d="M577.4 592.0L579.4 588.5H575.4z"/><path d="M576.0 592.2L578.0 588.7H574.0z"/><path d="M559.7 594.1L561.7 590.6H557.8z"/><path d="M561.0 594.6L562.9 591.1H559.0z"/><path d="M562.2 595.1L564.2 591.5H560.3z"/><path d="M563.5 595.5L565.4 592.0H561.5z"/><path d="M564.7 596.0L566.7 592.5H562.8z"/><path d="M566.0 596.4L568.0 592.9H564.0z"/><path d="M567.4 596.8L569.4 593.3H565.5z"/><path d="M568.9 597.2L570.8 593.7H566.9z"/><path d="M570.3 597.6L572.3 594.1H568.4z"/><path d="M571.8 598.0L573.7 594.4H569.8z"/><path d="M573.2 598.3L575.2 594.8H571.2z"/><path d="M574.6 598.0L576.5 594.4H572.6z"/><path d="M575.9 597.6L577.9 594.1H574.0z"/><path d="M577.3 597.2L579.2 593.7H575.3z"/><path d="M578.6 596.8L580.6 593.3H576.7z"/><path d="M580.0 596.4L582.0 592.9H578.0z"/><path d="M581.5 596.0L583.4 592.5H579.5z"/><path d="M582.9 595.5L584.9 592.0H581.0z"/><path d="M584.4 595.1L586.3 591.5H582.4z"/><path d="M585.8 594.6L587.8 591.1H583.9z"/><path d="M587.3 594.1L589.2 590.6H585.3z"/><path d="M562.0 596.4L564.0 592.9H560.0z"/><path d="M563.2 597.0L565.2 593.5H561.3z"/><path d="M564.5 597.6L566.5 594.1H562.5z"/><path d="M565.8 598.2L567.7 594.6H563.8z"/><path d="M567.0 598.7L569.0 595.2H565.0z"/><path d="M568.2 599.0L570.2 595.5H566.3z"/><path d="M569.5 599.3L571.4 595.8H567.5z"/><path d="M570.7 599.6L572.7 596.1H568.8z"/><path d="M572.0 599.9L573.9 596.3H570.0z"/><path d="M573.2 600.1L575.2 596.6H571.2z"/><path d="M574.7 599.8L576.6 596.3H572.7z"/><path d="M576.1 599.4L578.1 595.9H574.1z"/><path d="M577.5 599.1L579.5 595.6H575.6z"/><path d="M579.0 598.7L581.0 595.2H577.0z"/><path d="M580.2 598.3L582.2 594.8H578.2z"/><path d="M581.4 597.8L583.4 594.3H579.4z"/><path d="M582.6 597.4L584.6 593.8H580.6z"/><path d="M583.8 596.9L585.8 593.4H581.8z"/><path d="M585.0 596.4L587.0 592.9H583.0z"/><path d="M573.2 601.5L575.2 598.0H571.2z"/></g>
<g fill="#000"><path d="M620.2 551.0L622.2 554.5H618.2z"/><path d="M628.4 551.4L630.4 554.9H626.4z"/><path d="M625.8 556.8L627.8 560.3H623.8z"/><path d="M612.2 559.9L614.2 563.4H610.2z"/><path d="M620.2 559.5L622.2 563.0H618.2z"/><path d="M628.4 560.3L630.4 563.8H626.4z"/><path d="M636.4 559.5L638.4 563.0H634.4z"/><path d="M608.4 562.1L610.4 565.6H606.4z"/><path d="M610.2 562.5L612.2 566.0H608.3z"/><path d="M612.0 562.9L614.0 566.4H610.1z"/><path d="M613.8 563.3L615.8 566.8H611.9z"/><path d="M615.6 563.7L617.6 567.2H613.7z"/><path d="M617.5 564.1L619.4 567.6H615.5z"/><path d="M619.3 564.5L621.2 568.1H617.3z"/><path d="M621.1 565.0L623.0 568.5H619.1z"/><path d="M622.9 565.4L624.9 568.9H620.9z"/><path d="M624.7 565.0L626.7 568.5H622.8z"/><path d="M626.5 564.5L628.5 568.1H624.6z"/><path d="M628.3 564.1L630.3 567.6H626.4z"/><path d="M630.1 563.7L632.1 567.2H628.2z"/><path d="M632.0 563.3L633.9 566.8H630.0z"/><path d="M633.8 562.9L635.7 566.4H631.8z"/><path d="M635.6 562.5L637.5 566.0H633.6z"/><path d="M637.4 562.1L639.4 565.6H635.4z"/><path d="M607.9 567.7L609.9 571.2H605.9z"/><path d="M609.6 568.1L611.5 571.6H607.6z"/><path d="M611.2 568.6L613.2 572.1H609.3z"/><path d="M612.9 569.0L614.9 572.5H610.9z"/><path d="M614.6 569.4L616.5 573.0H612.6z"/><path d="M616.2 569.9L618.2 573.4H614.3z"/><path d="M617.9 570.3L619.9 573.8H615.9z"/><path d="M619.6 570.8L621.5 574.3H617.6z"/><path d="M621.2 571.2L623.2 574.7H619.3z"/><path d="M622.9 571.7L624.9 575.2H620.9z"/><path d="M624.6 571.2L626.5 574.7H622.6z"/><path d="M626.2 570.8L628.2 574.3H624.3z"/><path d="M627.9 570.3L629.9 573.8H625.9z"/><path d="M629.6 569.9L631.5 573.4H627.6z"/><path d="M631.2 569.4L633.2 573.0H629.3z"/><path d="M632.9 569.0L634.9 572.5H630.9z"/><path d="M634.6 568.6L636.5 572.1H632.6z"/><path d="M636.2 568.1L638.2 571.6H634.3z"/><path d="M637.9 567.7L639.9 571.2H635.9z"/><path d="M607.9 568.9L609.9 572.4H605.9z"/><path d="M609.6 569.3L611.5 572.8H607.6z"/><path d="M611.2 569.8L613.2 573.3H609.3z"/><path d="M612.9 570.2L614.9 573.7H610.9z"/><path d="M614.6 570.6L616.5 574.2H612.6z"/><path d="M616.2 571.1L618.2 574.6H614.3z"/><path d="M617.9 571.5L619.9 575.0H615.9z"/><path d="M619.6 572.0L621.5 575.5H617.6z"/><path d="M621.2 572.4L623.2 575.9H619.3z"/><path d="M622.9 572.9L624.9 576.4H620.9z"/><path d="M624.6 572.4L626.5 575.9H622.6z"/><path d="M626.2 572.0L628.2 575.5H624.3z"/><path d="M627.9 571.5L629.9 575.0H625.9z"/><path d="M629.6 571.1L631.5 574.6H627.6z"/><path d="M631.2 570.6L633.2 574.2H629.3z"/><path d="M632.9 570.2L634.9 573.7H630.9z"/><path d="M634.6 569.8L636.5 573.3H632.6z"/><path d="M636.2 569.3L638.2 572.8H634.3z"/><path d="M637.9 568.9L639.9 572.4H635.9z"/><path d="M607.9 574.5L609.9 578.0H605.9z"/><path d="M609.8 574.8L611.7 578.3H607.8z"/><path d="M611.6 575.2L613.6 578.7H609.7z"/><path d="M613.5 575.5L615.5 579.0H611.6z"/><path d="M615.4 575.9L617.4 579.4H613.4z"/><path d="M617.3 576.2L619.2 579.7H615.3z"/><path d="M619.1 576.6L621.1 580.1H617.2z"/><path d="M621.0 576.9L623.0 580.4H619.1z"/><path d="M622.9 577.3L624.9 580.8H620.9z"/><path d="M624.8 576.9L626.7 580.4H622.8z"/><path d="M626.6 576.6L628.6 580.1H624.7z"/><path d="M628.5 576.2L630.5 579.7H626.6z"/><path d="M630.4 575.9L632.4 579.4H628.4z"/><path d="M632.3 575.5L634.2 579.0H630.3z"/><path d="M634.1 575.2L636.1 578.7H632.2z"/><path d="M636.0 574.8L638.0 578.3H634.1z"/><path d="M637.9 574.5L639.9 578.0H635.9z"/><path d="M610.9 581.7L612.9 585.2H608.9z"/><path d="M612.4 582.1L614.4 585.6H610.4z"/><path d="M613.9 582.5L615.9 586.0H611.9z"/><path d="M615.4 582.9L617.4 586.5H613.4z"/><path d="M616.9 583.4L618.9 586.9H614.9z"/><path d="M618.4 583.8L620.4 587.3H616.4z"/><path d="M619.9 584.2L621.9 587.7H617.9z"/><path d="M621.4 584.6L623.4 588.2H619.4z"/><path d="M622.9 585.1L624.9 588.6H620.9z"/><path d="M624.4 584.6L626.4 588.2H622.4z"/><path d="M625.9 584.2L627.9 587.7H623.9z"/><path d="M627.4 583.8L629.4 587.3H625.4z"/><path d="M628.9 583.4L630.9 586.9H626.9z"/><path d="M630.4 582.9L632.4 586.5H628.4z"/><path d="M631.9 582.5L633.9 586.0H629.9z"/><path d="M633.4 582.1L635.4 585.6H631.4z"/><path d="M634.9 581.7L636.9 585.2H632.9z"/><path d="M607.9 586.6L609.9 590.1H605.9z"/><path d="M609.6 587.0L611.5 590.5H607.6z"/><path d="M611.2 587.4L613.2 590.9H609.3z"/><path d="M612.9 587.9L614.9 591.4H610.9z"/><path d="M614.6 588.3L616.5 591.8H612.6z"/><path d="M616.2 588.7L618.2 592.2H614.3z"/><path d="M617.9 589.2L619.9 592.7H615.9z"/><path d="M619.6 589.6L621.5 593.1H617.6z"/><path d="M621.2 590.0L623.2 593.5H619.3z"/><path d="M622.9 590.5L624.9 594.0H620.9z"/><path d="M624.6 590.0L626.5 593.5H622.6z"/><path d="M626.2 589.6L628.2 593.1H624.3z"/><path d="M627.9 589.2L629.9 592.7H625.9z"/><path d="M629.6 588.7L631.5 592.2H627.6z"/><path d="M631.2 588.3L633.2 591.8H629.3z"/><path d="M632.9 587.9L634.9 591.4H630.9z"/><path d="M634.6 587.4L636.5 590.9H632.6z"/><path d="M636.2 587.0L638.2 590.5H634.3z"/><path d="M637.9 586.6L639.9 590.1H635.9z"/><path d="M607.9 591.9L609.9 595.4H605.9z"/><path d="M609.6 592.3L611.5 595.8H607.6z"/><path d="M611.2 592.7L613.2 596.2H609.3z"/><path d="M612.9 593.1L614.9 596.6H610.9z"/><path d="M614.6 593.6L616.5 597.1H612.6z"/><path d="M616.2 594.0L618.2 597.5H614.3z"/><path d="M617.9 594.4L619.9 597.9H615.9z"/><path d="M619.6 594.8L621.5 598.3H617.6z"/><path d="M621.2 595.2L623.2 598.8H619.3z"/><path d="M622.9 595.7L624.9 599.2H620.9z"/><path d="M624.6 595.2L626.5 598.8H622.6z"/><path d="M626.2 594.8L628.2 598.3H624.3z"/><path d="M627.9 594.4L629.9 597.9H625.9z"/><path d="M629.6 594.0L631.5 597.5H627.6z"/><path d="M631.2 593.6L633.2 597.1H629.3z"/><path d="M632.9 593.1L634.9 596.6H630.9z"/><path d="M634.6 592.7L636.5 596.2H632.6z"/><path d="M636.2 592.3L638.2 595.8H634.3z"/><path d="M637.9 591.9L639.9 595.4H635.9z"/></g>
<path d="M474.3 541.4V590.2M466.1 541.4H482.5M466.1 590.2H482.5" stroke="#ff0000" stroke-opacity="0.9" stroke-width="1.1" fill="none"/>
<path d="M457.8 565.7H490.8" stroke="#ff0000" stroke-opacity="0.85" stroke-width="1.2"/>
<path d="M523.8 512.2V557.3M515.5999999999999 512.2H532.0M515.5999999999999 557.3H532.0" stroke="#ff0000" stroke-opacity="0.9" stroke-width="1.1" fill="none"/>
<path d="M507.29999999999995 534.6H540.3" stroke="#ff0000" stroke-opacity="0.85" stroke-width="1.2"/>
<path d="M573.4 584.1V598.6M565.1999999999999 584.1H581.6M565.1999999999999 598.6H581.6" stroke="#ff0000" stroke-opacity="0.9" stroke-width="1.1" fill="none"/>
<path d="M556.9 591.4H589.9" stroke="#ff0000" stroke-opacity="0.85" stroke-width="1.2"/>
<path d="M622.9 569.4V593.2M614.6999999999999 569.4H631.1M614.6999999999999 593.2H631.1" stroke="#ff0000" stroke-opacity="0.9" stroke-width="1.1" fill="none"/>
<path d="M606.4 581.4H639.4" stroke="#ff0000" stroke-opacity="0.85" stroke-width="1.2"/>
</svg></body></html>
